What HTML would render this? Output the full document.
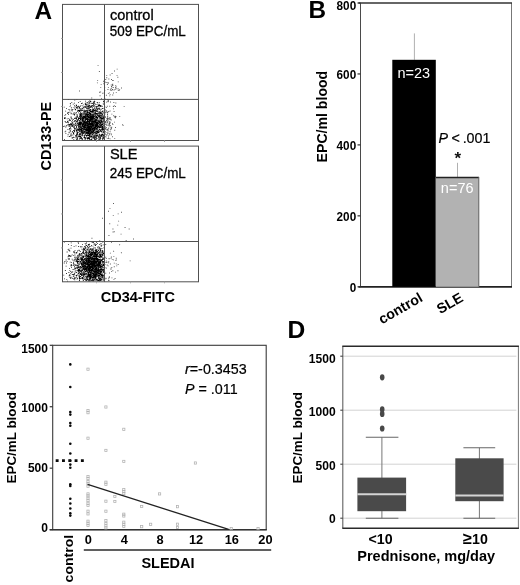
<!DOCTYPE html>
<html lang="en">
<head>
<meta charset="utf-8">
<title>EPC figure</title>
<style>
html,body{margin:0;padding:0;background:#fff;}
body{width:520px;height:585px;overflow:hidden;font-family:"Liberation Sans", sans-serif;}
svg{display:block;font-family:"Liberation Sans", sans-serif;will-change:transform;filter:grayscale(1);}
</style>
</head>
<body>
<svg width="520" height="585" viewBox="0 0 520 585">
<rect x="0" y="0" width="520" height="585" fill="#fff"/>
<g id="panelA">
<text x="34.6" y="18.6" font-size="24.4" font-weight="bold" text-anchor="start" fill="#000" >A</text>
<path d="M100.1 130.5h0.8v0.8h-0.8zM101.9 114.7h0.8v0.8h-0.8zM89.5 112.8h0.8v0.8h-0.8zM95.9 138.4h0.8v0.8h-0.8zM82.0 138.2h0.8v0.8h-0.8zM97.8 121.8h0.8v0.8h-0.8zM72.9 136.7h0.8v0.8h-0.8zM88.7 117.8h0.8v0.8h-0.8zM92.9 127.4h0.8v0.8h-0.8zM102.1 113.9h0.8v0.8h-0.8zM99.0 137.5h0.8v0.8h-0.8zM101.7 121.8h0.8v0.8h-0.8zM83.3 133.1h0.8v0.8h-0.8zM90.5 124.7h0.8v0.8h-0.8zM101.5 121.0h0.8v0.8h-0.8zM70.2 119.9h0.8v0.8h-0.8zM73.9 131.2h0.8v0.8h-0.8zM92.2 117.8h0.8v0.8h-0.8zM89.4 131.3h0.8v0.8h-0.8zM90.2 136.0h0.8v0.8h-0.8zM89.0 133.3h0.8v0.8h-0.8zM102.0 138.6h0.8v0.8h-0.8zM83.9 131.8h0.8v0.8h-0.8zM73.7 113.3h0.8v0.8h-0.8zM73.0 133.5h0.8v0.8h-0.8zM79.2 123.4h0.8v0.8h-0.8zM87.9 123.2h0.8v0.8h-0.8zM84.5 125.7h0.8v0.8h-0.8zM76.2 126.0h0.8v0.8h-0.8zM82.5 120.6h0.8v0.8h-0.8zM78.9 122.1h0.8v0.8h-0.8zM90.4 119.2h0.8v0.8h-0.8zM83.6 120.9h0.8v0.8h-0.8zM87.1 139.4h0.8v0.8h-0.8zM78.7 122.9h0.8v0.8h-0.8zM90.7 102.8h0.8v0.8h-0.8zM78.7 128.0h0.8v0.8h-0.8zM79.4 123.1h0.8v0.8h-0.8zM86.3 113.8h0.8v0.8h-0.8zM80.1 121.3h0.8v0.8h-0.8zM101.7 118.3h0.8v0.8h-0.8zM103.8 107.8h0.8v0.8h-0.8zM88.9 135.5h0.8v0.8h-0.8zM96.1 130.5h0.8v0.8h-0.8zM95.1 126.6h0.8v0.8h-0.8zM100.7 129.7h0.8v0.8h-0.8zM93.3 103.9h0.8v0.8h-0.8zM97.0 135.8h0.8v0.8h-0.8zM87.0 119.1h0.8v0.8h-0.8zM97.6 120.7h0.8v0.8h-0.8zM64.1 125.8h0.8v0.8h-0.8zM92.0 118.7h0.8v0.8h-0.8zM80.3 128.2h0.8v0.8h-0.8zM86.6 128.8h0.8v0.8h-0.8zM83.9 137.2h0.8v0.8h-0.8zM100.1 125.0h0.8v0.8h-0.8zM88.0 124.2h0.8v0.8h-0.8zM83.7 135.0h0.8v0.8h-0.8zM86.4 123.2h0.8v0.8h-0.8zM94.7 128.0h0.8v0.8h-0.8zM103.6 127.5h0.8v0.8h-0.8zM88.9 128.4h0.8v0.8h-0.8zM73.2 133.2h0.8v0.8h-0.8zM92.2 116.9h0.8v0.8h-0.8zM77.7 117.2h0.8v0.8h-0.8zM91.9 125.2h0.8v0.8h-0.8zM86.2 114.3h0.8v0.8h-0.8zM90.6 119.8h0.8v0.8h-0.8zM91.4 120.8h0.8v0.8h-0.8zM95.5 115.7h0.8v0.8h-0.8zM83.8 133.6h0.8v0.8h-0.8zM95.4 120.2h0.8v0.8h-0.8zM96.6 131.8h0.8v0.8h-0.8zM89.8 128.0h0.8v0.8h-0.8zM90.9 126.1h0.8v0.8h-0.8zM91.7 131.3h0.8v0.8h-0.8zM84.7 138.4h0.8v0.8h-0.8zM87.0 134.2h0.8v0.8h-0.8zM92.9 131.3h0.8v0.8h-0.8zM95.8 124.3h0.8v0.8h-0.8zM103.1 125.0h0.8v0.8h-0.8zM84.3 121.6h0.8v0.8h-0.8zM70.1 127.0h0.8v0.8h-0.8zM101.7 134.3h0.8v0.8h-0.8zM80.6 128.0h0.8v0.8h-0.8zM93.8 115.4h0.8v0.8h-0.8zM76.7 122.9h0.8v0.8h-0.8zM97.1 122.6h0.8v0.8h-0.8zM96.0 110.7h0.8v0.8h-0.8zM83.9 116.3h0.8v0.8h-0.8zM87.9 126.1h0.8v0.8h-0.8zM91.7 126.1h0.8v0.8h-0.8zM89.1 116.3h0.8v0.8h-0.8zM91.3 126.9h0.8v0.8h-0.8zM98.7 107.5h0.8v0.8h-0.8zM86.2 116.8h0.8v0.8h-0.8zM89.8 131.3h0.8v0.8h-0.8zM84.7 124.9h0.8v0.8h-0.8zM83.3 126.0h0.8v0.8h-0.8zM86.6 131.7h0.8v0.8h-0.8zM97.7 123.6h0.8v0.8h-0.8zM79.7 125.3h0.8v0.8h-0.8zM92.5 134.1h0.8v0.8h-0.8zM96.1 123.7h0.8v0.8h-0.8zM96.7 128.6h0.8v0.8h-0.8zM91.2 124.0h0.8v0.8h-0.8zM87.5 129.9h0.8v0.8h-0.8zM80.6 117.6h0.8v0.8h-0.8zM89.5 109.7h0.8v0.8h-0.8zM85.8 104.6h0.8v0.8h-0.8zM83.8 128.8h0.8v0.8h-0.8zM94.3 123.0h0.8v0.8h-0.8zM87.6 110.2h0.8v0.8h-0.8zM80.0 112.5h0.8v0.8h-0.8zM91.3 118.7h0.8v0.8h-0.8zM79.7 121.8h0.8v0.8h-0.8zM97.2 108.9h0.8v0.8h-0.8zM94.6 112.5h0.8v0.8h-0.8zM99.5 114.6h0.8v0.8h-0.8zM87.4 117.1h0.8v0.8h-0.8zM93.9 124.5h0.8v0.8h-0.8zM87.0 126.9h0.8v0.8h-0.8zM95.0 113.2h0.8v0.8h-0.8zM81.3 114.0h0.8v0.8h-0.8zM85.4 113.6h0.8v0.8h-0.8zM79.1 123.3h0.8v0.8h-0.8zM87.8 120.6h0.8v0.8h-0.8zM89.0 116.4h0.8v0.8h-0.8zM95.4 126.8h0.8v0.8h-0.8zM88.8 117.2h0.8v0.8h-0.8zM82.4 130.7h0.8v0.8h-0.8zM83.7 108.8h0.8v0.8h-0.8zM80.6 114.5h0.8v0.8h-0.8zM93.7 126.0h0.8v0.8h-0.8zM89.2 139.0h0.8v0.8h-0.8zM85.9 135.0h0.8v0.8h-0.8zM92.5 123.8h0.8v0.8h-0.8zM88.0 137.4h0.8v0.8h-0.8zM85.0 110.3h0.8v0.8h-0.8zM86.9 134.5h0.8v0.8h-0.8zM80.3 125.8h0.8v0.8h-0.8zM102.6 137.0h0.8v0.8h-0.8zM91.0 122.8h0.8v0.8h-0.8zM74.5 127.9h0.8v0.8h-0.8zM98.5 121.5h0.8v0.8h-0.8zM88.8 129.9h0.8v0.8h-0.8zM94.9 121.3h0.8v0.8h-0.8zM85.5 121.0h0.8v0.8h-0.8zM69.0 120.0h0.8v0.8h-0.8zM100.0 136.4h0.8v0.8h-0.8zM72.0 122.4h0.8v0.8h-0.8zM87.7 117.0h0.8v0.8h-0.8zM97.3 117.0h0.8v0.8h-0.8zM90.2 123.6h0.8v0.8h-0.8zM80.3 124.0h0.8v0.8h-0.8zM88.0 128.4h0.8v0.8h-0.8zM85.4 130.3h0.8v0.8h-0.8zM89.8 123.0h0.8v0.8h-0.8zM89.6 105.5h0.8v0.8h-0.8zM103.5 138.2h0.8v0.8h-0.8zM85.3 103.8h0.8v0.8h-0.8zM87.5 132.3h0.8v0.8h-0.8zM82.8 118.8h0.8v0.8h-0.8zM83.4 126.8h0.8v0.8h-0.8zM93.2 124.8h0.8v0.8h-0.8zM93.0 116.9h0.8v0.8h-0.8zM95.3 120.7h0.8v0.8h-0.8zM88.5 134.7h0.8v0.8h-0.8zM92.5 131.9h0.8v0.8h-0.8zM76.9 108.3h0.8v0.8h-0.8zM99.4 119.2h0.8v0.8h-0.8zM89.0 120.6h0.8v0.8h-0.8zM88.5 113.3h0.8v0.8h-0.8zM89.7 110.0h0.8v0.8h-0.8zM88.9 126.4h0.8v0.8h-0.8zM93.4 121.3h0.8v0.8h-0.8zM81.9 125.0h0.8v0.8h-0.8zM85.4 138.2h0.8v0.8h-0.8zM95.9 122.4h0.8v0.8h-0.8zM85.5 116.9h0.8v0.8h-0.8zM81.6 120.2h0.8v0.8h-0.8zM92.0 128.3h0.8v0.8h-0.8zM83.6 123.6h0.8v0.8h-0.8zM93.0 128.2h0.8v0.8h-0.8zM96.0 128.1h0.8v0.8h-0.8zM94.7 127.3h0.8v0.8h-0.8zM88.9 135.7h0.8v0.8h-0.8zM100.1 113.3h0.8v0.8h-0.8zM82.1 128.6h0.8v0.8h-0.8zM81.4 122.1h0.8v0.8h-0.8zM87.9 126.4h0.8v0.8h-0.8zM96.5 131.4h0.8v0.8h-0.8zM78.0 109.9h0.8v0.8h-0.8zM90.9 130.8h0.8v0.8h-0.8zM89.6 133.0h0.8v0.8h-0.8zM69.9 131.3h0.8v0.8h-0.8zM99.4 108.0h0.8v0.8h-0.8zM91.6 123.8h0.8v0.8h-0.8zM85.0 104.2h0.8v0.8h-0.8zM78.5 125.6h0.8v0.8h-0.8zM97.9 123.5h0.8v0.8h-0.8zM103.6 115.7h0.8v0.8h-0.8zM103.3 103.7h0.8v0.8h-0.8zM89.5 128.0h0.8v0.8h-0.8zM95.3 132.9h0.8v0.8h-0.8zM81.2 103.1h0.8v0.8h-0.8zM87.4 110.1h0.8v0.8h-0.8zM90.4 113.2h0.8v0.8h-0.8zM87.2 122.7h0.8v0.8h-0.8zM90.7 116.8h0.8v0.8h-0.8zM100.1 117.0h0.8v0.8h-0.8zM88.0 128.1h0.8v0.8h-0.8zM89.4 136.9h0.8v0.8h-0.8zM88.2 119.2h0.8v0.8h-0.8zM98.8 128.4h0.8v0.8h-0.8zM82.3 118.9h0.8v0.8h-0.8zM91.4 136.1h0.8v0.8h-0.8zM96.6 124.0h0.8v0.8h-0.8zM68.9 129.3h0.8v0.8h-0.8zM78.8 108.1h0.8v0.8h-0.8zM83.4 124.6h0.8v0.8h-0.8zM87.5 115.8h0.8v0.8h-0.8zM99.3 125.0h0.8v0.8h-0.8zM85.5 114.8h0.8v0.8h-0.8zM88.9 137.4h0.8v0.8h-0.8zM94.9 120.4h0.8v0.8h-0.8zM97.0 125.3h0.8v0.8h-0.8zM78.3 130.3h0.8v0.8h-0.8zM94.3 139.4h0.8v0.8h-0.8zM88.8 112.4h0.8v0.8h-0.8zM90.2 130.1h0.8v0.8h-0.8zM90.0 115.7h0.8v0.8h-0.8zM98.9 120.2h0.8v0.8h-0.8zM91.8 129.7h0.8v0.8h-0.8zM78.7 130.4h0.8v0.8h-0.8zM94.0 121.8h0.8v0.8h-0.8zM84.9 127.5h0.8v0.8h-0.8zM94.1 122.7h0.8v0.8h-0.8zM92.3 124.6h0.8v0.8h-0.8zM75.4 136.0h0.8v0.8h-0.8zM99.7 113.3h0.8v0.8h-0.8zM89.5 121.1h0.8v0.8h-0.8zM85.3 115.6h0.8v0.8h-0.8zM84.2 129.5h0.8v0.8h-0.8zM89.8 124.1h0.8v0.8h-0.8zM88.0 132.1h0.8v0.8h-0.8zM93.6 122.2h0.8v0.8h-0.8zM95.1 122.1h0.8v0.8h-0.8zM79.8 137.2h0.8v0.8h-0.8zM93.4 114.5h0.8v0.8h-0.8zM98.6 126.7h0.8v0.8h-0.8zM76.4 138.6h0.8v0.8h-0.8zM92.3 131.9h0.8v0.8h-0.8zM91.2 122.1h0.8v0.8h-0.8zM76.5 132.6h0.8v0.8h-0.8zM89.8 120.8h0.8v0.8h-0.8zM92.4 124.2h0.8v0.8h-0.8zM95.2 120.0h0.8v0.8h-0.8zM89.2 103.4h0.8v0.8h-0.8zM85.9 129.9h0.8v0.8h-0.8zM100.7 120.1h0.8v0.8h-0.8zM88.5 138.4h0.8v0.8h-0.8zM86.8 130.4h0.8v0.8h-0.8zM103.6 123.9h0.8v0.8h-0.8zM99.8 116.8h0.8v0.8h-0.8zM91.2 122.8h0.8v0.8h-0.8zM90.5 134.1h0.8v0.8h-0.8zM89.4 133.5h0.8v0.8h-0.8zM70.2 124.4h0.8v0.8h-0.8zM95.7 139.0h0.8v0.8h-0.8zM88.4 106.1h0.8v0.8h-0.8zM91.1 110.8h0.8v0.8h-0.8zM86.0 130.8h0.8v0.8h-0.8zM80.0 136.0h0.8v0.8h-0.8zM94.4 126.5h0.8v0.8h-0.8zM89.6 116.4h0.8v0.8h-0.8zM91.5 124.5h0.8v0.8h-0.8zM82.4 120.8h0.8v0.8h-0.8zM89.2 127.4h0.8v0.8h-0.8zM97.6 129.8h0.8v0.8h-0.8zM87.2 113.6h0.8v0.8h-0.8zM90.4 133.2h0.8v0.8h-0.8zM80.3 113.8h0.8v0.8h-0.8zM89.3 105.3h0.8v0.8h-0.8zM87.3 119.4h0.8v0.8h-0.8zM93.3 116.9h0.8v0.8h-0.8zM82.1 119.8h0.8v0.8h-0.8zM89.1 117.3h0.8v0.8h-0.8zM89.6 130.6h0.8v0.8h-0.8zM82.9 119.6h0.8v0.8h-0.8zM83.4 123.2h0.8v0.8h-0.8zM93.9 110.7h0.8v0.8h-0.8zM93.4 123.3h0.8v0.8h-0.8zM74.2 126.2h0.8v0.8h-0.8zM99.5 105.9h0.8v0.8h-0.8zM96.3 125.5h0.8v0.8h-0.8zM93.5 127.7h0.8v0.8h-0.8zM100.5 121.4h0.8v0.8h-0.8zM96.8 119.6h0.8v0.8h-0.8zM95.6 115.8h0.8v0.8h-0.8zM93.2 122.0h0.8v0.8h-0.8zM79.9 116.1h0.8v0.8h-0.8zM91.1 132.3h0.8v0.8h-0.8zM93.1 128.4h0.8v0.8h-0.8zM89.1 136.2h0.8v0.8h-0.8zM86.2 118.3h0.8v0.8h-0.8zM97.0 124.1h0.8v0.8h-0.8zM87.2 118.1h0.8v0.8h-0.8zM87.3 129.4h0.8v0.8h-0.8zM92.5 112.1h0.8v0.8h-0.8zM93.1 125.2h0.8v0.8h-0.8zM81.1 130.8h0.8v0.8h-0.8zM87.1 120.3h0.8v0.8h-0.8zM96.2 135.9h0.8v0.8h-0.8zM83.7 127.6h0.8v0.8h-0.8zM85.4 134.7h0.8v0.8h-0.8zM84.1 131.1h0.8v0.8h-0.8zM93.9 137.8h0.8v0.8h-0.8zM89.8 124.5h0.8v0.8h-0.8zM96.7 117.8h0.8v0.8h-0.8zM93.2 114.8h0.8v0.8h-0.8zM96.4 116.5h0.8v0.8h-0.8zM90.3 124.9h0.8v0.8h-0.8zM78.1 119.2h0.8v0.8h-0.8zM92.6 121.3h0.8v0.8h-0.8zM83.7 117.2h0.8v0.8h-0.8zM84.8 123.4h0.8v0.8h-0.8zM87.4 134.7h0.8v0.8h-0.8zM93.1 121.5h0.8v0.8h-0.8zM74.3 124.5h0.8v0.8h-0.8zM94.9 122.2h0.8v0.8h-0.8zM99.0 121.8h0.8v0.8h-0.8zM99.1 116.1h0.8v0.8h-0.8zM91.7 118.5h0.8v0.8h-0.8zM90.8 117.0h0.8v0.8h-0.8zM76.1 133.8h0.8v0.8h-0.8zM92.0 118.2h0.8v0.8h-0.8zM91.2 132.8h0.8v0.8h-0.8zM81.3 122.5h0.8v0.8h-0.8zM94.0 128.4h0.8v0.8h-0.8zM86.7 103.7h0.8v0.8h-0.8zM99.9 126.6h0.8v0.8h-0.8zM89.6 120.9h0.8v0.8h-0.8zM91.7 119.5h0.8v0.8h-0.8zM80.9 116.5h0.8v0.8h-0.8zM84.5 117.7h0.8v0.8h-0.8zM79.8 129.5h0.8v0.8h-0.8zM78.5 129.7h0.8v0.8h-0.8zM81.0 126.8h0.8v0.8h-0.8zM101.0 125.4h0.8v0.8h-0.8zM83.4 124.0h0.8v0.8h-0.8zM90.7 107.2h0.8v0.8h-0.8zM84.4 125.0h0.8v0.8h-0.8zM85.6 124.2h0.8v0.8h-0.8zM95.7 130.7h0.8v0.8h-0.8zM97.1 129.0h0.8v0.8h-0.8zM87.1 123.3h0.8v0.8h-0.8zM87.2 120.6h0.8v0.8h-0.8zM88.0 107.3h0.8v0.8h-0.8zM86.7 123.3h0.8v0.8h-0.8zM81.3 123.3h0.8v0.8h-0.8zM93.8 122.0h0.8v0.8h-0.8zM91.7 117.8h0.8v0.8h-0.8zM99.2 122.2h0.8v0.8h-0.8zM94.1 102.4h0.8v0.8h-0.8zM96.7 127.0h0.8v0.8h-0.8zM89.7 118.0h0.8v0.8h-0.8zM94.9 118.9h0.8v0.8h-0.8zM91.4 118.7h0.8v0.8h-0.8zM70.6 123.2h0.8v0.8h-0.8zM91.2 130.6h0.8v0.8h-0.8zM82.1 123.2h0.8v0.8h-0.8zM94.7 124.9h0.8v0.8h-0.8zM81.9 105.4h0.8v0.8h-0.8zM96.7 137.9h0.8v0.8h-0.8zM97.2 131.2h0.8v0.8h-0.8zM84.3 116.8h0.8v0.8h-0.8zM97.0 114.9h0.8v0.8h-0.8zM74.3 114.1h0.8v0.8h-0.8zM83.7 116.6h0.8v0.8h-0.8zM91.4 116.5h0.8v0.8h-0.8zM100.5 122.8h0.8v0.8h-0.8zM80.4 135.8h0.8v0.8h-0.8zM84.6 125.6h0.8v0.8h-0.8zM89.4 120.5h0.8v0.8h-0.8zM92.2 117.0h0.8v0.8h-0.8zM74.0 102.7h0.8v0.8h-0.8zM78.9 116.4h0.8v0.8h-0.8zM89.3 124.0h0.8v0.8h-0.8zM94.2 124.6h0.8v0.8h-0.8zM82.8 116.8h0.8v0.8h-0.8zM71.7 121.9h0.8v0.8h-0.8zM93.6 128.5h0.8v0.8h-0.8zM88.5 121.9h0.8v0.8h-0.8zM97.4 123.6h0.8v0.8h-0.8zM95.7 129.0h0.8v0.8h-0.8zM91.3 135.8h0.8v0.8h-0.8zM84.7 120.1h0.8v0.8h-0.8zM82.7 116.0h0.8v0.8h-0.8zM89.7 128.8h0.8v0.8h-0.8zM99.4 131.1h0.8v0.8h-0.8zM99.6 111.6h0.8v0.8h-0.8zM84.1 127.8h0.8v0.8h-0.8zM101.6 124.5h0.8v0.8h-0.8zM82.3 120.2h0.8v0.8h-0.8zM84.0 115.4h0.8v0.8h-0.8zM102.1 117.6h0.8v0.8h-0.8zM99.5 126.7h0.8v0.8h-0.8zM84.4 127.4h0.8v0.8h-0.8zM103.1 129.4h0.8v0.8h-0.8zM100.1 124.4h0.8v0.8h-0.8zM93.8 121.6h0.8v0.8h-0.8zM93.1 135.7h0.8v0.8h-0.8zM77.5 122.9h0.8v0.8h-0.8zM91.5 118.1h0.8v0.8h-0.8zM86.9 130.9h0.8v0.8h-0.8zM89.3 122.5h0.8v0.8h-0.8zM97.3 110.6h0.8v0.8h-0.8zM76.0 126.8h0.8v0.8h-0.8zM83.8 125.5h0.8v0.8h-0.8zM94.3 127.7h0.8v0.8h-0.8zM96.9 125.6h0.8v0.8h-0.8zM89.5 109.0h0.8v0.8h-0.8zM97.0 111.3h0.8v0.8h-0.8zM88.4 135.4h0.8v0.8h-0.8zM75.9 130.0h0.8v0.8h-0.8zM83.0 122.4h0.8v0.8h-0.8zM75.8 104.5h0.8v0.8h-0.8zM96.0 124.2h0.8v0.8h-0.8zM90.7 139.0h0.8v0.8h-0.8zM102.6 118.2h0.8v0.8h-0.8zM86.6 129.6h0.8v0.8h-0.8zM99.4 116.2h0.8v0.8h-0.8zM85.1 110.5h0.8v0.8h-0.8zM98.9 122.1h0.8v0.8h-0.8zM96.4 111.2h0.8v0.8h-0.8zM95.1 115.6h0.8v0.8h-0.8zM87.8 111.4h0.8v0.8h-0.8zM87.4 129.6h0.8v0.8h-0.8zM87.1 120.9h0.8v0.8h-0.8zM93.5 120.7h0.8v0.8h-0.8zM93.4 124.3h0.8v0.8h-0.8zM96.5 119.8h0.8v0.8h-0.8zM90.8 125.3h0.8v0.8h-0.8zM102.0 127.2h0.8v0.8h-0.8zM80.8 112.7h0.8v0.8h-0.8zM89.2 120.0h0.8v0.8h-0.8zM82.8 118.7h0.8v0.8h-0.8zM95.9 107.6h0.8v0.8h-0.8zM91.9 121.3h0.8v0.8h-0.8zM102.1 108.1h0.8v0.8h-0.8zM93.3 122.0h0.8v0.8h-0.8zM90.6 127.9h0.8v0.8h-0.8zM79.1 110.4h0.8v0.8h-0.8zM84.8 117.8h0.8v0.8h-0.8zM92.6 126.0h0.8v0.8h-0.8zM89.8 117.1h0.8v0.8h-0.8zM85.8 132.5h0.8v0.8h-0.8zM95.9 124.4h0.8v0.8h-0.8zM86.8 138.1h0.8v0.8h-0.8zM84.5 129.6h0.8v0.8h-0.8zM99.2 121.0h0.8v0.8h-0.8zM96.4 113.0h0.8v0.8h-0.8zM98.0 125.4h0.8v0.8h-0.8zM76.2 129.8h0.8v0.8h-0.8zM82.0 135.5h0.8v0.8h-0.8zM83.8 122.0h0.8v0.8h-0.8zM91.9 120.4h0.8v0.8h-0.8zM91.7 118.3h0.8v0.8h-0.8zM95.1 123.6h0.8v0.8h-0.8zM79.7 124.1h0.8v0.8h-0.8zM91.1 117.8h0.8v0.8h-0.8zM81.7 123.8h0.8v0.8h-0.8zM92.7 117.1h0.8v0.8h-0.8zM95.9 120.8h0.8v0.8h-0.8zM92.4 137.7h0.8v0.8h-0.8zM85.4 123.5h0.8v0.8h-0.8zM87.2 120.6h0.8v0.8h-0.8zM92.6 109.4h0.8v0.8h-0.8zM92.2 110.6h0.8v0.8h-0.8zM84.3 131.0h0.8v0.8h-0.8zM75.6 135.7h0.8v0.8h-0.8zM91.3 130.6h0.8v0.8h-0.8zM97.6 117.1h0.8v0.8h-0.8zM76.8 136.9h0.8v0.8h-0.8zM90.5 133.9h0.8v0.8h-0.8zM75.7 120.4h0.8v0.8h-0.8zM89.7 110.0h0.8v0.8h-0.8zM85.2 130.3h0.8v0.8h-0.8zM98.6 138.5h0.8v0.8h-0.8zM82.2 110.3h0.8v0.8h-0.8zM93.9 132.3h0.8v0.8h-0.8zM91.1 111.3h0.8v0.8h-0.8zM96.1 131.0h0.8v0.8h-0.8zM94.1 118.9h0.8v0.8h-0.8zM92.1 130.9h0.8v0.8h-0.8zM84.8 106.2h0.8v0.8h-0.8zM92.3 128.0h0.8v0.8h-0.8zM89.6 131.9h0.8v0.8h-0.8zM84.6 122.7h0.8v0.8h-0.8zM86.9 128.9h0.8v0.8h-0.8zM102.9 121.1h0.8v0.8h-0.8zM93.3 108.8h0.8v0.8h-0.8zM84.4 126.0h0.8v0.8h-0.8zM86.9 120.1h0.8v0.8h-0.8zM91.8 132.5h0.8v0.8h-0.8zM97.8 125.5h0.8v0.8h-0.8zM92.8 109.5h0.8v0.8h-0.8zM77.6 123.5h0.8v0.8h-0.8zM85.0 124.7h0.8v0.8h-0.8zM82.7 117.7h0.8v0.8h-0.8zM88.5 103.0h0.8v0.8h-0.8zM79.6 128.7h0.8v0.8h-0.8zM89.5 113.7h0.8v0.8h-0.8zM91.3 138.4h0.8v0.8h-0.8zM100.1 112.4h0.8v0.8h-0.8zM84.4 106.0h0.8v0.8h-0.8zM84.3 111.3h0.8v0.8h-0.8zM82.5 125.8h0.8v0.8h-0.8zM86.9 120.4h0.8v0.8h-0.8zM76.7 131.4h0.8v0.8h-0.8zM86.8 110.6h0.8v0.8h-0.8zM89.5 133.4h0.8v0.8h-0.8zM78.3 127.1h0.8v0.8h-0.8zM78.9 131.1h0.8v0.8h-0.8zM94.3 121.0h0.8v0.8h-0.8zM81.3 110.0h0.8v0.8h-0.8zM82.0 130.5h0.8v0.8h-0.8zM91.8 123.1h0.8v0.8h-0.8zM84.7 122.0h0.8v0.8h-0.8zM93.5 101.6h0.8v0.8h-0.8zM85.7 123.0h0.8v0.8h-0.8zM80.1 118.2h0.8v0.8h-0.8zM87.4 112.5h0.8v0.8h-0.8zM79.4 109.9h0.8v0.8h-0.8zM80.9 122.2h0.8v0.8h-0.8zM95.0 121.4h0.8v0.8h-0.8zM86.1 114.9h0.8v0.8h-0.8zM89.8 118.7h0.8v0.8h-0.8zM97.3 122.6h0.8v0.8h-0.8zM95.8 126.1h0.8v0.8h-0.8zM88.4 124.4h0.8v0.8h-0.8zM81.8 128.3h0.8v0.8h-0.8zM87.0 115.2h0.8v0.8h-0.8zM88.9 130.2h0.8v0.8h-0.8zM88.4 101.2h0.8v0.8h-0.8zM83.7 122.4h0.8v0.8h-0.8zM92.2 114.6h0.8v0.8h-0.8zM90.5 128.3h0.8v0.8h-0.8zM92.0 106.6h0.8v0.8h-0.8zM83.2 115.6h0.8v0.8h-0.8zM83.9 120.9h0.8v0.8h-0.8zM97.1 121.5h0.8v0.8h-0.8zM79.5 110.2h0.8v0.8h-0.8zM93.3 113.8h0.8v0.8h-0.8zM86.6 134.9h0.8v0.8h-0.8zM100.7 136.1h0.8v0.8h-0.8zM79.5 138.0h0.8v0.8h-0.8zM88.6 132.6h0.8v0.8h-0.8zM89.3 133.4h0.8v0.8h-0.8zM89.7 124.1h0.8v0.8h-0.8zM88.3 116.0h0.8v0.8h-0.8zM89.7 131.5h0.8v0.8h-0.8zM80.7 124.8h0.8v0.8h-0.8zM81.5 113.0h0.8v0.8h-0.8zM91.3 120.9h0.8v0.8h-0.8zM98.1 105.5h0.8v0.8h-0.8zM90.5 118.4h0.8v0.8h-0.8zM95.3 111.9h0.8v0.8h-0.8zM90.8 123.6h0.8v0.8h-0.8zM101.2 119.4h0.8v0.8h-0.8zM89.5 127.8h0.8v0.8h-0.8zM93.3 128.9h0.8v0.8h-0.8zM90.8 114.9h0.8v0.8h-0.8zM90.8 118.0h0.8v0.8h-0.8zM98.4 115.4h0.8v0.8h-0.8zM91.9 109.8h0.8v0.8h-0.8zM101.1 113.3h0.8v0.8h-0.8zM92.4 118.2h0.8v0.8h-0.8zM85.9 112.7h0.8v0.8h-0.8zM89.0 113.4h0.8v0.8h-0.8zM97.4 115.5h0.8v0.8h-0.8zM88.9 130.3h0.8v0.8h-0.8zM95.8 131.9h0.8v0.8h-0.8zM98.3 127.3h0.8v0.8h-0.8zM95.5 132.1h0.8v0.8h-0.8zM79.0 123.6h0.8v0.8h-0.8zM90.1 122.7h0.8v0.8h-0.8zM94.6 114.6h0.8v0.8h-0.8zM78.0 118.2h0.8v0.8h-0.8zM93.9 115.8h0.8v0.8h-0.8zM70.9 135.2h0.8v0.8h-0.8zM100.1 129.6h0.8v0.8h-0.8zM88.2 121.8h0.8v0.8h-0.8zM79.7 114.4h0.8v0.8h-0.8zM96.3 120.0h0.8v0.8h-0.8zM99.5 122.2h0.8v0.8h-0.8zM71.7 125.4h0.8v0.8h-0.8zM102.6 126.7h0.8v0.8h-0.8zM84.1 117.4h0.8v0.8h-0.8zM94.7 116.6h0.8v0.8h-0.8zM79.4 125.3h0.8v0.8h-0.8zM90.2 117.1h0.8v0.8h-0.8zM81.4 127.4h0.8v0.8h-0.8zM74.7 117.6h0.8v0.8h-0.8zM81.3 129.8h0.8v0.8h-0.8zM88.1 134.6h0.8v0.8h-0.8zM101.6 121.4h0.8v0.8h-0.8zM91.5 115.4h0.8v0.8h-0.8zM86.6 130.7h0.8v0.8h-0.8zM79.3 116.6h0.8v0.8h-0.8zM90.0 120.9h0.8v0.8h-0.8zM86.5 104.2h0.8v0.8h-0.8zM86.9 122.7h0.8v0.8h-0.8zM89.2 124.5h0.8v0.8h-0.8zM80.0 114.8h0.8v0.8h-0.8zM94.0 103.5h0.8v0.8h-0.8zM80.6 115.1h0.8v0.8h-0.8zM80.4 113.1h0.8v0.8h-0.8zM79.1 115.4h0.8v0.8h-0.8zM92.4 137.1h0.8v0.8h-0.8zM75.7 127.7h0.8v0.8h-0.8zM93.8 127.0h0.8v0.8h-0.8zM103.6 127.2h0.8v0.8h-0.8zM100.0 116.4h0.8v0.8h-0.8zM78.9 136.3h0.8v0.8h-0.8zM92.0 111.7h0.8v0.8h-0.8zM89.1 131.5h0.8v0.8h-0.8zM83.0 127.4h0.8v0.8h-0.8zM78.6 129.2h0.8v0.8h-0.8zM92.1 122.2h0.8v0.8h-0.8zM87.3 122.4h0.8v0.8h-0.8zM100.7 135.1h0.8v0.8h-0.8zM72.8 113.9h0.8v0.8h-0.8zM88.2 124.0h0.8v0.8h-0.8zM81.0 131.7h0.8v0.8h-0.8zM86.2 125.8h0.8v0.8h-0.8zM85.9 118.4h0.8v0.8h-0.8zM90.4 124.9h0.8v0.8h-0.8zM102.2 123.9h0.8v0.8h-0.8zM103.9 133.5h0.8v0.8h-0.8zM90.6 124.8h0.8v0.8h-0.8zM88.3 116.6h0.8v0.8h-0.8zM88.9 117.5h0.8v0.8h-0.8zM103.3 128.5h0.8v0.8h-0.8zM85.7 105.5h0.8v0.8h-0.8zM89.1 119.6h0.8v0.8h-0.8zM80.4 112.8h0.8v0.8h-0.8zM70.6 128.8h0.8v0.8h-0.8zM89.2 122.1h0.8v0.8h-0.8zM101.6 124.8h0.8v0.8h-0.8zM90.9 120.0h0.8v0.8h-0.8zM84.4 137.6h0.8v0.8h-0.8zM86.6 123.8h0.8v0.8h-0.8zM82.1 132.6h0.8v0.8h-0.8zM77.8 128.8h0.8v0.8h-0.8zM98.7 136.8h0.8v0.8h-0.8zM81.6 133.7h0.8v0.8h-0.8zM83.5 116.4h0.8v0.8h-0.8zM78.4 134.4h0.8v0.8h-0.8zM103.3 117.9h0.8v0.8h-0.8zM83.1 120.3h0.8v0.8h-0.8zM93.0 116.0h0.8v0.8h-0.8zM71.3 107.5h0.8v0.8h-0.8zM95.1 112.4h0.8v0.8h-0.8zM86.3 132.8h0.8v0.8h-0.8zM95.7 117.6h0.8v0.8h-0.8zM85.0 111.8h0.8v0.8h-0.8zM101.6 113.1h0.8v0.8h-0.8zM89.4 124.0h0.8v0.8h-0.8zM88.8 133.3h0.8v0.8h-0.8zM76.3 114.5h0.8v0.8h-0.8zM91.4 121.7h0.8v0.8h-0.8zM97.2 108.6h0.8v0.8h-0.8zM96.8 114.4h0.8v0.8h-0.8zM94.0 110.1h0.8v0.8h-0.8zM96.1 119.0h0.8v0.8h-0.8zM98.7 129.6h0.8v0.8h-0.8zM91.1 117.5h0.8v0.8h-0.8zM89.5 101.7h0.8v0.8h-0.8zM90.6 136.3h0.8v0.8h-0.8zM85.4 114.0h0.8v0.8h-0.8zM91.2 130.4h0.8v0.8h-0.8zM89.6 106.9h0.8v0.8h-0.8zM86.0 124.5h0.8v0.8h-0.8zM94.5 108.3h0.8v0.8h-0.8zM90.7 135.8h0.8v0.8h-0.8zM103.4 111.7h0.8v0.8h-0.8zM80.0 122.0h0.8v0.8h-0.8zM84.9 120.3h0.8v0.8h-0.8zM91.4 129.0h0.8v0.8h-0.8zM87.1 115.0h0.8v0.8h-0.8zM81.7 119.7h0.8v0.8h-0.8zM84.8 122.9h0.8v0.8h-0.8zM98.8 131.7h0.8v0.8h-0.8zM90.6 118.2h0.8v0.8h-0.8zM83.2 118.5h0.8v0.8h-0.8zM87.8 123.3h0.8v0.8h-0.8zM78.7 124.5h0.8v0.8h-0.8zM71.3 133.7h0.8v0.8h-0.8zM91.2 106.2h0.8v0.8h-0.8zM95.8 121.9h0.8v0.8h-0.8zM95.0 125.0h0.8v0.8h-0.8zM91.0 127.1h0.8v0.8h-0.8zM99.7 127.3h0.8v0.8h-0.8zM95.9 115.9h0.8v0.8h-0.8zM82.6 118.0h0.8v0.8h-0.8zM89.0 135.6h0.8v0.8h-0.8zM76.2 105.3h0.8v0.8h-0.8zM85.4 115.3h0.8v0.8h-0.8zM84.8 125.3h0.8v0.8h-0.8zM95.8 125.2h0.8v0.8h-0.8zM102.7 113.4h0.8v0.8h-0.8zM103.6 128.3h0.8v0.8h-0.8zM86.5 110.4h0.8v0.8h-0.8zM92.3 123.2h0.8v0.8h-0.8zM98.1 135.9h0.8v0.8h-0.8zM101.2 118.2h0.8v0.8h-0.8zM86.1 135.5h0.8v0.8h-0.8zM89.7 119.1h0.8v0.8h-0.8zM86.6 130.0h0.8v0.8h-0.8zM96.3 131.1h0.8v0.8h-0.8zM92.5 129.5h0.8v0.8h-0.8zM97.4 134.6h0.8v0.8h-0.8zM102.8 124.7h0.8v0.8h-0.8zM90.3 125.9h0.8v0.8h-0.8zM94.8 120.6h0.8v0.8h-0.8zM95.3 131.4h0.8v0.8h-0.8zM83.1 116.1h0.8v0.8h-0.8zM81.1 138.3h0.8v0.8h-0.8zM77.8 125.4h0.8v0.8h-0.8zM93.2 128.7h0.8v0.8h-0.8zM102.0 128.7h0.8v0.8h-0.8zM85.1 121.8h0.8v0.8h-0.8zM94.0 118.1h0.8v0.8h-0.8zM85.3 126.4h0.8v0.8h-0.8zM86.9 128.4h0.8v0.8h-0.8zM82.2 124.0h0.8v0.8h-0.8zM92.9 120.9h0.8v0.8h-0.8zM92.3 123.1h0.8v0.8h-0.8zM99.4 114.9h0.8v0.8h-0.8zM91.8 133.9h0.8v0.8h-0.8zM88.0 130.6h0.8v0.8h-0.8zM91.9 132.0h0.8v0.8h-0.8zM95.2 128.0h0.8v0.8h-0.8zM91.8 121.5h0.8v0.8h-0.8zM88.5 115.7h0.8v0.8h-0.8zM91.0 123.3h0.8v0.8h-0.8zM92.2 115.5h0.8v0.8h-0.8zM89.8 123.9h0.8v0.8h-0.8zM94.6 113.5h0.8v0.8h-0.8zM93.0 132.7h0.8v0.8h-0.8zM94.5 120.0h0.8v0.8h-0.8zM85.4 121.3h0.8v0.8h-0.8zM95.6 138.1h0.8v0.8h-0.8zM88.2 117.5h0.8v0.8h-0.8zM92.7 125.4h0.8v0.8h-0.8zM81.9 116.6h0.8v0.8h-0.8zM88.6 129.8h0.8v0.8h-0.8zM79.5 113.9h0.8v0.8h-0.8zM93.7 112.0h0.8v0.8h-0.8zM90.4 126.8h0.8v0.8h-0.8zM88.6 113.9h0.8v0.8h-0.8zM89.0 120.4h0.8v0.8h-0.8zM92.3 115.6h0.8v0.8h-0.8zM98.7 107.8h0.8v0.8h-0.8zM88.0 123.6h0.8v0.8h-0.8zM97.6 117.8h0.8v0.8h-0.8zM94.1 118.2h0.8v0.8h-0.8zM86.1 127.7h0.8v0.8h-0.8zM81.7 132.6h0.8v0.8h-0.8zM99.7 123.8h0.8v0.8h-0.8zM80.0 127.3h0.8v0.8h-0.8zM99.2 133.7h0.8v0.8h-0.8zM96.3 106.3h0.8v0.8h-0.8zM83.8 136.9h0.8v0.8h-0.8zM79.2 134.1h0.8v0.8h-0.8zM79.4 123.9h0.8v0.8h-0.8zM79.3 121.3h0.8v0.8h-0.8zM91.1 127.5h0.8v0.8h-0.8zM93.2 124.3h0.8v0.8h-0.8zM87.8 117.6h0.8v0.8h-0.8zM100.8 124.9h0.8v0.8h-0.8zM80.4 118.2h0.8v0.8h-0.8zM88.4 119.3h0.8v0.8h-0.8zM98.6 112.6h0.8v0.8h-0.8zM93.6 124.8h0.8v0.8h-0.8zM79.6 123.9h0.8v0.8h-0.8zM88.7 128.2h0.8v0.8h-0.8zM85.7 126.4h0.8v0.8h-0.8zM75.5 113.3h0.8v0.8h-0.8zM96.1 133.3h0.8v0.8h-0.8zM89.4 117.9h0.8v0.8h-0.8zM98.6 103.8h0.8v0.8h-0.8zM82.8 129.8h0.8v0.8h-0.8zM95.0 113.8h0.8v0.8h-0.8zM73.6 137.1h0.8v0.8h-0.8zM90.8 115.1h0.8v0.8h-0.8zM90.0 132.0h0.8v0.8h-0.8zM67.7 133.9h0.8v0.8h-0.8zM95.7 103.9h0.8v0.8h-0.8zM96.0 106.8h0.8v0.8h-0.8zM99.1 127.2h0.8v0.8h-0.8zM79.0 129.8h0.8v0.8h-0.8zM82.7 132.2h0.8v0.8h-0.8zM97.6 127.7h0.8v0.8h-0.8zM87.8 123.4h0.8v0.8h-0.8zM92.8 101.7h0.8v0.8h-0.8zM79.3 110.8h0.8v0.8h-0.8zM102.5 110.5h0.8v0.8h-0.8zM101.3 126.4h0.8v0.8h-0.8zM88.2 137.6h0.8v0.8h-0.8zM88.0 135.1h0.8v0.8h-0.8zM99.9 117.5h0.8v0.8h-0.8zM89.5 134.9h0.8v0.8h-0.8zM70.6 132.8h0.8v0.8h-0.8zM87.8 131.3h0.8v0.8h-0.8zM86.9 119.7h0.8v0.8h-0.8zM72.1 110.4h0.8v0.8h-0.8zM82.9 122.9h0.8v0.8h-0.8zM79.4 125.9h0.8v0.8h-0.8zM92.1 127.4h0.8v0.8h-0.8zM94.3 129.3h0.8v0.8h-0.8zM83.7 127.8h0.8v0.8h-0.8zM89.6 127.5h0.8v0.8h-0.8zM74.1 118.3h0.8v0.8h-0.8zM81.1 115.7h0.8v0.8h-0.8zM86.2 118.4h0.8v0.8h-0.8zM87.2 113.4h0.8v0.8h-0.8zM78.5 119.7h0.8v0.8h-0.8zM82.4 125.1h0.8v0.8h-0.8zM89.8 130.1h0.8v0.8h-0.8zM81.3 122.8h0.8v0.8h-0.8zM88.4 122.8h0.8v0.8h-0.8zM79.5 138.4h0.8v0.8h-0.8zM90.3 135.5h0.8v0.8h-0.8zM82.6 123.9h0.8v0.8h-0.8zM96.5 122.9h0.8v0.8h-0.8zM90.2 118.0h0.8v0.8h-0.8zM97.2 127.0h0.8v0.8h-0.8zM76.8 129.2h0.8v0.8h-0.8zM94.1 127.8h0.8v0.8h-0.8zM102.8 119.6h0.8v0.8h-0.8zM93.8 130.5h0.8v0.8h-0.8zM81.9 134.8h0.8v0.8h-0.8zM77.3 111.3h0.8v0.8h-0.8zM93.9 113.3h0.8v0.8h-0.8zM88.5 108.0h0.8v0.8h-0.8zM90.1 112.8h0.8v0.8h-0.8zM92.4 109.1h0.8v0.8h-0.8zM93.3 121.0h0.8v0.8h-0.8zM90.0 122.9h0.8v0.8h-0.8zM90.6 111.1h0.8v0.8h-0.8zM68.0 123.8h0.8v0.8h-0.8zM81.6 119.2h0.8v0.8h-0.8zM93.1 104.8h0.8v0.8h-0.8zM83.1 117.8h0.8v0.8h-0.8zM80.6 126.6h0.8v0.8h-0.8zM88.3 115.8h0.8v0.8h-0.8zM81.2 131.1h0.8v0.8h-0.8zM84.0 129.0h0.8v0.8h-0.8zM93.3 105.7h0.8v0.8h-0.8zM80.4 123.5h0.8v0.8h-0.8zM92.4 130.8h0.8v0.8h-0.8zM96.2 133.2h0.8v0.8h-0.8zM86.4 121.5h0.8v0.8h-0.8zM96.0 119.5h0.8v0.8h-0.8zM98.4 108.6h0.8v0.8h-0.8zM95.0 121.9h0.8v0.8h-0.8zM73.0 132.7h0.8v0.8h-0.8zM92.1 123.7h0.8v0.8h-0.8zM80.5 119.1h0.8v0.8h-0.8zM102.2 115.7h0.8v0.8h-0.8zM79.4 122.3h0.8v0.8h-0.8zM86.2 114.9h0.8v0.8h-0.8zM82.4 133.3h0.8v0.8h-0.8zM84.9 113.2h0.8v0.8h-0.8zM96.1 128.8h0.8v0.8h-0.8zM80.7 130.5h0.8v0.8h-0.8zM74.0 114.8h0.8v0.8h-0.8zM99.0 121.1h0.8v0.8h-0.8zM78.6 128.3h0.8v0.8h-0.8zM97.2 123.3h0.8v0.8h-0.8zM74.3 120.2h0.8v0.8h-0.8zM93.0 130.7h0.8v0.8h-0.8zM103.2 136.3h0.8v0.8h-0.8zM83.8 107.3h0.8v0.8h-0.8zM93.4 130.0h0.8v0.8h-0.8zM79.6 122.7h0.8v0.8h-0.8zM91.5 129.0h0.8v0.8h-0.8zM81.7 114.2h0.8v0.8h-0.8zM87.9 121.4h0.8v0.8h-0.8zM76.9 132.2h0.8v0.8h-0.8zM85.0 137.0h0.8v0.8h-0.8zM96.7 123.7h0.8v0.8h-0.8zM95.6 113.0h0.8v0.8h-0.8zM86.8 118.1h0.8v0.8h-0.8zM78.8 123.7h0.8v0.8h-0.8zM88.3 137.0h0.8v0.8h-0.8zM81.8 119.1h0.8v0.8h-0.8zM93.0 127.3h0.8v0.8h-0.8zM89.7 119.0h0.8v0.8h-0.8zM93.7 126.9h0.8v0.8h-0.8zM74.0 121.0h0.8v0.8h-0.8zM78.0 112.4h0.8v0.8h-0.8zM90.7 124.1h0.8v0.8h-0.8zM90.5 115.3h0.8v0.8h-0.8zM87.8 114.9h0.8v0.8h-0.8zM92.7 130.0h0.8v0.8h-0.8zM84.2 131.9h0.8v0.8h-0.8zM87.4 125.6h0.8v0.8h-0.8zM98.1 115.6h0.8v0.8h-0.8zM98.3 121.0h0.8v0.8h-0.8zM84.9 118.6h0.8v0.8h-0.8zM92.4 116.2h0.8v0.8h-0.8zM72.5 109.2h0.8v0.8h-0.8zM69.0 124.1h0.8v0.8h-0.8zM89.9 132.8h0.8v0.8h-0.8zM88.3 117.0h0.8v0.8h-0.8zM74.7 125.1h0.8v0.8h-0.8zM89.7 129.3h0.8v0.8h-0.8zM86.1 128.2h0.8v0.8h-0.8zM96.4 122.1h0.8v0.8h-0.8zM85.7 121.7h0.8v0.8h-0.8zM81.4 121.5h0.8v0.8h-0.8zM87.0 125.5h0.8v0.8h-0.8zM100.7 135.8h0.8v0.8h-0.8zM85.8 129.2h0.8v0.8h-0.8zM92.0 130.7h0.8v0.8h-0.8zM89.7 126.0h0.8v0.8h-0.8zM85.6 116.1h0.8v0.8h-0.8zM96.8 135.7h0.8v0.8h-0.8zM95.1 127.6h0.8v0.8h-0.8zM91.7 119.3h0.8v0.8h-0.8zM74.5 129.7h0.8v0.8h-0.8zM91.2 118.3h0.8v0.8h-0.8zM81.4 135.5h0.8v0.8h-0.8zM83.5 123.3h0.8v0.8h-0.8zM85.2 125.0h0.8v0.8h-0.8zM87.7 116.5h0.8v0.8h-0.8zM98.5 116.1h0.8v0.8h-0.8zM85.2 128.7h0.8v0.8h-0.8zM85.0 119.4h0.8v0.8h-0.8zM92.5 120.0h0.8v0.8h-0.8zM79.0 122.5h0.8v0.8h-0.8zM80.3 132.6h0.8v0.8h-0.8zM82.9 120.2h0.8v0.8h-0.8zM86.8 126.0h0.8v0.8h-0.8zM84.2 136.0h0.8v0.8h-0.8zM97.9 131.1h0.8v0.8h-0.8zM83.1 132.0h0.8v0.8h-0.8zM88.6 126.8h0.8v0.8h-0.8zM87.2 129.7h0.8v0.8h-0.8zM98.9 134.1h0.8v0.8h-0.8zM87.8 132.9h0.8v0.8h-0.8zM101.7 114.7h0.8v0.8h-0.8zM101.9 110.9h0.8v0.8h-0.8zM94.1 129.1h0.8v0.8h-0.8zM102.0 126.1h0.8v0.8h-0.8zM85.5 116.0h0.8v0.8h-0.8zM79.0 130.7h0.8v0.8h-0.8zM87.5 116.8h0.8v0.8h-0.8zM94.0 116.3h0.8v0.8h-0.8zM85.8 119.2h0.8v0.8h-0.8zM103.4 137.3h0.8v0.8h-0.8zM88.2 108.7h0.8v0.8h-0.8zM91.8 124.2h0.8v0.8h-0.8zM92.4 128.8h0.8v0.8h-0.8zM86.8 132.2h0.8v0.8h-0.8zM96.5 125.5h0.8v0.8h-0.8zM86.1 119.0h0.8v0.8h-0.8zM95.3 113.2h0.8v0.8h-0.8zM88.2 116.5h0.8v0.8h-0.8zM77.8 129.2h0.8v0.8h-0.8zM89.3 123.8h0.8v0.8h-0.8zM96.8 109.5h0.8v0.8h-0.8zM88.9 126.2h0.8v0.8h-0.8zM96.5 113.3h0.8v0.8h-0.8zM95.5 125.6h0.8v0.8h-0.8zM100.9 134.2h0.8v0.8h-0.8zM89.5 119.5h0.8v0.8h-0.8zM86.6 114.7h0.8v0.8h-0.8zM89.3 105.8h0.8v0.8h-0.8zM88.8 127.5h0.8v0.8h-0.8zM97.8 120.2h0.8v0.8h-0.8zM101.2 117.4h0.8v0.8h-0.8zM88.4 105.8h0.8v0.8h-0.8zM83.1 116.1h0.8v0.8h-0.8zM101.8 128.4h0.8v0.8h-0.8zM80.4 128.4h0.8v0.8h-0.8zM93.4 121.4h0.8v0.8h-0.8zM89.7 120.7h0.8v0.8h-0.8zM85.1 107.2h0.8v0.8h-0.8zM88.8 135.3h0.8v0.8h-0.8zM101.2 120.9h0.8v0.8h-0.8zM83.4 121.6h0.8v0.8h-0.8zM96.9 126.7h0.8v0.8h-0.8zM84.7 126.8h0.8v0.8h-0.8zM87.8 128.2h0.8v0.8h-0.8zM86.2 110.0h0.8v0.8h-0.8zM90.0 130.5h0.8v0.8h-0.8zM80.4 122.5h0.8v0.8h-0.8zM96.7 120.1h0.8v0.8h-0.8zM96.3 132.9h0.8v0.8h-0.8zM81.8 138.5h0.8v0.8h-0.8zM75.9 118.8h0.8v0.8h-0.8zM95.6 135.7h0.8v0.8h-0.8zM81.9 117.4h0.8v0.8h-0.8zM91.1 105.9h0.8v0.8h-0.8zM94.7 128.6h0.8v0.8h-0.8zM85.8 128.4h0.8v0.8h-0.8zM95.8 126.3h0.8v0.8h-0.8zM93.8 137.3h0.8v0.8h-0.8zM85.6 125.0h0.8v0.8h-0.8zM85.2 132.9h0.8v0.8h-0.8zM86.2 127.8h0.8v0.8h-0.8zM90.6 124.1h0.8v0.8h-0.8zM103.5 122.7h0.8v0.8h-0.8zM101.0 131.0h0.8v0.8h-0.8zM100.2 122.0h0.8v0.8h-0.8zM97.0 130.4h0.8v0.8h-0.8zM84.5 125.9h0.8v0.8h-0.8zM88.5 123.2h0.8v0.8h-0.8zM100.1 117.0h0.8v0.8h-0.8zM75.8 107.7h0.8v0.8h-0.8zM85.8 117.6h0.8v0.8h-0.8zM89.6 128.6h0.8v0.8h-0.8zM103.8 126.3h0.8v0.8h-0.8zM93.3 116.8h0.8v0.8h-0.8zM94.2 135.8h0.8v0.8h-0.8zM100.4 105.8h0.8v0.8h-0.8zM96.7 137.9h0.8v0.8h-0.8zM96.2 110.0h0.8v0.8h-0.8zM87.0 128.8h0.8v0.8h-0.8zM92.9 116.1h0.8v0.8h-0.8zM82.3 132.2h0.8v0.8h-0.8zM78.7 136.5h0.8v0.8h-0.8zM89.7 126.2h0.8v0.8h-0.8zM78.7 118.1h0.8v0.8h-0.8zM95.1 110.2h0.8v0.8h-0.8zM84.6 123.5h0.8v0.8h-0.8zM86.1 135.3h0.8v0.8h-0.8zM100.7 130.4h0.8v0.8h-0.8zM94.2 132.2h0.8v0.8h-0.8zM93.1 122.7h0.8v0.8h-0.8zM98.3 126.0h0.8v0.8h-0.8zM94.4 137.5h0.8v0.8h-0.8zM91.5 113.9h0.8v0.8h-0.8zM86.9 137.0h0.8v0.8h-0.8zM80.8 122.6h0.8v0.8h-0.8zM84.7 132.1h0.8v0.8h-0.8zM81.6 108.3h0.8v0.8h-0.8zM93.6 120.3h0.8v0.8h-0.8zM86.9 133.3h0.8v0.8h-0.8zM82.3 120.1h0.8v0.8h-0.8zM90.7 127.2h0.8v0.8h-0.8zM85.3 132.8h0.8v0.8h-0.8zM90.6 120.4h0.8v0.8h-0.8zM84.4 112.0h0.8v0.8h-0.8zM86.3 135.2h0.8v0.8h-0.8zM98.7 120.4h0.8v0.8h-0.8zM85.2 117.2h0.8v0.8h-0.8zM94.9 124.6h0.8v0.8h-0.8zM85.5 114.3h0.8v0.8h-0.8zM100.1 130.5h0.8v0.8h-0.8zM81.8 132.4h0.8v0.8h-0.8zM80.6 129.3h0.8v0.8h-0.8zM81.8 119.8h0.8v0.8h-0.8zM93.5 127.4h0.8v0.8h-0.8zM97.7 115.9h0.8v0.8h-0.8zM102.2 135.6h0.8v0.8h-0.8zM89.4 127.7h0.8v0.8h-0.8zM83.2 122.1h0.8v0.8h-0.8zM78.8 124.3h0.8v0.8h-0.8zM91.1 135.6h0.8v0.8h-0.8zM97.1 130.9h0.8v0.8h-0.8zM86.6 121.5h0.8v0.8h-0.8zM86.8 125.5h0.8v0.8h-0.8zM73.9 130.5h0.8v0.8h-0.8zM76.9 118.9h0.8v0.8h-0.8zM89.7 118.9h0.8v0.8h-0.8zM102.9 122.6h0.8v0.8h-0.8zM102.2 134.1h0.8v0.8h-0.8zM85.5 127.1h0.8v0.8h-0.8zM100.0 120.5h0.8v0.8h-0.8zM90.2 118.5h0.8v0.8h-0.8zM90.0 120.3h0.8v0.8h-0.8zM90.2 132.5h0.8v0.8h-0.8zM100.7 124.7h0.8v0.8h-0.8zM91.1 131.2h0.8v0.8h-0.8zM87.2 113.9h0.8v0.8h-0.8zM98.5 115.1h0.8v0.8h-0.8zM97.0 114.8h0.8v0.8h-0.8zM89.3 114.9h0.8v0.8h-0.8zM90.6 109.4h0.8v0.8h-0.8zM91.5 119.2h0.8v0.8h-0.8zM79.9 134.5h0.8v0.8h-0.8zM102.2 118.7h0.8v0.8h-0.8zM100.5 127.0h0.8v0.8h-0.8zM98.1 130.4h0.8v0.8h-0.8zM90.8 119.2h0.8v0.8h-0.8zM100.7 117.1h0.8v0.8h-0.8zM89.3 129.7h0.8v0.8h-0.8zM74.4 129.4h0.8v0.8h-0.8zM85.9 121.2h0.8v0.8h-0.8zM93.5 124.1h0.8v0.8h-0.8zM91.2 117.8h0.8v0.8h-0.8zM82.9 120.9h0.8v0.8h-0.8zM86.3 115.0h0.8v0.8h-0.8zM100.1 138.6h0.8v0.8h-0.8zM77.0 120.1h0.8v0.8h-0.8zM96.8 102.1h0.8v0.8h-0.8zM97.2 124.2h0.8v0.8h-0.8zM95.3 132.5h0.8v0.8h-0.8zM100.0 111.4h0.8v0.8h-0.8zM94.7 124.8h0.8v0.8h-0.8zM94.8 110.6h0.8v0.8h-0.8zM82.0 130.2h0.8v0.8h-0.8zM98.3 138.7h0.8v0.8h-0.8zM76.1 135.4h0.8v0.8h-0.8zM86.9 121.1h0.8v0.8h-0.8zM86.7 129.3h0.8v0.8h-0.8zM98.3 115.8h0.8v0.8h-0.8zM94.4 125.1h0.8v0.8h-0.8zM83.4 131.6h0.8v0.8h-0.8zM82.1 119.2h0.8v0.8h-0.8zM88.9 124.3h0.8v0.8h-0.8zM82.8 119.5h0.8v0.8h-0.8zM98.7 124.8h0.8v0.8h-0.8zM92.1 123.3h0.8v0.8h-0.8zM97.1 134.6h0.8v0.8h-0.8zM88.5 130.9h0.8v0.8h-0.8zM83.0 123.5h0.8v0.8h-0.8zM80.2 118.7h0.8v0.8h-0.8zM76.1 117.5h0.8v0.8h-0.8zM99.6 111.8h0.8v0.8h-0.8zM81.5 113.6h0.8v0.8h-0.8zM85.0 129.3h0.8v0.8h-0.8zM94.3 105.2h0.8v0.8h-0.8zM101.3 118.2h0.8v0.8h-0.8zM84.8 138.5h0.8v0.8h-0.8zM88.8 112.3h0.8v0.8h-0.8zM84.3 116.9h0.8v0.8h-0.8zM81.4 120.5h0.8v0.8h-0.8zM96.6 126.7h0.8v0.8h-0.8zM81.5 124.5h0.8v0.8h-0.8zM89.8 130.4h0.8v0.8h-0.8zM86.9 127.6h0.8v0.8h-0.8zM79.2 127.6h0.8v0.8h-0.8zM87.8 128.9h0.8v0.8h-0.8zM96.0 126.7h0.8v0.8h-0.8zM84.6 137.6h0.8v0.8h-0.8zM70.7 116.5h0.8v0.8h-0.8zM86.5 121.6h0.8v0.8h-0.8zM94.3 134.7h0.8v0.8h-0.8zM97.4 122.8h0.8v0.8h-0.8zM90.9 113.7h0.8v0.8h-0.8zM91.6 120.9h0.8v0.8h-0.8zM71.6 125.5h0.8v0.8h-0.8zM88.5 130.7h0.8v0.8h-0.8zM94.5 124.3h0.8v0.8h-0.8zM88.0 138.1h0.8v0.8h-0.8zM91.2 132.8h0.8v0.8h-0.8zM93.0 135.7h0.8v0.8h-0.8zM97.5 113.3h0.8v0.8h-0.8zM94.0 137.9h0.8v0.8h-0.8zM100.6 120.6h0.8v0.8h-0.8zM102.9 131.7h0.8v0.8h-0.8zM94.9 117.4h0.8v0.8h-0.8zM93.0 128.1h0.8v0.8h-0.8zM72.8 119.1h0.8v0.8h-0.8zM77.4 107.1h0.8v0.8h-0.8zM91.3 131.6h0.8v0.8h-0.8zM89.4 109.9h0.8v0.8h-0.8zM79.0 131.4h0.8v0.8h-0.8zM88.0 126.3h0.8v0.8h-0.8zM87.3 125.0h0.8v0.8h-0.8zM84.2 117.5h0.8v0.8h-0.8zM78.2 123.9h0.8v0.8h-0.8zM89.1 134.0h0.8v0.8h-0.8zM92.3 123.3h0.8v0.8h-0.8zM79.3 113.6h0.8v0.8h-0.8zM87.7 127.2h0.8v0.8h-0.8zM92.1 127.8h0.8v0.8h-0.8zM89.9 119.4h0.8v0.8h-0.8zM92.9 114.4h0.8v0.8h-0.8zM78.6 120.5h0.8v0.8h-0.8zM77.9 118.8h0.8v0.8h-0.8zM83.5 118.5h0.8v0.8h-0.8zM89.1 116.3h0.8v0.8h-0.8zM86.1 108.0h0.8v0.8h-0.8zM90.7 115.5h0.8v0.8h-0.8zM87.7 134.8h0.8v0.8h-0.8zM93.7 121.7h0.8v0.8h-0.8zM99.0 124.1h0.8v0.8h-0.8zM81.4 110.1h0.8v0.8h-0.8zM91.4 139.2h0.8v0.8h-0.8zM91.2 124.7h0.8v0.8h-0.8zM91.5 126.0h0.8v0.8h-0.8zM78.8 123.4h0.8v0.8h-0.8zM86.3 127.5h0.8v0.8h-0.8zM95.6 137.3h0.8v0.8h-0.8zM93.9 120.9h0.8v0.8h-0.8zM103.8 126.5h0.8v0.8h-0.8zM77.6 123.6h0.8v0.8h-0.8zM81.1 137.5h0.8v0.8h-0.8zM82.3 125.6h0.8v0.8h-0.8zM92.8 120.9h0.8v0.8h-0.8zM89.2 120.1h0.8v0.8h-0.8zM84.3 116.0h0.8v0.8h-0.8zM91.4 121.0h0.8v0.8h-0.8zM81.6 119.7h0.8v0.8h-0.8zM90.5 130.6h0.8v0.8h-0.8zM88.8 133.5h0.8v0.8h-0.8zM90.2 129.8h0.8v0.8h-0.8zM90.2 110.0h0.8v0.8h-0.8zM91.8 135.4h0.8v0.8h-0.8zM98.8 139.1h0.8v0.8h-0.8zM94.0 118.1h0.8v0.8h-0.8zM89.7 106.0h0.8v0.8h-0.8zM88.0 131.8h0.8v0.8h-0.8zM71.9 125.3h0.8v0.8h-0.8zM96.2 135.6h0.8v0.8h-0.8zM82.0 117.6h0.8v0.8h-0.8zM74.2 114.2h0.8v0.8h-0.8zM80.2 136.1h0.8v0.8h-0.8zM93.0 119.0h0.8v0.8h-0.8zM93.5 124.2h0.8v0.8h-0.8zM90.6 123.3h0.8v0.8h-0.8zM93.6 120.7h0.8v0.8h-0.8zM89.2 119.3h0.8v0.8h-0.8zM95.7 135.9h0.8v0.8h-0.8zM96.0 128.1h0.8v0.8h-0.8zM101.1 116.2h0.8v0.8h-0.8zM88.6 121.1h0.8v0.8h-0.8zM83.4 123.3h0.8v0.8h-0.8zM85.9 125.4h0.8v0.8h-0.8zM92.6 120.2h0.8v0.8h-0.8zM85.0 123.9h0.8v0.8h-0.8zM84.7 126.1h0.8v0.8h-0.8zM87.6 118.6h0.8v0.8h-0.8zM88.8 112.5h0.8v0.8h-0.8zM95.5 129.2h0.8v0.8h-0.8zM70.7 124.0h0.8v0.8h-0.8zM86.1 128.8h0.8v0.8h-0.8zM88.7 129.3h0.8v0.8h-0.8zM89.2 127.0h0.8v0.8h-0.8zM99.1 126.5h0.8v0.8h-0.8zM80.5 130.0h0.8v0.8h-0.8zM88.7 124.5h0.8v0.8h-0.8zM84.9 110.8h0.8v0.8h-0.8zM79.3 120.3h0.8v0.8h-0.8zM87.8 114.2h0.8v0.8h-0.8zM85.9 132.4h0.8v0.8h-0.8zM97.7 121.9h0.8v0.8h-0.8zM83.0 129.9h0.8v0.8h-0.8zM101.0 123.9h0.8v0.8h-0.8zM95.3 120.3h0.8v0.8h-0.8zM83.2 117.6h0.8v0.8h-0.8zM89.8 129.7h0.8v0.8h-0.8zM101.5 135.6h0.8v0.8h-0.8zM93.4 103.4h0.8v0.8h-0.8zM101.8 127.9h0.8v0.8h-0.8zM84.0 135.6h0.8v0.8h-0.8zM82.5 121.0h0.8v0.8h-0.8zM89.9 123.4h0.8v0.8h-0.8zM89.1 105.1h0.8v0.8h-0.8zM78.3 122.7h0.8v0.8h-0.8zM95.6 123.3h0.8v0.8h-0.8zM80.0 112.2h0.8v0.8h-0.8zM79.9 133.7h0.8v0.8h-0.8zM81.4 130.6h0.8v0.8h-0.8zM79.9 114.3h0.8v0.8h-0.8zM84.3 135.4h0.8v0.8h-0.8zM83.7 121.7h0.8v0.8h-0.8zM84.5 118.7h0.8v0.8h-0.8zM97.5 117.7h0.8v0.8h-0.8zM87.7 112.3h0.8v0.8h-0.8zM83.6 124.5h0.8v0.8h-0.8zM79.4 121.4h0.8v0.8h-0.8zM74.3 120.5h0.8v0.8h-0.8zM89.9 129.3h0.8v0.8h-0.8zM93.6 114.1h0.8v0.8h-0.8zM79.5 109.9h0.8v0.8h-0.8zM102.8 111.8h0.8v0.8h-0.8zM97.4 126.0h0.8v0.8h-0.8zM97.1 108.4h0.8v0.8h-0.8zM93.0 127.3h0.8v0.8h-0.8zM89.5 127.9h0.8v0.8h-0.8zM80.1 136.8h0.8v0.8h-0.8zM80.4 122.1h0.8v0.8h-0.8zM96.7 128.5h0.8v0.8h-0.8zM102.4 123.2h0.8v0.8h-0.8zM80.4 126.9h0.8v0.8h-0.8zM93.7 108.4h0.8v0.8h-0.8zM97.0 135.0h0.8v0.8h-0.8zM82.7 132.0h0.8v0.8h-0.8zM90.1 132.5h0.8v0.8h-0.8zM85.1 131.3h0.8v0.8h-0.8zM95.1 124.2h0.8v0.8h-0.8zM86.9 122.1h0.8v0.8h-0.8zM95.3 137.0h0.8v0.8h-0.8zM88.4 131.7h0.8v0.8h-0.8zM99.5 130.8h0.8v0.8h-0.8zM93.1 118.6h0.8v0.8h-0.8zM76.3 131.2h0.8v0.8h-0.8zM83.5 117.4h0.8v0.8h-0.8zM98.2 126.3h0.8v0.8h-0.8zM80.6 134.5h0.8v0.8h-0.8zM87.1 132.7h0.8v0.8h-0.8zM80.3 109.7h0.8v0.8h-0.8zM84.5 130.9h0.8v0.8h-0.8zM72.7 113.4h0.8v0.8h-0.8zM87.6 114.7h0.8v0.8h-0.8zM85.7 116.3h0.8v0.8h-0.8zM102.2 130.3h0.8v0.8h-0.8zM82.0 131.4h0.8v0.8h-0.8zM71.4 123.9h0.8v0.8h-0.8zM89.6 121.4h0.8v0.8h-0.8zM81.7 117.7h0.8v0.8h-0.8zM73.9 127.7h0.8v0.8h-0.8zM81.3 128.9h0.8v0.8h-0.8zM96.5 117.1h0.8v0.8h-0.8zM79.5 124.1h0.8v0.8h-0.8zM95.2 111.0h0.8v0.8h-0.8zM89.0 114.0h0.8v0.8h-0.8zM101.8 127.1h0.8v0.8h-0.8zM75.9 118.2h0.8v0.8h-0.8zM90.0 118.8h0.8v0.8h-0.8zM90.1 127.2h0.8v0.8h-0.8zM91.1 119.5h0.8v0.8h-0.8zM101.4 131.8h0.8v0.8h-0.8zM86.9 122.3h0.8v0.8h-0.8zM83.9 110.1h0.8v0.8h-0.8zM86.7 123.8h0.8v0.8h-0.8zM86.3 114.4h0.8v0.8h-0.8zM63.8 106.8h0.8v0.8h-0.8zM96.4 106.1h0.8v0.8h-0.8zM94.1 130.2h0.8v0.8h-0.8zM88.6 123.4h0.8v0.8h-0.8zM96.2 123.0h0.8v0.8h-0.8zM88.9 131.6h0.8v0.8h-0.8zM80.1 119.6h0.8v0.8h-0.8zM87.1 125.0h0.8v0.8h-0.8zM94.8 106.0h0.8v0.8h-0.8zM89.2 129.8h0.8v0.8h-0.8zM99.4 127.3h0.8v0.8h-0.8zM82.9 131.0h0.8v0.8h-0.8zM78.4 124.4h0.8v0.8h-0.8zM79.5 136.1h0.8v0.8h-0.8zM86.9 122.4h0.8v0.8h-0.8zM85.4 134.2h0.8v0.8h-0.8zM80.4 130.1h0.8v0.8h-0.8zM86.5 130.2h0.8v0.8h-0.8zM91.5 116.0h0.8v0.8h-0.8zM85.8 107.1h0.8v0.8h-0.8zM81.8 117.8h0.8v0.8h-0.8zM97.9 119.4h0.8v0.8h-0.8zM91.6 121.3h0.8v0.8h-0.8zM78.5 128.9h0.8v0.8h-0.8zM85.1 120.1h0.8v0.8h-0.8zM99.0 117.8h0.8v0.8h-0.8zM92.6 113.0h0.8v0.8h-0.8zM83.7 111.0h0.8v0.8h-0.8zM87.9 129.7h0.8v0.8h-0.8zM92.0 119.0h0.8v0.8h-0.8zM94.5 120.3h0.8v0.8h-0.8zM92.5 126.0h0.8v0.8h-0.8zM93.9 101.0h0.8v0.8h-0.8zM78.9 130.5h0.8v0.8h-0.8zM87.6 118.5h0.8v0.8h-0.8zM101.6 128.6h0.8v0.8h-0.8zM90.7 135.8h0.8v0.8h-0.8zM85.0 134.4h0.8v0.8h-0.8zM98.2 137.2h0.8v0.8h-0.8zM97.8 122.3h0.8v0.8h-0.8zM97.5 125.4h0.8v0.8h-0.8zM85.7 118.3h0.8v0.8h-0.8zM85.9 122.3h0.8v0.8h-0.8zM76.3 126.9h0.8v0.8h-0.8zM78.0 129.5h0.8v0.8h-0.8zM101.4 135.1h0.8v0.8h-0.8zM103.2 138.3h0.8v0.8h-0.8zM87.5 131.9h0.8v0.8h-0.8zM89.5 112.5h0.8v0.8h-0.8zM92.9 121.7h0.8v0.8h-0.8zM72.8 125.3h0.8v0.8h-0.8zM80.9 116.7h0.8v0.8h-0.8zM93.4 126.2h0.8v0.8h-0.8zM92.9 117.9h0.8v0.8h-0.8zM91.4 122.4h0.8v0.8h-0.8zM71.6 109.2h0.8v0.8h-0.8zM88.0 121.0h0.8v0.8h-0.8zM84.9 132.4h0.8v0.8h-0.8zM89.7 139.0h0.8v0.8h-0.8zM95.9 138.4h0.8v0.8h-0.8zM88.5 126.9h0.8v0.8h-0.8zM86.0 122.0h0.8v0.8h-0.8zM75.5 118.2h0.8v0.8h-0.8zM81.8 117.6h0.8v0.8h-0.8zM99.4 125.9h0.8v0.8h-0.8zM99.4 131.3h0.8v0.8h-0.8zM97.0 132.6h0.8v0.8h-0.8zM84.6 130.8h0.8v0.8h-0.8zM86.9 118.7h0.8v0.8h-0.8zM81.6 139.2h0.8v0.8h-0.8zM96.2 115.8h0.8v0.8h-0.8zM91.7 126.9h0.8v0.8h-0.8zM92.5 120.3h0.8v0.8h-0.8zM79.1 123.8h0.8v0.8h-0.8zM96.5 130.6h0.8v0.8h-0.8zM94.8 133.5h0.8v0.8h-0.8zM81.5 123.1h0.8v0.8h-0.8zM92.3 132.5h0.8v0.8h-0.8zM90.8 128.2h0.8v0.8h-0.8zM71.8 123.3h0.8v0.8h-0.8zM92.3 111.7h0.8v0.8h-0.8zM87.2 117.2h0.8v0.8h-0.8zM89.5 118.1h0.8v0.8h-0.8zM87.7 124.7h0.8v0.8h-0.8zM76.2 130.3h0.8v0.8h-0.8zM102.2 129.3h0.8v0.8h-0.8zM89.7 136.7h0.8v0.8h-0.8zM92.2 105.1h0.8v0.8h-0.8zM96.7 125.1h0.8v0.8h-0.8zM92.5 112.8h0.8v0.8h-0.8zM93.2 110.6h0.8v0.8h-0.8zM89.6 121.2h0.8v0.8h-0.8zM100.0 117.8h0.8v0.8h-0.8zM83.5 124.6h0.8v0.8h-0.8zM84.9 116.3h0.8v0.8h-0.8zM84.2 127.0h0.8v0.8h-0.8zM90.8 129.3h0.8v0.8h-0.8zM66.3 122.3h0.8v0.8h-0.8zM93.5 136.6h0.8v0.8h-0.8zM100.4 106.1h0.8v0.8h-0.8zM78.3 105.9h0.8v0.8h-0.8zM103.5 137.5h0.8v0.8h-0.8zM99.1 104.8h0.8v0.8h-0.8zM76.7 115.7h0.8v0.8h-0.8zM98.0 104.8h0.8v0.8h-0.8zM95.3 115.3h0.8v0.8h-0.8zM102.9 118.7h0.8v0.8h-0.8zM93.8 120.2h0.8v0.8h-0.8zM92.8 115.2h0.8v0.8h-0.8zM92.4 133.5h0.8v0.8h-0.8zM89.2 134.8h0.8v0.8h-0.8zM103.9 112.9h0.8v0.8h-0.8zM84.9 111.4h0.8v0.8h-0.8zM92.7 102.9h0.8v0.8h-0.8zM83.6 124.6h0.8v0.8h-0.8zM74.3 104.9h0.8v0.8h-0.8zM79.0 134.5h0.8v0.8h-0.8zM99.4 105.3h0.8v0.8h-0.8zM102.5 122.4h0.8v0.8h-0.8zM94.0 122.5h0.8v0.8h-0.8zM93.0 111.4h0.8v0.8h-0.8zM77.1 114.6h0.8v0.8h-0.8zM83.6 128.6h0.8v0.8h-0.8zM73.4 138.9h0.8v0.8h-0.8zM80.4 115.8h0.8v0.8h-0.8zM96.5 126.6h0.8v0.8h-0.8zM83.9 110.7h0.8v0.8h-0.8zM76.0 105.1h0.8v0.8h-0.8zM101.8 133.5h0.8v0.8h-0.8zM82.2 128.0h0.8v0.8h-0.8zM101.2 112.4h0.8v0.8h-0.8zM97.8 115.2h0.8v0.8h-0.8zM96.0 133.5h0.8v0.8h-0.8zM95.8 122.0h0.8v0.8h-0.8zM100.9 117.9h0.8v0.8h-0.8zM91.5 114.2h0.8v0.8h-0.8zM84.5 126.1h0.8v0.8h-0.8zM64.5 114.9h0.8v0.8h-0.8zM75.9 121.1h0.8v0.8h-0.8zM103.5 129.1h0.8v0.8h-0.8zM76.1 134.4h0.8v0.8h-0.8zM79.8 114.1h0.8v0.8h-0.8zM69.4 119.7h0.8v0.8h-0.8zM100.3 114.9h0.8v0.8h-0.8zM75.3 117.8h0.8v0.8h-0.8zM88.0 119.1h0.8v0.8h-0.8zM84.9 127.3h0.8v0.8h-0.8zM74.0 114.5h0.8v0.8h-0.8zM99.9 125.2h0.8v0.8h-0.8zM87.7 106.2h0.8v0.8h-0.8zM84.0 135.3h0.8v0.8h-0.8zM74.6 106.0h0.8v0.8h-0.8zM82.5 112.4h0.8v0.8h-0.8zM86.7 128.4h0.8v0.8h-0.8zM67.2 112.6h0.8v0.8h-0.8zM91.1 112.2h0.8v0.8h-0.8zM97.6 132.2h0.8v0.8h-0.8zM93.3 117.4h0.8v0.8h-0.8zM87.4 115.3h0.8v0.8h-0.8zM86.4 125.4h0.8v0.8h-0.8zM84.4 132.3h0.8v0.8h-0.8zM91.6 131.2h0.8v0.8h-0.8zM82.5 124.0h0.8v0.8h-0.8zM87.2 133.0h0.8v0.8h-0.8zM87.1 129.4h0.8v0.8h-0.8zM99.5 115.5h0.8v0.8h-0.8zM97.3 108.6h0.8v0.8h-0.8zM89.9 112.6h0.8v0.8h-0.8zM100.1 137.1h0.8v0.8h-0.8zM72.3 124.6h0.8v0.8h-0.8zM78.0 105.9h0.8v0.8h-0.8zM86.1 132.3h0.8v0.8h-0.8zM101.3 115.3h0.8v0.8h-0.8zM83.8 137.1h0.8v0.8h-0.8zM87.1 130.2h0.8v0.8h-0.8zM102.3 127.9h0.8v0.8h-0.8zM88.4 105.4h0.8v0.8h-0.8zM68.6 132.4h0.8v0.8h-0.8zM96.2 128.1h0.8v0.8h-0.8zM67.9 99.3h0.8v0.8h-0.8zM75.2 109.4h0.8v0.8h-0.8zM89.9 111.1h0.8v0.8h-0.8zM70.3 134.4h0.8v0.8h-0.8zM83.3 127.7h0.8v0.8h-0.8zM98.7 112.2h0.8v0.8h-0.8zM69.6 119.8h0.8v0.8h-0.8zM93.5 118.6h0.8v0.8h-0.8zM85.6 125.4h0.8v0.8h-0.8zM75.4 128.7h0.8v0.8h-0.8zM99.1 108.9h0.8v0.8h-0.8zM76.8 116.7h0.8v0.8h-0.8zM79.1 118.1h0.8v0.8h-0.8zM100.4 105.9h0.8v0.8h-0.8zM91.8 116.6h0.8v0.8h-0.8zM78.1 105.8h0.8v0.8h-0.8zM72.8 103.8h0.8v0.8h-0.8zM101.2 134.6h0.8v0.8h-0.8zM83.1 107.5h0.8v0.8h-0.8zM87.3 126.1h0.8v0.8h-0.8zM69.4 109.6h0.8v0.8h-0.8zM86.8 129.5h0.8v0.8h-0.8zM88.9 126.8h0.8v0.8h-0.8zM75.7 135.2h0.8v0.8h-0.8zM87.3 125.8h0.8v0.8h-0.8zM73.0 126.7h0.8v0.8h-0.8zM89.3 119.1h0.8v0.8h-0.8zM90.8 117.3h0.8v0.8h-0.8zM90.8 137.3h0.8v0.8h-0.8zM82.0 130.3h0.8v0.8h-0.8zM80.0 118.8h0.8v0.8h-0.8zM90.3 114.7h0.8v0.8h-0.8zM100.1 105.1h0.8v0.8h-0.8zM85.0 121.4h0.8v0.8h-0.8zM88.5 119.4h0.8v0.8h-0.8zM74.9 121.7h0.8v0.8h-0.8zM77.1 116.3h0.8v0.8h-0.8zM71.4 120.9h0.8v0.8h-0.8zM100.8 127.4h0.8v0.8h-0.8zM97.2 131.0h0.8v0.8h-0.8zM79.9 106.3h0.8v0.8h-0.8zM77.0 124.8h0.8v0.8h-0.8zM92.7 132.4h0.8v0.8h-0.8zM86.3 129.1h0.8v0.8h-0.8zM86.7 108.8h0.8v0.8h-0.8zM80.3 124.7h0.8v0.8h-0.8zM85.6 115.0h0.8v0.8h-0.8zM86.4 136.0h0.8v0.8h-0.8zM87.1 118.1h0.8v0.8h-0.8zM88.6 123.7h0.8v0.8h-0.8zM101.1 108.7h0.8v0.8h-0.8zM81.3 115.7h0.8v0.8h-0.8zM83.4 127.2h0.8v0.8h-0.8zM86.7 125.1h0.8v0.8h-0.8zM93.3 131.2h0.8v0.8h-0.8zM92.8 125.1h0.8v0.8h-0.8zM100.3 137.7h0.8v0.8h-0.8zM90.9 116.8h0.8v0.8h-0.8zM100.5 130.9h0.8v0.8h-0.8zM79.4 121.6h0.8v0.8h-0.8zM88.0 124.3h0.8v0.8h-0.8zM101.3 120.6h0.8v0.8h-0.8zM86.6 111.2h0.8v0.8h-0.8zM97.1 102.5h0.8v0.8h-0.8zM89.3 123.3h0.8v0.8h-0.8zM91.7 136.2h0.8v0.8h-0.8zM86.8 123.0h0.8v0.8h-0.8zM98.6 105.1h0.8v0.8h-0.8zM84.4 122.7h0.8v0.8h-0.8zM99.8 113.3h0.8v0.8h-0.8zM98.0 126.2h0.8v0.8h-0.8zM69.6 105.9h0.8v0.8h-0.8zM70.2 123.5h0.8v0.8h-0.8zM90.6 129.9h0.8v0.8h-0.8zM98.2 116.0h0.8v0.8h-0.8zM101.3 130.9h0.8v0.8h-0.8zM93.9 127.2h0.8v0.8h-0.8zM72.0 125.9h0.8v0.8h-0.8zM75.2 109.0h0.8v0.8h-0.8zM83.7 123.5h0.8v0.8h-0.8zM87.3 118.4h0.8v0.8h-0.8zM75.6 124.0h0.8v0.8h-0.8zM78.8 106.6h0.8v0.8h-0.8zM89.2 137.9h0.8v0.8h-0.8zM83.0 110.4h0.8v0.8h-0.8zM84.3 119.7h0.8v0.8h-0.8zM89.7 132.9h0.8v0.8h-0.8zM93.5 102.1h0.8v0.8h-0.8zM74.3 108.5h0.8v0.8h-0.8zM93.4 123.2h0.8v0.8h-0.8zM96.8 124.5h0.8v0.8h-0.8zM96.0 118.7h0.8v0.8h-0.8zM74.4 99.6h0.8v0.8h-0.8zM69.9 103.1h0.8v0.8h-0.8zM87.4 128.3h0.8v0.8h-0.8zM90.6 115.9h0.8v0.8h-0.8zM82.1 121.6h0.8v0.8h-0.8zM94.0 99.5h0.8v0.8h-0.8zM88.7 121.6h0.8v0.8h-0.8zM97.5 110.7h0.8v0.8h-0.8zM94.4 110.3h0.8v0.8h-0.8zM75.7 111.9h0.8v0.8h-0.8zM89.5 117.8h0.8v0.8h-0.8zM102.8 126.6h0.8v0.8h-0.8zM84.8 132.7h0.8v0.8h-0.8zM99.0 104.4h0.8v0.8h-0.8zM81.8 123.5h0.8v0.8h-0.8zM83.0 115.9h0.8v0.8h-0.8zM82.5 124.3h0.8v0.8h-0.8zM103.5 120.0h0.8v0.8h-0.8zM84.7 125.9h0.8v0.8h-0.8zM85.0 100.7h0.8v0.8h-0.8zM91.3 117.9h0.8v0.8h-0.8zM80.9 128.9h0.8v0.8h-0.8zM88.6 115.8h0.8v0.8h-0.8zM88.2 120.7h0.8v0.8h-0.8zM93.5 124.5h0.8v0.8h-0.8zM82.0 108.1h0.8v0.8h-0.8zM74.3 120.5h0.8v0.8h-0.8zM73.6 130.3h0.8v0.8h-0.8zM71.4 102.3h0.8v0.8h-0.8zM85.6 102.5h0.8v0.8h-0.8zM64.7 131.5h0.8v0.8h-0.8zM69.7 128.2h0.8v0.8h-0.8zM87.8 131.3h0.8v0.8h-0.8zM81.6 129.9h0.8v0.8h-0.8zM99.2 128.7h0.8v0.8h-0.8zM89.8 101.1h0.8v0.8h-0.8zM88.0 133.3h0.8v0.8h-0.8zM97.0 123.0h0.8v0.8h-0.8zM90.8 103.2h0.8v0.8h-0.8zM79.7 114.5h0.8v0.8h-0.8zM96.2 133.5h0.8v0.8h-0.8zM78.9 110.9h0.8v0.8h-0.8zM99.8 117.7h0.8v0.8h-0.8zM95.3 126.1h0.8v0.8h-0.8zM97.7 122.7h0.8v0.8h-0.8zM70.4 128.4h0.8v0.8h-0.8zM80.5 105.0h0.8v0.8h-0.8zM88.2 113.7h0.8v0.8h-0.8zM87.9 124.6h0.8v0.8h-0.8zM84.9 115.0h0.8v0.8h-0.8zM77.6 110.5h0.8v0.8h-0.8zM78.6 109.7h0.8v0.8h-0.8zM84.4 113.2h0.8v0.8h-0.8zM92.3 123.6h0.8v0.8h-0.8zM99.8 123.0h0.8v0.8h-0.8zM91.8 126.2h0.8v0.8h-0.8zM84.2 113.9h0.8v0.8h-0.8zM89.0 115.2h0.8v0.8h-0.8zM96.6 127.5h0.8v0.8h-0.8zM71.9 131.1h0.8v0.8h-0.8zM69.0 128.0h0.8v0.8h-0.8zM89.5 119.6h0.8v0.8h-0.8zM92.3 115.1h0.8v0.8h-0.8zM101.8 106.3h0.8v0.8h-0.8zM83.2 114.2h0.8v0.8h-0.8zM96.1 122.4h0.8v0.8h-0.8zM94.1 118.4h0.8v0.8h-0.8zM79.0 109.7h0.8v0.8h-0.8zM83.8 116.1h0.8v0.8h-0.8zM91.5 125.9h0.8v0.8h-0.8zM100.2 120.8h0.8v0.8h-0.8zM78.6 110.3h0.8v0.8h-0.8zM88.8 126.0h0.8v0.8h-0.8zM99.6 119.6h0.8v0.8h-0.8zM86.8 116.1h0.8v0.8h-0.8zM90.2 113.9h0.8v0.8h-0.8zM77.9 132.0h0.8v0.8h-0.8zM95.2 127.4h0.8v0.8h-0.8zM90.9 113.4h0.8v0.8h-0.8zM72.4 134.7h0.8v0.8h-0.8zM89.3 129.1h0.8v0.8h-0.8zM90.4 132.6h0.8v0.8h-0.8zM76.1 133.8h0.8v0.8h-0.8zM63.2 125.9h0.8v0.8h-0.8zM88.3 124.7h0.8v0.8h-0.8zM82.3 124.1h0.8v0.8h-0.8zM68.9 126.3h0.8v0.8h-0.8zM93.2 125.1h0.8v0.8h-0.8zM80.3 122.9h0.8v0.8h-0.8zM89.6 133.8h0.8v0.8h-0.8zM91.5 124.8h0.8v0.8h-0.8zM79.0 131.5h0.8v0.8h-0.8zM102.7 116.6h0.8v0.8h-0.8zM96.0 125.4h0.8v0.8h-0.8zM87.4 107.9h0.8v0.8h-0.8zM88.5 128.7h0.8v0.8h-0.8zM93.7 116.3h0.8v0.8h-0.8zM96.5 126.3h0.8v0.8h-0.8zM100.3 116.4h0.8v0.8h-0.8zM87.4 117.7h0.8v0.8h-0.8zM77.5 124.8h0.8v0.8h-0.8zM93.1 137.6h0.8v0.8h-0.8zM83.9 126.3h0.8v0.8h-0.8zM102.3 120.7h0.8v0.8h-0.8zM88.8 123.5h0.8v0.8h-0.8zM79.4 111.2h0.8v0.8h-0.8zM101.9 123.9h0.8v0.8h-0.8zM87.1 108.4h0.8v0.8h-0.8zM89.5 134.9h0.8v0.8h-0.8zM73.7 112.2h0.8v0.8h-0.8zM101.8 137.7h0.8v0.8h-0.8zM91.7 129.2h0.8v0.8h-0.8zM66.0 108.3h0.8v0.8h-0.8zM95.6 125.8h0.8v0.8h-0.8zM101.1 124.6h0.8v0.8h-0.8zM93.2 127.5h0.8v0.8h-0.8zM87.9 107.4h0.8v0.8h-0.8zM99.8 117.9h0.8v0.8h-0.8zM87.1 120.4h0.8v0.8h-0.8zM96.6 119.4h0.8v0.8h-0.8zM73.2 123.9h0.8v0.8h-0.8zM101.8 117.9h0.8v0.8h-0.8zM92.2 115.6h0.8v0.8h-0.8zM101.8 122.0h0.8v0.8h-0.8zM82.4 132.1h0.8v0.8h-0.8zM77.7 135.6h0.8v0.8h-0.8zM100.0 123.5h0.8v0.8h-0.8zM72.6 126.0h0.8v0.8h-0.8zM86.4 116.2h0.8v0.8h-0.8zM88.4 127.6h0.8v0.8h-0.8zM94.9 120.5h0.8v0.8h-0.8zM97.9 132.1h0.8v0.8h-0.8zM65.3 110.8h0.8v0.8h-0.8zM96.6 124.8h0.8v0.8h-0.8zM96.2 134.7h0.8v0.8h-0.8zM75.7 125.3h0.8v0.8h-0.8zM102.1 111.5h0.8v0.8h-0.8zM100.0 118.0h0.8v0.8h-0.8zM98.3 123.0h0.8v0.8h-0.8zM97.0 113.7h0.8v0.8h-0.8zM64.1 118.1h0.8v0.8h-0.8zM94.4 107.0h0.8v0.8h-0.8zM81.8 121.6h0.8v0.8h-0.8zM88.7 138.1h0.8v0.8h-0.8zM68.8 111.8h0.8v0.8h-0.8zM96.0 137.3h0.8v0.8h-0.8zM87.7 130.1h0.8v0.8h-0.8zM77.8 132.0h0.8v0.8h-0.8zM85.8 118.1h0.8v0.8h-0.8zM87.0 106.6h0.8v0.8h-0.8zM69.6 124.9h0.8v0.8h-0.8zM88.5 120.5h0.8v0.8h-0.8zM69.4 124.6h0.8v0.8h-0.8zM83.4 106.6h0.8v0.8h-0.8zM90.0 114.2h0.8v0.8h-0.8zM91.4 132.9h0.8v0.8h-0.8zM86.9 111.7h0.8v0.8h-0.8zM76.9 105.9h0.8v0.8h-0.8zM94.2 127.6h0.8v0.8h-0.8zM90.1 130.4h0.8v0.8h-0.8zM94.6 123.3h0.8v0.8h-0.8zM77.1 128.4h0.8v0.8h-0.8zM102.6 128.8h0.8v0.8h-0.8zM103.3 116.9h0.8v0.8h-0.8zM76.0 135.5h0.8v0.8h-0.8zM80.8 124.6h0.8v0.8h-0.8zM85.7 122.2h0.8v0.8h-0.8zM84.7 116.2h0.8v0.8h-0.8zM90.5 101.2h0.8v0.8h-0.8zM76.9 109.8h0.8v0.8h-0.8zM89.1 112.7h0.8v0.8h-0.8zM68.4 109.3h0.8v0.8h-0.8zM99.8 111.6h0.8v0.8h-0.8zM88.7 123.8h0.8v0.8h-0.8zM68.4 118.2h0.8v0.8h-0.8zM87.3 126.2h0.8v0.8h-0.8zM95.7 122.2h0.8v0.8h-0.8zM87.6 121.1h0.8v0.8h-0.8zM89.2 130.6h0.8v0.8h-0.8zM94.7 130.0h0.8v0.8h-0.8zM77.1 120.6h0.8v0.8h-0.8zM75.6 128.2h0.8v0.8h-0.8zM87.8 125.7h0.8v0.8h-0.8zM94.4 125.3h0.8v0.8h-0.8zM102.7 130.4h0.8v0.8h-0.8zM84.8 113.9h0.8v0.8h-0.8zM93.2 104.8h0.8v0.8h-0.8zM80.1 132.7h0.8v0.8h-0.8zM84.2 120.7h0.8v0.8h-0.8zM98.9 135.9h0.8v0.8h-0.8zM73.1 133.5h0.8v0.8h-0.8zM89.8 117.4h0.8v0.8h-0.8zM81.0 118.3h0.8v0.8h-0.8zM82.1 102.8h0.8v0.8h-0.8zM90.3 114.3h0.8v0.8h-0.8zM103.4 131.0h0.8v0.8h-0.8zM81.7 119.6h0.8v0.8h-0.8zM93.8 135.6h0.8v0.8h-0.8zM101.8 131.8h0.8v0.8h-0.8zM88.6 130.5h0.8v0.8h-0.8zM74.3 128.3h0.8v0.8h-0.8zM87.5 119.3h0.8v0.8h-0.8zM86.6 114.3h0.8v0.8h-0.8zM83.5 137.2h0.8v0.8h-0.8zM81.8 107.8h0.8v0.8h-0.8zM94.9 117.7h0.8v0.8h-0.8zM81.1 137.0h0.8v0.8h-0.8zM87.5 128.4h0.8v0.8h-0.8zM97.2 106.5h0.8v0.8h-0.8zM80.0 138.1h0.8v0.8h-0.8zM102.3 126.0h0.8v0.8h-0.8zM98.0 113.5h0.8v0.8h-0.8zM90.0 127.3h0.8v0.8h-0.8zM72.8 121.4h0.8v0.8h-0.8zM75.1 135.3h0.8v0.8h-0.8zM66.8 118.5h0.8v0.8h-0.8zM91.7 124.6h0.8v0.8h-0.8zM77.1 130.2h0.8v0.8h-0.8zM87.7 138.3h0.8v0.8h-0.8zM89.9 131.5h0.8v0.8h-0.8zM68.5 124.5h0.8v0.8h-0.8zM89.5 111.5h0.8v0.8h-0.8zM103.9 115.8h0.8v0.8h-0.8zM98.9 129.4h0.8v0.8h-0.8zM81.4 115.3h0.8v0.8h-0.8zM97.6 130.9h0.8v0.8h-0.8zM80.3 115.7h0.8v0.8h-0.8zM83.1 123.8h0.8v0.8h-0.8zM83.6 125.0h0.8v0.8h-0.8zM91.9 121.2h0.8v0.8h-0.8zM91.9 125.9h0.8v0.8h-0.8zM94.8 124.8h0.8v0.8h-0.8zM64.8 117.9h0.8v0.8h-0.8zM91.8 127.9h0.8v0.8h-0.8zM89.2 110.5h0.8v0.8h-0.8zM84.6 126.8h0.8v0.8h-0.8zM95.2 127.7h0.8v0.8h-0.8zM79.8 116.5h0.8v0.8h-0.8zM68.6 125.8h0.8v0.8h-0.8zM87.3 116.2h0.8v0.8h-0.8zM88.1 130.4h0.8v0.8h-0.8zM102.6 139.4h0.8v0.8h-0.8zM84.7 128.1h0.8v0.8h-0.8zM87.6 111.9h0.8v0.8h-0.8zM93.0 132.6h0.8v0.8h-0.8zM98.8 102.3h0.8v0.8h-0.8zM86.4 121.3h0.8v0.8h-0.8zM89.4 107.0h0.8v0.8h-0.8zM101.4 105.4h0.8v0.8h-0.8zM86.8 132.4h0.8v0.8h-0.8zM79.8 129.3h0.8v0.8h-0.8zM83.6 125.7h0.8v0.8h-0.8zM73.0 130.3h0.8v0.8h-0.8zM103.9 110.0h0.8v0.8h-0.8zM88.7 101.9h0.8v0.8h-0.8zM87.6 138.1h0.8v0.8h-0.8zM70.5 136.3h0.8v0.8h-0.8zM98.4 132.2h0.8v0.8h-0.8zM76.0 139.5h0.8v0.8h-0.8zM102.8 103.5h0.8v0.8h-0.8zM87.3 105.5h0.8v0.8h-0.8zM85.7 119.2h0.8v0.8h-0.8zM98.8 111.9h0.8v0.8h-0.8zM77.1 124.8h0.8v0.8h-0.8zM92.5 103.2h0.8v0.8h-0.8zM93.9 116.4h0.8v0.8h-0.8zM82.9 129.0h0.8v0.8h-0.8zM97.0 127.8h0.8v0.8h-0.8zM92.2 123.8h0.8v0.8h-0.8zM87.5 114.7h0.8v0.8h-0.8zM75.7 124.6h0.8v0.8h-0.8zM70.1 104.8h0.8v0.8h-0.8zM86.9 112.5h0.8v0.8h-0.8zM99.5 111.8h0.8v0.8h-0.8zM101.1 131.0h0.8v0.8h-0.8zM95.2 110.3h0.8v0.8h-0.8zM75.1 123.1h0.8v0.8h-0.8zM101.5 110.9h0.8v0.8h-0.8zM91.1 132.1h0.8v0.8h-0.8zM85.8 116.6h0.8v0.8h-0.8zM90.9 120.5h0.8v0.8h-0.8zM76.8 115.7h0.8v0.8h-0.8zM85.3 110.6h0.8v0.8h-0.8zM100.7 129.3h0.8v0.8h-0.8zM97.4 104.5h0.8v0.8h-0.8zM82.5 128.1h0.8v0.8h-0.8zM87.3 102.2h0.8v0.8h-0.8zM101.3 121.4h0.8v0.8h-0.8zM73.6 133.8h0.8v0.8h-0.8zM95.6 118.8h0.8v0.8h-0.8zM84.4 131.3h0.8v0.8h-0.8zM87.1 115.0h0.8v0.8h-0.8zM73.9 118.2h0.8v0.8h-0.8zM84.6 116.7h0.8v0.8h-0.8zM90.2 115.3h0.8v0.8h-0.8zM101.4 114.6h0.8v0.8h-0.8zM89.5 99.9h0.8v0.8h-0.8zM88.7 124.3h0.8v0.8h-0.8zM102.6 116.2h0.8v0.8h-0.8zM98.9 134.2h0.8v0.8h-0.8zM92.3 111.1h0.8v0.8h-0.8zM80.2 116.9h0.8v0.8h-0.8zM85.9 133.3h0.8v0.8h-0.8zM74.0 121.0h0.8v0.8h-0.8zM89.1 122.6h0.8v0.8h-0.8zM77.3 136.7h0.8v0.8h-0.8zM87.9 113.9h0.8v0.8h-0.8zM87.5 135.3h0.8v0.8h-0.8zM95.7 135.3h0.8v0.8h-0.8zM94.9 117.8h0.8v0.8h-0.8zM70.8 113.0h0.8v0.8h-0.8zM87.9 104.6h0.8v0.8h-0.8zM85.6 113.5h0.8v0.8h-0.8zM103.0 100.7h0.8v0.8h-0.8zM92.1 124.2h0.8v0.8h-0.8zM93.5 106.2h0.8v0.8h-0.8zM96.7 131.5h0.8v0.8h-0.8zM77.0 138.1h0.8v0.8h-0.8zM88.3 129.3h0.8v0.8h-0.8zM94.8 131.6h0.8v0.8h-0.8zM80.2 115.7h0.8v0.8h-0.8zM92.6 128.6h0.8v0.8h-0.8zM95.0 125.7h0.8v0.8h-0.8zM82.0 133.9h0.8v0.8h-0.8zM93.8 133.5h0.8v0.8h-0.8zM79.8 123.3h0.8v0.8h-0.8zM82.1 118.6h0.8v0.8h-0.8zM90.4 125.8h0.8v0.8h-0.8zM80.0 131.2h0.8v0.8h-0.8zM76.6 135.5h0.8v0.8h-0.8zM82.4 126.0h0.8v0.8h-0.8zM98.7 111.2h0.8v0.8h-0.8zM77.2 134.3h0.8v0.8h-0.8zM99.1 116.6h0.8v0.8h-0.8zM78.4 125.8h0.8v0.8h-0.8zM70.6 116.6h0.8v0.8h-0.8zM71.8 138.0h0.8v0.8h-0.8zM92.3 107.8h0.8v0.8h-0.8zM83.0 113.0h0.8v0.8h-0.8zM102.8 117.3h0.8v0.8h-0.8zM81.5 126.0h0.8v0.8h-0.8zM98.9 123.6h0.8v0.8h-0.8zM73.5 123.6h0.8v0.8h-0.8zM79.0 133.0h0.8v0.8h-0.8zM81.9 131.5h0.8v0.8h-0.8zM71.0 109.8h0.8v0.8h-0.8zM87.2 132.6h0.8v0.8h-0.8zM79.0 128.8h0.8v0.8h-0.8zM101.3 114.9h0.8v0.8h-0.8zM86.2 131.8h0.8v0.8h-0.8zM91.2 116.1h0.8v0.8h-0.8zM87.0 119.9h0.8v0.8h-0.8zM89.5 125.6h0.8v0.8h-0.8zM90.4 116.2h0.8v0.8h-0.8zM88.6 125.8h0.8v0.8h-0.8zM95.3 139.1h0.8v0.8h-0.8zM95.8 113.6h0.8v0.8h-0.8zM92.1 122.9h0.8v0.8h-0.8zM89.9 123.6h0.8v0.8h-0.8zM83.4 107.0h0.8v0.8h-0.8zM93.7 126.2h0.8v0.8h-0.8zM95.2 135.7h0.8v0.8h-0.8zM101.2 120.5h0.8v0.8h-0.8zM80.6 127.3h0.8v0.8h-0.8zM91.1 127.7h0.8v0.8h-0.8zM75.9 136.5h0.8v0.8h-0.8zM102.3 126.9h0.8v0.8h-0.8zM86.6 119.4h0.8v0.8h-0.8zM67.5 129.2h0.8v0.8h-0.8zM75.8 116.5h0.8v0.8h-0.8zM100.5 111.9h0.8v0.8h-0.8zM81.5 131.4h0.8v0.8h-0.8zM81.6 119.7h0.8v0.8h-0.8zM93.6 131.6h0.8v0.8h-0.8zM87.6 121.0h0.8v0.8h-0.8zM95.1 103.7h0.8v0.8h-0.8zM86.7 121.9h0.8v0.8h-0.8zM91.8 111.1h0.8v0.8h-0.8zM80.1 109.5h0.8v0.8h-0.8zM86.3 110.8h0.8v0.8h-0.8zM79.8 115.6h0.8v0.8h-0.8zM80.9 128.1h0.8v0.8h-0.8zM79.2 138.8h0.8v0.8h-0.8zM86.7 137.1h0.8v0.8h-0.8zM78.0 122.6h0.8v0.8h-0.8zM92.6 119.9h0.8v0.8h-0.8zM89.1 107.7h0.8v0.8h-0.8zM101.9 114.0h0.8v0.8h-0.8zM87.0 127.3h0.8v0.8h-0.8zM97.3 113.4h0.8v0.8h-0.8zM86.6 113.6h0.8v0.8h-0.8zM85.8 106.2h0.8v0.8h-0.8zM99.9 129.4h0.8v0.8h-0.8zM86.5 114.5h0.8v0.8h-0.8zM82.3 114.7h0.8v0.8h-0.8zM67.5 113.3h0.8v0.8h-0.8zM88.7 109.9h0.8v0.8h-0.8zM96.3 113.6h0.8v0.8h-0.8zM101.5 118.2h0.8v0.8h-0.8zM103.3 134.4h0.8v0.8h-0.8zM99.6 135.1h0.8v0.8h-0.8zM87.6 116.2h0.8v0.8h-0.8zM80.1 113.9h0.8v0.8h-0.8zM101.9 124.6h0.8v0.8h-0.8zM101.6 124.6h0.8v0.8h-0.8zM68.5 125.4h0.8v0.8h-0.8zM86.5 112.0h0.8v0.8h-0.8zM95.3 119.1h0.8v0.8h-0.8zM103.0 137.3h0.8v0.8h-0.8zM93.8 126.8h0.8v0.8h-0.8zM76.7 122.0h0.8v0.8h-0.8zM66.3 125.2h0.8v0.8h-0.8zM90.3 106.6h0.8v0.8h-0.8zM64.0 117.6h0.8v0.8h-0.8zM82.7 123.7h0.8v0.8h-0.8zM87.7 114.0h0.8v0.8h-0.8zM65.4 126.7h0.8v0.8h-0.8zM81.6 109.2h0.8v0.8h-0.8zM81.7 125.7h0.8v0.8h-0.8zM97.2 131.4h0.8v0.8h-0.8zM78.1 122.4h0.8v0.8h-0.8zM77.3 132.3h0.8v0.8h-0.8zM89.2 107.4h0.8v0.8h-0.8zM94.8 121.3h0.8v0.8h-0.8zM76.2 131.2h0.8v0.8h-0.8zM86.8 124.4h0.8v0.8h-0.8zM89.8 127.4h0.8v0.8h-0.8zM84.2 137.1h0.8v0.8h-0.8zM83.3 112.4h0.8v0.8h-0.8zM100.1 109.6h0.8v0.8h-0.8zM77.1 133.5h0.8v0.8h-0.8zM89.6 122.6h0.8v0.8h-0.8zM80.0 119.6h0.8v0.8h-0.8zM81.7 121.7h0.8v0.8h-0.8zM97.6 108.0h0.8v0.8h-0.8zM76.5 99.0h0.8v0.8h-0.8zM92.0 122.0h0.8v0.8h-0.8zM81.8 135.2h0.8v0.8h-0.8zM100.9 122.6h0.8v0.8h-0.8zM101.6 113.6h0.8v0.8h-0.8zM88.9 120.4h0.8v0.8h-0.8zM90.3 128.6h0.8v0.8h-0.8zM90.9 117.6h0.8v0.8h-0.8zM97.0 118.4h0.8v0.8h-0.8zM99.0 113.0h0.8v0.8h-0.8zM72.0 131.6h0.8v0.8h-0.8zM103.9 133.7h0.8v0.8h-0.8zM84.8 128.7h0.8v0.8h-0.8zM70.5 135.3h0.8v0.8h-0.8zM69.4 109.8h0.8v0.8h-0.8zM99.6 138.4h0.8v0.8h-0.8zM71.7 118.4h0.8v0.8h-0.8zM95.9 116.6h0.8v0.8h-0.8zM91.9 127.5h0.8v0.8h-0.8zM98.6 134.9h0.8v0.8h-0.8zM89.0 115.3h0.8v0.8h-0.8zM65.1 121.7h0.8v0.8h-0.8zM70.7 117.4h0.8v0.8h-0.8zM83.3 121.4h0.8v0.8h-0.8zM101.7 126.5h0.8v0.8h-0.8zM86.4 127.3h0.8v0.8h-0.8zM70.3 123.7h0.8v0.8h-0.8zM94.9 110.6h0.8v0.8h-0.8zM78.0 117.4h0.8v0.8h-0.8zM92.0 124.1h0.8v0.8h-0.8zM82.6 126.5h0.8v0.8h-0.8zM76.0 111.9h0.8v0.8h-0.8zM79.1 135.4h0.8v0.8h-0.8zM97.0 118.5h0.8v0.8h-0.8zM93.7 130.5h0.8v0.8h-0.8zM81.4 109.8h0.8v0.8h-0.8zM88.5 125.2h0.8v0.8h-0.8zM98.4 136.0h0.8v0.8h-0.8zM103.8 127.1h0.8v0.8h-0.8zM82.2 126.8h0.8v0.8h-0.8zM84.8 103.0h0.8v0.8h-0.8zM76.3 121.5h0.8v0.8h-0.8zM77.7 110.8h0.8v0.8h-0.8zM82.3 117.5h0.8v0.8h-0.8zM87.1 121.4h0.8v0.8h-0.8zM88.8 133.9h0.8v0.8h-0.8zM88.2 126.9h0.8v0.8h-0.8zM88.8 134.0h0.8v0.8h-0.8zM79.6 110.2h0.8v0.8h-0.8zM89.4 125.8h0.8v0.8h-0.8zM92.4 119.3h0.8v0.8h-0.8zM67.5 121.8h0.8v0.8h-0.8zM94.2 138.8h0.8v0.8h-0.8zM93.1 109.5h0.8v0.8h-0.8zM97.6 132.7h0.8v0.8h-0.8zM103.0 135.1h0.8v0.8h-0.8zM79.2 107.1h0.8v0.8h-0.8zM90.8 121.5h0.8v0.8h-0.8zM79.8 101.0h0.8v0.8h-0.8zM96.7 128.9h0.8v0.8h-0.8zM71.8 137.1h0.8v0.8h-0.8zM69.1 136.1h0.8v0.8h-0.8zM84.7 122.4h0.8v0.8h-0.8zM79.9 116.7h0.8v0.8h-0.8zM103.6 108.3h0.8v0.8h-0.8zM97.7 129.8h0.8v0.8h-0.8zM85.4 121.1h0.8v0.8h-0.8zM100.4 124.9h0.8v0.8h-0.8zM76.3 118.8h0.8v0.8h-0.8zM67.7 120.4h0.8v0.8h-0.8zM77.9 131.9h0.8v0.8h-0.8zM64.7 120.9h0.8v0.8h-0.8zM88.2 131.5h0.8v0.8h-0.8zM67.1 121.7h0.8v0.8h-0.8zM65.4 130.7h0.8v0.8h-0.8zM93.8 135.6h0.8v0.8h-0.8zM78.0 102.0h0.8v0.8h-0.8zM74.0 121.0h0.8v0.8h-0.8zM103.1 115.5h0.8v0.8h-0.8zM76.6 129.0h0.8v0.8h-0.8zM65.5 132.9h0.8v0.8h-0.8zM93.7 109.5h0.8v0.8h-0.8zM84.7 113.8h0.8v0.8h-0.8zM71.6 125.4h0.8v0.8h-0.8zM80.8 132.6h0.8v0.8h-0.8zM86.8 102.5h0.8v0.8h-0.8zM89.1 130.4h0.8v0.8h-0.8zM91.0 104.9h0.8v0.8h-0.8zM75.8 106.8h0.8v0.8h-0.8zM81.6 113.0h0.8v0.8h-0.8zM100.0 126.2h0.8v0.8h-0.8zM87.9 132.8h0.8v0.8h-0.8zM70.7 122.9h0.8v0.8h-0.8zM83.7 135.8h0.8v0.8h-0.8zM97.6 112.5h0.8v0.8h-0.8zM73.8 126.9h0.8v0.8h-0.8zM96.1 120.8h0.8v0.8h-0.8zM93.1 130.2h0.8v0.8h-0.8zM80.3 126.3h0.8v0.8h-0.8zM100.1 114.6h0.8v0.8h-0.8zM68.8 131.7h0.8v0.8h-0.8zM85.9 124.4h0.8v0.8h-0.8zM74.0 129.5h0.8v0.8h-0.8zM101.4 122.8h0.8v0.8h-0.8zM87.0 111.2h0.8v0.8h-0.8zM76.4 106.8h0.8v0.8h-0.8zM87.2 124.3h0.8v0.8h-0.8zM75.9 107.3h0.8v0.8h-0.8zM83.1 129.7h0.8v0.8h-0.8zM68.1 113.9h0.8v0.8h-0.8zM84.1 124.9h0.8v0.8h-0.8zM75.5 137.4h0.8v0.8h-0.8zM70.7 113.4h0.8v0.8h-0.8zM94.0 127.8h0.8v0.8h-0.8zM79.8 133.5h0.8v0.8h-0.8zM86.9 138.0h0.8v0.8h-0.8zM82.8 124.3h0.8v0.8h-0.8zM94.4 101.0h0.8v0.8h-0.8zM100.7 125.9h0.8v0.8h-0.8zM89.1 138.6h0.8v0.8h-0.8zM91.4 99.3h0.8v0.8h-0.8zM70.9 118.4h0.8v0.8h-0.8zM88.3 116.6h0.8v0.8h-0.8zM101.0 129.2h0.8v0.8h-0.8zM86.2 122.8h0.8v0.8h-0.8zM91.8 124.9h0.8v0.8h-0.8zM74.4 131.4h0.8v0.8h-0.8zM72.8 121.5h0.8v0.8h-0.8zM80.3 108.2h0.8v0.8h-0.8zM95.7 121.2h0.8v0.8h-0.8zM67.4 121.1h0.8v0.8h-0.8zM64.0 139.2h0.8v0.8h-0.8zM76.9 130.5h0.8v0.8h-0.8zM70.5 111.8h0.8v0.8h-0.8zM84.6 126.9h0.8v0.8h-0.8zM100.8 118.8h0.8v0.8h-0.8zM103.6 133.6h0.8v0.8h-0.8zM72.0 119.9h0.8v0.8h-0.8zM77.2 132.6h0.8v0.8h-0.8zM100.6 119.0h0.8v0.8h-0.8zM78.2 126.1h0.8v0.8h-0.8zM73.6 106.9h0.8v0.8h-0.8zM70.6 126.1h0.8v0.8h-0.8zM67.6 135.8h0.8v0.8h-0.8zM97.1 123.5h0.8v0.8h-0.8zM67.9 122.3h0.8v0.8h-0.8zM89.2 129.0h0.8v0.8h-0.8zM70.9 107.4h0.8v0.8h-0.8zM84.7 139.2h0.8v0.8h-0.8zM100.5 134.5h0.8v0.8h-0.8zM95.0 134.6h0.8v0.8h-0.8zM78.1 136.0h0.8v0.8h-0.8zM98.2 132.3h0.8v0.8h-0.8zM79.6 117.7h0.8v0.8h-0.8zM77.3 138.9h0.8v0.8h-0.8zM64.8 117.2h0.8v0.8h-0.8zM89.9 106.7h0.8v0.8h-0.8zM89.0 134.8h0.8v0.8h-0.8zM96.0 108.4h0.8v0.8h-0.8zM86.3 110.6h0.8v0.8h-0.8zM96.2 106.3h0.8v0.8h-0.8zM103.3 132.2h0.8v0.8h-0.8zM84.3 112.6h0.8v0.8h-0.8zM91.7 115.8h0.8v0.8h-0.8zM95.1 109.2h0.8v0.8h-0.8zM97.8 106.0h0.8v0.8h-0.8zM84.1 124.3h0.8v0.8h-0.8zM82.9 125.8h0.8v0.8h-0.8zM93.2 130.4h0.8v0.8h-0.8zM95.7 103.9h0.8v0.8h-0.8zM87.0 127.2h0.8v0.8h-0.8zM91.8 116.9h0.8v0.8h-0.8zM80.4 109.3h0.8v0.8h-0.8zM90.0 109.1h0.8v0.8h-0.8zM91.9 114.1h0.8v0.8h-0.8zM80.6 110.7h0.8v0.8h-0.8zM87.8 130.3h0.8v0.8h-0.8zM100.7 118.7h0.8v0.8h-0.8zM67.2 121.1h0.8v0.8h-0.8zM96.7 114.1h0.8v0.8h-0.8zM89.7 132.7h0.8v0.8h-0.8zM83.4 104.5h0.8v0.8h-0.8zM69.8 130.1h0.8v0.8h-0.8zM67.3 124.5h0.8v0.8h-0.8zM88.4 114.2h0.8v0.8h-0.8zM83.4 111.0h0.8v0.8h-0.8zM88.7 117.1h0.8v0.8h-0.8zM82.3 138.8h0.8v0.8h-0.8zM70.5 123.3h0.8v0.8h-0.8zM76.1 118.0h0.8v0.8h-0.8zM85.1 122.3h0.8v0.8h-0.8zM89.7 113.2h0.8v0.8h-0.8zM95.8 108.7h0.8v0.8h-0.8zM68.0 112.0h0.8v0.8h-0.8zM92.8 110.2h0.8v0.8h-0.8zM99.3 129.3h0.8v0.8h-0.8zM76.9 121.6h0.8v0.8h-0.8zM79.1 126.4h0.8v0.8h-0.8zM94.6 136.4h0.8v0.8h-0.8zM92.7 134.7h0.8v0.8h-0.8zM69.3 119.0h0.8v0.8h-0.8zM75.1 120.0h0.8v0.8h-0.8zM88.7 111.9h0.8v0.8h-0.8zM84.3 113.5h0.8v0.8h-0.8zM65.3 114.3h0.8v0.8h-0.8zM73.3 131.9h0.8v0.8h-0.8zM97.5 134.5h0.8v0.8h-0.8zM85.2 116.5h0.8v0.8h-0.8zM103.1 101.4h0.8v0.8h-0.8zM97.5 124.8h0.8v0.8h-0.8zM96.5 126.6h0.8v0.8h-0.8zM101.9 129.2h0.8v0.8h-0.8zM86.0 132.1h0.8v0.8h-0.8zM71.0 124.8h0.8v0.8h-0.8zM92.1 103.3h0.8v0.8h-0.8zM94.6 127.6h0.8v0.8h-0.8zM100.3 122.6h0.8v0.8h-0.8zM97.0 121.8h0.8v0.8h-0.8zM100.5 117.0h0.8v0.8h-0.8zM83.6 126.3h0.8v0.8h-0.8zM94.8 110.1h0.8v0.8h-0.8zM93.1 133.0h0.8v0.8h-0.8zM98.7 114.2h0.8v0.8h-0.8zM75.1 109.0h0.8v0.8h-0.8zM65.7 125.8h0.8v0.8h-0.8zM86.6 137.3h0.8v0.8h-0.8z" fill="#000"/>
<path d="M104.5 123.9h0.9v0.9h-0.9zM104.6 117.2h0.9v0.9h-0.9zM105.8 107.0h0.9v0.9h-0.9zM107.3 133.3h0.9v0.9h-0.9zM104.9 128.4h0.9v0.9h-0.9zM104.5 123.8h0.9v0.9h-0.9zM106.3 118.2h0.9v0.9h-0.9zM109.0 123.2h0.9v0.9h-0.9zM109.6 117.2h0.9v0.9h-0.9zM108.1 99.6h0.9v0.9h-0.9zM107.6 130.6h0.9v0.9h-0.9zM106.9 99.0h0.9v0.9h-0.9zM107.5 117.9h0.9v0.9h-0.9zM106.3 129.4h0.9v0.9h-0.9zM105.4 127.4h0.9v0.9h-0.9zM91.3 97.6h0.9v0.9h-0.9zM104.6 133.6h0.9v0.9h-0.9zM106.8 137.9h0.9v0.9h-0.9zM110.6 132.9h0.9v0.9h-0.9zM106.9 116.8h0.9v0.9h-0.9zM114.9 117.3h0.9v0.9h-0.9zM104.9 115.9h0.9v0.9h-0.9zM105.3 135.9h0.9v0.9h-0.9zM111.3 126.7h0.9v0.9h-0.9zM108.4 117.8h0.9v0.9h-0.9zM105.0 131.3h0.9v0.9h-0.9zM105.1 121.1h0.9v0.9h-0.9zM107.0 122.3h0.9v0.9h-0.9zM104.2 135.4h0.9v0.9h-0.9zM108.2 129.4h0.9v0.9h-0.9zM106.2 110.8h0.9v0.9h-0.9zM105.6 123.8h0.9v0.9h-0.9zM107.6 119.8h0.9v0.9h-0.9zM110.7 119.6h0.9v0.9h-0.9zM104.3 114.1h0.9v0.9h-0.9zM114.7 115.7h0.9v0.9h-0.9zM106.5 124.4h0.9v0.9h-0.9zM108.6 125.3h0.9v0.9h-0.9zM107.2 112.5h0.9v0.9h-0.9zM107.4 100.5h0.9v0.9h-0.9zM106.8 105.8h0.9v0.9h-0.9zM115.0 127.1h0.9v0.9h-0.9zM106.5 119.6h0.9v0.9h-0.9zM105.5 129.2h0.9v0.9h-0.9zM104.9 128.1h0.9v0.9h-0.9zM109.4 123.0h0.9v0.9h-0.9zM109.5 125.6h0.9v0.9h-0.9zM104.8 125.9h0.9v0.9h-0.9zM110.1 121.7h0.9v0.9h-0.9zM105.5 112.0h0.9v0.9h-0.9zM104.6 131.6h0.9v0.9h-0.9zM109.6 118.2h0.9v0.9h-0.9zM110.5 127.3h0.9v0.9h-0.9zM110.2 129.3h0.9v0.9h-0.9zM113.2 115.3h0.9v0.9h-0.9zM107.1 118.0h0.9v0.9h-0.9zM119.3 116.2h0.9v0.9h-0.9zM110.6 127.3h0.9v0.9h-0.9zM107.2 115.4h0.9v0.9h-0.9zM104.6 111.2h0.9v0.9h-0.9zM109.5 131.2h0.9v0.9h-0.9zM105.6 122.3h0.9v0.9h-0.9zM104.3 128.0h0.9v0.9h-0.9zM106.2 110.2h0.9v0.9h-0.9zM106.9 111.7h0.9v0.9h-0.9zM104.5 112.6h0.9v0.9h-0.9zM110.3 119.0h0.9v0.9h-0.9zM108.9 124.1h0.9v0.9h-0.9zM107.4 119.1h0.9v0.9h-0.9zM108.6 122.9h0.9v0.9h-0.9zM108.3 111.1h0.9v0.9h-0.9zM106.5 125.2h0.9v0.9h-0.9zM106.1 120.1h0.9v0.9h-0.9zM108.9 121.3h0.9v0.9h-0.9zM109.3 105.8h0.9v0.9h-0.9zM105.1 109.5h0.9v0.9h-0.9zM106.5 134.6h0.9v0.9h-0.9zM112.0 136.3h0.9v0.9h-0.9zM112.4 124.0h0.9v0.9h-0.9zM105.5 127.1h0.9v0.9h-0.9zM110.0 101.5h0.9v0.9h-0.9zM107.3 115.9h0.9v0.9h-0.9zM105.4 121.2h0.9v0.9h-0.9zM105.1 122.0h0.9v0.9h-0.9zM108.0 100.8h0.9v0.9h-0.9zM114.3 129.8h0.9v0.9h-0.9zM113.8 105.3h0.9v0.9h-0.9zM114.1 116.4h0.9v0.9h-0.9zM79.1 90.5h0.9v0.9h-0.9zM109.5 117.0h0.9v0.9h-0.9zM104.1 127.2h0.9v0.9h-0.9zM106.9 129.7h0.9v0.9h-0.9zM105.9 134.6h0.9v0.9h-0.9zM112.9 106.0h0.9v0.9h-0.9zM110.0 125.2h0.9v0.9h-0.9zM108.0 137.6h0.9v0.9h-0.9zM104.1 115.3h0.9v0.9h-0.9zM109.2 134.3h0.9v0.9h-0.9zM107.5 121.4h0.9v0.9h-0.9zM106.2 110.9h0.9v0.9h-0.9zM107.0 114.1h0.9v0.9h-0.9zM106.5 131.9h0.9v0.9h-0.9zM108.9 133.2h0.9v0.9h-0.9zM107.4 111.7h0.9v0.9h-0.9zM115.5 116.1h0.9v0.9h-0.9zM104.8 117.1h0.9v0.9h-0.9zM106.8 121.2h0.9v0.9h-0.9zM108.3 138.2h0.9v0.9h-0.9zM106.0 127.3h0.9v0.9h-0.9zM107.6 132.5h0.9v0.9h-0.9zM109.6 110.6h0.9v0.9h-0.9zM108.1 135.5h0.9v0.9h-0.9zM113.6 111.0h0.9v0.9h-0.9zM106.1 101.7h0.9v0.9h-0.9zM107.5 101.3h0.9v0.9h-0.9zM109.5 117.5h0.9v0.9h-0.9zM106.1 129.4h0.9v0.9h-0.9zM104.1 115.1h0.9v0.9h-0.9zM105.6 136.7h0.9v0.9h-0.9zM104.3 106.0h0.9v0.9h-0.9zM122.7 124.9h0.9v0.9h-0.9zM107.1 128.9h0.9v0.9h-0.9zM105.2 133.7h0.9v0.9h-0.9zM104.2 117.4h0.9v0.9h-0.9zM107.5 89.1h0.9v0.9h-0.9zM107.6 82.5h0.9v0.9h-0.9zM103.4 83.3h0.9v0.9h-0.9zM115.7 88.4h0.9v0.9h-0.9zM115.2 87.0h0.9v0.9h-0.9zM111.4 86.5h0.9v0.9h-0.9zM99.0 91.8h0.9v0.9h-0.9zM112.0 89.0h0.9v0.9h-0.9zM98.9 71.0h0.9v0.9h-0.9zM103.7 81.3h0.9v0.9h-0.9zM110.8 84.6h0.9v0.9h-0.9zM112.1 79.9h0.9v0.9h-0.9zM110.9 88.2h0.9v0.9h-0.9zM105.0 98.7h0.9v0.9h-0.9zM112.3 94.6h0.9v0.9h-0.9zM105.3 79.1h0.9v0.9h-0.9zM106.9 84.1h0.9v0.9h-0.9zM112.8 87.0h0.9v0.9h-0.9zM106.3 77.3h0.9v0.9h-0.9zM105.9 94.8h0.9v0.9h-0.9zM104.2 87.0h0.9v0.9h-0.9zM111.6 73.1h0.9v0.9h-0.9zM109.3 95.4h0.9v0.9h-0.9zM96.9 82.4h0.9v0.9h-0.9zM108.4 78.5h0.9v0.9h-0.9zM112.0 84.5h0.9v0.9h-0.9zM100.2 91.6h0.9v0.9h-0.9zM113.0 92.6h0.9v0.9h-0.9zM117.6 87.9h0.9v0.9h-0.9zM109.7 74.6h0.9v0.9h-0.9zM112.7 80.1h0.9v0.9h-0.9zM106.3 74.9h0.9v0.9h-0.9zM103.2 80.8h0.9v0.9h-0.9zM116.7 68.7h0.9v0.9h-0.9zM100.3 86.9h0.9v0.9h-0.9zM117.7 89.6h0.9v0.9h-0.9zM97.6 64.9h0.9v0.9h-0.9zM111.1 79.1h0.9v0.9h-0.9zM102.3 92.8h0.9v0.9h-0.9zM115.6 86.3h0.9v0.9h-0.9zM110.5 88.5h0.9v0.9h-0.9zM118.6 90.0h0.9v0.9h-0.9zM112.1 89.4h0.9v0.9h-0.9zM99.6 95.3h0.9v0.9h-0.9zM114.7 89.2h0.9v0.9h-0.9zM97.2 79.9h0.9v0.9h-0.9zM114.1 70.5h0.9v0.9h-0.9zM107.9 93.2h0.9v0.9h-0.9zM101.1 97.9h0.9v0.9h-0.9zM112.3 83.8h0.9v0.9h-0.9zM110.9 90.2h0.9v0.9h-0.9zM109.7 94.2h0.9v0.9h-0.9zM105.0 81.7h0.9v0.9h-0.9zM115.3 85.2h0.9v0.9h-0.9zM103.7 92.6h0.9v0.9h-0.9zM117.8 81.4h0.9v0.9h-0.9zM100.7 83.9h0.9v0.9h-0.9zM108.1 82.6h0.9v0.9h-0.9zM117.4 76.8h0.9v0.9h-0.9zM116.6 74.9h0.9v0.9h-0.9zM104.3 90.1h0.9v0.9h-0.9zM115.8 91.9h0.9v0.9h-0.9zM111.1 86.1h0.9v0.9h-0.9zM109.9 89.6h0.9v0.9h-0.9zM107.9 87.2h0.9v0.9h-0.9zM112.4 85.0h0.9v0.9h-0.9zM113.6 89.5h0.9v0.9h-0.9zM121.1 87.6h0.9v0.9h-0.9zM106.4 82.0h0.9v0.9h-0.9zM108.9 92.4h0.9v0.9h-0.9zM108.3 124.6h0.9v0.9h-0.9zM119.2 89.2h0.9v0.9h-0.9zM112.0 122.9h0.9v0.9h-0.9zM107.8 127.9h0.9v0.9h-0.9zM111.4 113.7h0.9v0.9h-0.9zM122.2 124.3h0.9v0.9h-0.9zM107.2 118.8h0.9v0.9h-0.9zM108.9 119.2h0.9v0.9h-0.9zM115.0 106.0h0.9v0.9h-0.9zM109.7 131.4h0.9v0.9h-0.9zM114.3 137.9h0.9v0.9h-0.9zM108.3 127.5h0.9v0.9h-0.9zM115.5 87.8h0.9v0.9h-0.9zM115.4 102.6h0.9v0.9h-0.9zM113.4 102.1h0.9v0.9h-0.9zM110.9 134.3h0.9v0.9h-0.9zM109.3 122.3h0.9v0.9h-0.9zM114.0 121.7h0.9v0.9h-0.9zM109.6 138.4h0.9v0.9h-0.9zM115.2 116.5h0.9v0.9h-0.9zM123.7 106.2h0.9v0.9h-0.9zM114.6 116.8h0.9v0.9h-0.9zM110.7 128.5h0.9v0.9h-0.9zM111.1 127.7h0.9v0.9h-0.9zM113.1 108.4h0.9v0.9h-0.9z" fill="#000" fill-opacity="0.7"/>
<rect x="62.5" y="4.4" width="136.0" height="136.1" fill="none" stroke="#505050" stroke-width="1" />
<line x1="104.5" y1="4.4" x2="104.5" y2="140.5" stroke="#505050" stroke-width="1" />
<line x1="62.5" y1="99.4" x2="198.5" y2="99.4" stroke="#505050" stroke-width="1" />
<line x1="61.0" y1="38.425" x2="62.5" y2="38.425" stroke="#aaa" stroke-width="1" />
<line x1="96.5" y1="140.5" x2="96.5" y2="142.0" stroke="#aaa" stroke-width="1" />
<line x1="61.0" y1="72.45" x2="62.5" y2="72.45" stroke="#aaa" stroke-width="1" />
<line x1="130.5" y1="140.5" x2="130.5" y2="142.0" stroke="#aaa" stroke-width="1" />
<line x1="61.0" y1="106.475" x2="62.5" y2="106.475" stroke="#aaa" stroke-width="1" />
<line x1="164.5" y1="140.5" x2="164.5" y2="142.0" stroke="#aaa" stroke-width="1" />
<path d="M82.2 254.7h0.8v0.8h-0.8zM94.9 268.1h0.8v0.8h-0.8zM89.9 253.8h0.8v0.8h-0.8zM92.0 258.2h0.8v0.8h-0.8zM88.8 266.1h0.8v0.8h-0.8zM88.0 269.1h0.8v0.8h-0.8zM88.2 261.8h0.8v0.8h-0.8zM91.5 279.9h0.8v0.8h-0.8zM103.2 275.0h0.8v0.8h-0.8zM88.2 266.2h0.8v0.8h-0.8zM98.9 273.7h0.8v0.8h-0.8zM82.5 265.6h0.8v0.8h-0.8zM88.2 273.2h0.8v0.8h-0.8zM97.1 261.1h0.8v0.8h-0.8zM97.8 263.4h0.8v0.8h-0.8zM96.6 253.6h0.8v0.8h-0.8zM85.8 251.7h0.8v0.8h-0.8zM90.5 264.6h0.8v0.8h-0.8zM95.7 261.4h0.8v0.8h-0.8zM92.5 279.5h0.8v0.8h-0.8zM95.5 276.3h0.8v0.8h-0.8zM92.3 261.7h0.8v0.8h-0.8zM91.3 262.1h0.8v0.8h-0.8zM83.6 268.2h0.8v0.8h-0.8zM92.2 263.3h0.8v0.8h-0.8zM87.6 272.5h0.8v0.8h-0.8zM85.8 276.7h0.8v0.8h-0.8zM92.4 251.8h0.8v0.8h-0.8zM86.0 273.3h0.8v0.8h-0.8zM88.8 265.4h0.8v0.8h-0.8zM100.4 265.5h0.8v0.8h-0.8zM95.6 259.8h0.8v0.8h-0.8zM92.5 250.5h0.8v0.8h-0.8zM87.4 267.3h0.8v0.8h-0.8zM85.0 278.9h0.8v0.8h-0.8zM100.0 250.2h0.8v0.8h-0.8zM91.0 260.8h0.8v0.8h-0.8zM97.8 276.5h0.8v0.8h-0.8zM94.4 274.6h0.8v0.8h-0.8zM96.1 269.4h0.8v0.8h-0.8zM92.0 259.2h0.8v0.8h-0.8zM96.4 258.8h0.8v0.8h-0.8zM96.3 259.2h0.8v0.8h-0.8zM92.3 275.8h0.8v0.8h-0.8zM100.0 266.8h0.8v0.8h-0.8zM92.2 267.1h0.8v0.8h-0.8zM97.1 258.7h0.8v0.8h-0.8zM93.0 268.2h0.8v0.8h-0.8zM101.4 275.0h0.8v0.8h-0.8zM86.2 260.3h0.8v0.8h-0.8zM93.1 274.1h0.8v0.8h-0.8zM99.3 264.2h0.8v0.8h-0.8zM93.8 264.4h0.8v0.8h-0.8zM90.1 248.7h0.8v0.8h-0.8zM90.2 254.3h0.8v0.8h-0.8zM94.5 260.8h0.8v0.8h-0.8zM88.0 264.1h0.8v0.8h-0.8zM89.5 269.8h0.8v0.8h-0.8zM90.8 253.6h0.8v0.8h-0.8zM94.7 252.4h0.8v0.8h-0.8zM80.9 253.1h0.8v0.8h-0.8zM96.3 254.3h0.8v0.8h-0.8zM90.9 269.3h0.8v0.8h-0.8zM87.8 279.3h0.8v0.8h-0.8zM101.6 260.1h0.8v0.8h-0.8zM84.9 246.3h0.8v0.8h-0.8zM94.2 255.5h0.8v0.8h-0.8zM82.2 269.9h0.8v0.8h-0.8zM91.7 270.3h0.8v0.8h-0.8zM84.2 253.8h0.8v0.8h-0.8zM95.7 262.8h0.8v0.8h-0.8zM98.1 274.6h0.8v0.8h-0.8zM100.2 265.8h0.8v0.8h-0.8zM95.5 252.7h0.8v0.8h-0.8zM94.2 269.5h0.8v0.8h-0.8zM91.8 266.5h0.8v0.8h-0.8zM86.2 267.2h0.8v0.8h-0.8zM99.5 263.1h0.8v0.8h-0.8zM99.7 252.2h0.8v0.8h-0.8zM88.8 262.3h0.8v0.8h-0.8zM90.4 276.7h0.8v0.8h-0.8zM85.5 274.6h0.8v0.8h-0.8zM87.2 265.7h0.8v0.8h-0.8zM75.6 245.5h0.8v0.8h-0.8zM94.8 274.5h0.8v0.8h-0.8zM95.9 266.3h0.8v0.8h-0.8zM99.5 269.5h0.8v0.8h-0.8zM98.3 253.0h0.8v0.8h-0.8zM92.1 265.2h0.8v0.8h-0.8zM89.2 271.1h0.8v0.8h-0.8zM91.2 263.5h0.8v0.8h-0.8zM86.8 263.5h0.8v0.8h-0.8zM86.3 266.5h0.8v0.8h-0.8zM101.6 275.5h0.8v0.8h-0.8zM95.8 253.4h0.8v0.8h-0.8zM99.7 274.8h0.8v0.8h-0.8zM99.4 247.5h0.8v0.8h-0.8zM93.1 278.9h0.8v0.8h-0.8zM89.0 271.7h0.8v0.8h-0.8zM93.6 252.5h0.8v0.8h-0.8zM88.9 276.7h0.8v0.8h-0.8zM100.7 260.5h0.8v0.8h-0.8zM100.3 259.5h0.8v0.8h-0.8zM94.6 265.9h0.8v0.8h-0.8zM84.9 269.1h0.8v0.8h-0.8zM83.7 267.9h0.8v0.8h-0.8zM82.9 262.8h0.8v0.8h-0.8zM94.0 265.5h0.8v0.8h-0.8zM103.9 272.3h0.8v0.8h-0.8zM102.4 268.7h0.8v0.8h-0.8zM94.5 259.1h0.8v0.8h-0.8zM89.5 270.8h0.8v0.8h-0.8zM90.7 254.5h0.8v0.8h-0.8zM88.4 260.6h0.8v0.8h-0.8zM79.0 253.4h0.8v0.8h-0.8zM96.0 242.3h0.8v0.8h-0.8zM93.1 277.8h0.8v0.8h-0.8zM88.4 271.9h0.8v0.8h-0.8zM94.3 260.3h0.8v0.8h-0.8zM82.4 259.9h0.8v0.8h-0.8zM94.2 265.3h0.8v0.8h-0.8zM92.0 277.3h0.8v0.8h-0.8zM96.6 263.7h0.8v0.8h-0.8zM96.6 257.7h0.8v0.8h-0.8zM78.5 259.3h0.8v0.8h-0.8zM98.4 269.4h0.8v0.8h-0.8zM95.0 270.4h0.8v0.8h-0.8zM89.6 280.4h0.8v0.8h-0.8zM90.1 263.6h0.8v0.8h-0.8zM95.5 254.9h0.8v0.8h-0.8zM100.6 280.2h0.8v0.8h-0.8zM95.0 259.8h0.8v0.8h-0.8zM102.2 275.6h0.8v0.8h-0.8zM94.4 252.3h0.8v0.8h-0.8zM102.5 241.4h0.8v0.8h-0.8zM98.0 262.0h0.8v0.8h-0.8zM88.9 252.4h0.8v0.8h-0.8zM98.0 255.7h0.8v0.8h-0.8zM92.2 273.4h0.8v0.8h-0.8zM89.6 264.6h0.8v0.8h-0.8zM101.8 250.1h0.8v0.8h-0.8zM91.4 261.6h0.8v0.8h-0.8zM95.0 249.6h0.8v0.8h-0.8zM92.0 270.2h0.8v0.8h-0.8zM81.1 269.7h0.8v0.8h-0.8zM94.7 269.9h0.8v0.8h-0.8zM94.4 269.3h0.8v0.8h-0.8zM93.1 261.7h0.8v0.8h-0.8zM91.6 262.4h0.8v0.8h-0.8zM93.2 280.5h0.8v0.8h-0.8zM97.7 258.8h0.8v0.8h-0.8zM91.4 266.8h0.8v0.8h-0.8zM90.4 272.1h0.8v0.8h-0.8zM95.5 250.9h0.8v0.8h-0.8zM94.7 254.2h0.8v0.8h-0.8zM91.9 261.1h0.8v0.8h-0.8zM88.9 271.4h0.8v0.8h-0.8zM94.3 274.5h0.8v0.8h-0.8zM88.1 257.4h0.8v0.8h-0.8zM99.7 262.0h0.8v0.8h-0.8zM81.0 258.0h0.8v0.8h-0.8zM92.8 273.6h0.8v0.8h-0.8zM99.2 273.0h0.8v0.8h-0.8zM93.4 260.3h0.8v0.8h-0.8zM74.6 278.3h0.8v0.8h-0.8zM86.6 267.1h0.8v0.8h-0.8zM100.4 248.5h0.8v0.8h-0.8zM90.6 269.5h0.8v0.8h-0.8zM85.9 253.8h0.8v0.8h-0.8zM101.6 259.3h0.8v0.8h-0.8zM90.2 277.0h0.8v0.8h-0.8zM91.3 276.4h0.8v0.8h-0.8zM78.7 270.3h0.8v0.8h-0.8zM96.5 264.8h0.8v0.8h-0.8zM101.3 259.3h0.8v0.8h-0.8zM97.7 258.7h0.8v0.8h-0.8zM94.5 265.9h0.8v0.8h-0.8zM100.0 251.2h0.8v0.8h-0.8zM84.3 279.1h0.8v0.8h-0.8zM86.3 268.0h0.8v0.8h-0.8zM92.7 261.8h0.8v0.8h-0.8zM97.6 265.0h0.8v0.8h-0.8zM88.2 273.2h0.8v0.8h-0.8zM80.7 256.5h0.8v0.8h-0.8zM101.8 261.3h0.8v0.8h-0.8zM90.9 269.5h0.8v0.8h-0.8zM100.2 271.0h0.8v0.8h-0.8zM86.8 260.7h0.8v0.8h-0.8zM99.8 264.9h0.8v0.8h-0.8zM88.9 274.2h0.8v0.8h-0.8zM86.1 259.4h0.8v0.8h-0.8zM88.5 269.3h0.8v0.8h-0.8zM89.9 276.5h0.8v0.8h-0.8zM75.7 275.0h0.8v0.8h-0.8zM88.9 263.4h0.8v0.8h-0.8zM96.7 267.9h0.8v0.8h-0.8zM86.5 280.1h0.8v0.8h-0.8zM96.7 261.4h0.8v0.8h-0.8zM94.3 255.6h0.8v0.8h-0.8zM85.1 263.2h0.8v0.8h-0.8zM95.4 267.0h0.8v0.8h-0.8zM88.0 253.0h0.8v0.8h-0.8zM95.4 258.5h0.8v0.8h-0.8zM100.6 271.1h0.8v0.8h-0.8zM90.3 260.2h0.8v0.8h-0.8zM100.3 269.1h0.8v0.8h-0.8zM103.5 269.4h0.8v0.8h-0.8zM89.2 260.4h0.8v0.8h-0.8zM88.5 268.4h0.8v0.8h-0.8zM94.6 271.7h0.8v0.8h-0.8zM95.9 256.1h0.8v0.8h-0.8zM91.7 257.2h0.8v0.8h-0.8zM96.1 253.6h0.8v0.8h-0.8zM89.3 257.9h0.8v0.8h-0.8zM89.0 263.6h0.8v0.8h-0.8zM102.7 263.6h0.8v0.8h-0.8zM83.8 263.2h0.8v0.8h-0.8zM97.8 271.2h0.8v0.8h-0.8zM100.1 266.9h0.8v0.8h-0.8zM100.8 253.4h0.8v0.8h-0.8zM91.9 257.9h0.8v0.8h-0.8zM86.4 279.4h0.8v0.8h-0.8zM82.1 258.0h0.8v0.8h-0.8zM99.4 265.1h0.8v0.8h-0.8zM93.9 265.9h0.8v0.8h-0.8zM94.2 264.3h0.8v0.8h-0.8zM86.7 263.3h0.8v0.8h-0.8zM93.7 257.5h0.8v0.8h-0.8zM82.5 260.9h0.8v0.8h-0.8zM91.2 266.2h0.8v0.8h-0.8zM93.6 259.2h0.8v0.8h-0.8zM92.8 266.1h0.8v0.8h-0.8zM92.4 280.5h0.8v0.8h-0.8zM93.8 252.1h0.8v0.8h-0.8zM83.0 271.6h0.8v0.8h-0.8zM90.8 260.2h0.8v0.8h-0.8zM84.3 263.1h0.8v0.8h-0.8zM92.4 259.6h0.8v0.8h-0.8zM90.7 274.3h0.8v0.8h-0.8zM98.0 271.1h0.8v0.8h-0.8zM91.9 253.2h0.8v0.8h-0.8zM98.0 280.1h0.8v0.8h-0.8zM101.2 276.9h0.8v0.8h-0.8zM94.8 269.5h0.8v0.8h-0.8zM92.9 277.8h0.8v0.8h-0.8zM98.0 263.0h0.8v0.8h-0.8zM93.0 250.9h0.8v0.8h-0.8zM88.3 263.2h0.8v0.8h-0.8zM90.2 273.6h0.8v0.8h-0.8zM95.2 275.9h0.8v0.8h-0.8zM94.2 264.7h0.8v0.8h-0.8zM95.9 258.8h0.8v0.8h-0.8zM93.8 270.7h0.8v0.8h-0.8zM90.8 269.7h0.8v0.8h-0.8zM95.1 272.7h0.8v0.8h-0.8zM86.7 261.0h0.8v0.8h-0.8zM90.3 277.3h0.8v0.8h-0.8zM94.6 250.5h0.8v0.8h-0.8zM95.2 253.8h0.8v0.8h-0.8zM87.2 267.3h0.8v0.8h-0.8zM90.7 263.2h0.8v0.8h-0.8zM91.5 259.1h0.8v0.8h-0.8zM80.8 261.9h0.8v0.8h-0.8zM88.4 275.3h0.8v0.8h-0.8zM90.8 260.5h0.8v0.8h-0.8zM88.1 258.6h0.8v0.8h-0.8zM97.2 265.3h0.8v0.8h-0.8zM92.5 263.2h0.8v0.8h-0.8zM92.5 270.8h0.8v0.8h-0.8zM97.8 275.7h0.8v0.8h-0.8zM100.6 273.8h0.8v0.8h-0.8zM95.2 262.1h0.8v0.8h-0.8zM78.0 270.2h0.8v0.8h-0.8zM89.5 274.4h0.8v0.8h-0.8zM98.8 263.6h0.8v0.8h-0.8zM77.9 259.4h0.8v0.8h-0.8zM102.5 278.8h0.8v0.8h-0.8zM94.7 249.9h0.8v0.8h-0.8zM90.6 263.3h0.8v0.8h-0.8zM96.0 264.8h0.8v0.8h-0.8zM95.2 250.6h0.8v0.8h-0.8zM88.9 279.6h0.8v0.8h-0.8zM83.7 274.7h0.8v0.8h-0.8zM95.4 255.5h0.8v0.8h-0.8zM95.1 258.3h0.8v0.8h-0.8zM91.6 265.4h0.8v0.8h-0.8zM90.3 266.3h0.8v0.8h-0.8zM99.3 254.6h0.8v0.8h-0.8zM77.1 278.0h0.8v0.8h-0.8zM90.0 250.8h0.8v0.8h-0.8zM92.1 264.9h0.8v0.8h-0.8zM99.3 261.2h0.8v0.8h-0.8zM83.0 255.9h0.8v0.8h-0.8zM92.7 268.4h0.8v0.8h-0.8zM97.6 262.4h0.8v0.8h-0.8zM96.5 267.4h0.8v0.8h-0.8zM103.8 265.5h0.8v0.8h-0.8zM93.9 271.3h0.8v0.8h-0.8zM100.8 257.3h0.8v0.8h-0.8zM90.0 263.4h0.8v0.8h-0.8zM79.3 278.3h0.8v0.8h-0.8zM99.9 266.2h0.8v0.8h-0.8zM102.8 270.0h0.8v0.8h-0.8zM85.3 266.5h0.8v0.8h-0.8zM97.8 275.3h0.8v0.8h-0.8zM94.1 261.1h0.8v0.8h-0.8zM97.9 258.8h0.8v0.8h-0.8zM92.5 273.2h0.8v0.8h-0.8zM83.8 269.5h0.8v0.8h-0.8zM80.4 257.2h0.8v0.8h-0.8zM85.1 265.2h0.8v0.8h-0.8zM97.6 265.5h0.8v0.8h-0.8zM98.9 266.9h0.8v0.8h-0.8zM91.7 270.7h0.8v0.8h-0.8zM91.5 267.3h0.8v0.8h-0.8zM99.7 260.6h0.8v0.8h-0.8zM100.4 255.5h0.8v0.8h-0.8zM91.6 249.6h0.8v0.8h-0.8zM95.3 278.0h0.8v0.8h-0.8zM83.6 256.4h0.8v0.8h-0.8zM96.0 273.8h0.8v0.8h-0.8zM98.4 250.2h0.8v0.8h-0.8zM96.3 265.3h0.8v0.8h-0.8zM93.8 270.5h0.8v0.8h-0.8zM91.2 250.0h0.8v0.8h-0.8zM86.1 252.3h0.8v0.8h-0.8zM84.6 264.7h0.8v0.8h-0.8zM101.4 259.3h0.8v0.8h-0.8zM88.1 255.1h0.8v0.8h-0.8zM81.9 266.6h0.8v0.8h-0.8zM89.9 263.7h0.8v0.8h-0.8zM86.8 270.6h0.8v0.8h-0.8zM85.3 271.2h0.8v0.8h-0.8zM88.8 273.5h0.8v0.8h-0.8zM87.3 270.2h0.8v0.8h-0.8zM95.8 265.3h0.8v0.8h-0.8zM103.5 267.7h0.8v0.8h-0.8zM87.3 272.5h0.8v0.8h-0.8zM87.7 260.9h0.8v0.8h-0.8zM93.1 267.7h0.8v0.8h-0.8zM104.0 249.5h0.8v0.8h-0.8zM91.3 276.7h0.8v0.8h-0.8zM92.0 269.0h0.8v0.8h-0.8zM102.8 254.4h0.8v0.8h-0.8zM93.3 273.5h0.8v0.8h-0.8zM89.2 249.4h0.8v0.8h-0.8zM86.6 267.8h0.8v0.8h-0.8zM101.5 251.4h0.8v0.8h-0.8zM99.7 274.7h0.8v0.8h-0.8zM103.4 264.6h0.8v0.8h-0.8zM89.4 267.4h0.8v0.8h-0.8zM102.9 271.9h0.8v0.8h-0.8zM103.9 273.4h0.8v0.8h-0.8zM89.2 256.4h0.8v0.8h-0.8zM100.1 273.7h0.8v0.8h-0.8zM88.6 269.5h0.8v0.8h-0.8zM102.6 259.1h0.8v0.8h-0.8zM96.4 270.9h0.8v0.8h-0.8zM88.3 276.7h0.8v0.8h-0.8zM89.8 275.4h0.8v0.8h-0.8zM94.6 260.3h0.8v0.8h-0.8zM91.9 257.4h0.8v0.8h-0.8zM90.5 263.1h0.8v0.8h-0.8zM85.2 273.3h0.8v0.8h-0.8zM89.1 259.2h0.8v0.8h-0.8zM96.3 267.1h0.8v0.8h-0.8zM89.2 263.8h0.8v0.8h-0.8zM89.8 278.8h0.8v0.8h-0.8zM99.4 259.1h0.8v0.8h-0.8zM92.7 279.0h0.8v0.8h-0.8zM95.9 272.3h0.8v0.8h-0.8zM79.6 274.1h0.8v0.8h-0.8zM95.2 271.5h0.8v0.8h-0.8zM96.1 271.0h0.8v0.8h-0.8zM89.7 274.5h0.8v0.8h-0.8zM93.4 256.1h0.8v0.8h-0.8zM86.4 267.5h0.8v0.8h-0.8zM95.2 245.1h0.8v0.8h-0.8zM79.7 276.0h0.8v0.8h-0.8zM83.1 263.6h0.8v0.8h-0.8zM89.1 271.3h0.8v0.8h-0.8zM86.5 277.7h0.8v0.8h-0.8zM85.2 268.9h0.8v0.8h-0.8zM94.1 271.9h0.8v0.8h-0.8zM87.9 278.7h0.8v0.8h-0.8zM92.6 265.8h0.8v0.8h-0.8zM91.3 255.9h0.8v0.8h-0.8zM97.6 269.2h0.8v0.8h-0.8zM87.4 263.3h0.8v0.8h-0.8zM93.0 274.1h0.8v0.8h-0.8zM91.9 274.9h0.8v0.8h-0.8zM95.9 249.3h0.8v0.8h-0.8zM88.6 246.7h0.8v0.8h-0.8zM91.2 262.0h0.8v0.8h-0.8zM96.8 267.6h0.8v0.8h-0.8zM92.6 278.0h0.8v0.8h-0.8zM96.8 254.3h0.8v0.8h-0.8zM88.6 269.1h0.8v0.8h-0.8zM104.0 264.1h0.8v0.8h-0.8zM91.9 268.5h0.8v0.8h-0.8zM98.0 265.1h0.8v0.8h-0.8zM94.9 262.0h0.8v0.8h-0.8zM89.5 258.5h0.8v0.8h-0.8zM97.2 260.7h0.8v0.8h-0.8zM96.5 269.9h0.8v0.8h-0.8zM90.8 258.7h0.8v0.8h-0.8zM92.6 270.1h0.8v0.8h-0.8zM95.0 265.7h0.8v0.8h-0.8zM88.3 260.1h0.8v0.8h-0.8zM95.7 275.7h0.8v0.8h-0.8zM97.5 262.9h0.8v0.8h-0.8zM97.8 277.9h0.8v0.8h-0.8zM88.6 256.2h0.8v0.8h-0.8zM96.1 269.9h0.8v0.8h-0.8zM93.4 277.8h0.8v0.8h-0.8zM84.7 267.8h0.8v0.8h-0.8zM91.0 245.5h0.8v0.8h-0.8zM91.1 266.6h0.8v0.8h-0.8zM93.6 264.3h0.8v0.8h-0.8zM91.5 271.0h0.8v0.8h-0.8zM83.8 255.8h0.8v0.8h-0.8zM96.8 271.9h0.8v0.8h-0.8zM99.0 253.9h0.8v0.8h-0.8zM100.8 275.4h0.8v0.8h-0.8zM94.8 256.3h0.8v0.8h-0.8zM98.4 277.9h0.8v0.8h-0.8zM91.5 270.8h0.8v0.8h-0.8zM96.4 274.6h0.8v0.8h-0.8zM97.5 272.9h0.8v0.8h-0.8zM85.1 262.1h0.8v0.8h-0.8zM83.3 276.0h0.8v0.8h-0.8zM98.0 270.6h0.8v0.8h-0.8zM93.8 253.9h0.8v0.8h-0.8zM95.0 253.6h0.8v0.8h-0.8zM96.7 271.1h0.8v0.8h-0.8zM86.1 272.7h0.8v0.8h-0.8zM101.3 275.1h0.8v0.8h-0.8zM96.3 249.2h0.8v0.8h-0.8zM97.2 260.2h0.8v0.8h-0.8zM99.8 279.1h0.8v0.8h-0.8zM90.8 257.1h0.8v0.8h-0.8zM90.9 270.7h0.8v0.8h-0.8zM96.6 256.5h0.8v0.8h-0.8zM95.3 257.7h0.8v0.8h-0.8zM89.6 276.6h0.8v0.8h-0.8zM92.6 245.7h0.8v0.8h-0.8zM86.9 278.0h0.8v0.8h-0.8zM82.2 277.1h0.8v0.8h-0.8zM93.5 253.5h0.8v0.8h-0.8zM89.6 272.0h0.8v0.8h-0.8zM101.9 254.4h0.8v0.8h-0.8zM92.1 269.9h0.8v0.8h-0.8zM85.2 261.9h0.8v0.8h-0.8zM85.9 272.7h0.8v0.8h-0.8zM99.3 277.2h0.8v0.8h-0.8zM85.4 252.3h0.8v0.8h-0.8zM87.6 244.8h0.8v0.8h-0.8zM93.9 266.5h0.8v0.8h-0.8zM97.7 275.9h0.8v0.8h-0.8zM93.5 260.3h0.8v0.8h-0.8zM79.0 262.4h0.8v0.8h-0.8zM92.9 256.1h0.8v0.8h-0.8zM87.7 267.0h0.8v0.8h-0.8zM81.2 267.5h0.8v0.8h-0.8zM90.1 256.2h0.8v0.8h-0.8zM82.0 259.2h0.8v0.8h-0.8zM76.5 261.5h0.8v0.8h-0.8zM80.2 267.3h0.8v0.8h-0.8zM96.6 273.2h0.8v0.8h-0.8zM90.2 248.2h0.8v0.8h-0.8zM91.8 263.6h0.8v0.8h-0.8zM94.9 268.7h0.8v0.8h-0.8zM87.7 262.3h0.8v0.8h-0.8zM92.5 276.7h0.8v0.8h-0.8zM86.3 262.2h0.8v0.8h-0.8zM89.8 278.4h0.8v0.8h-0.8zM103.2 261.7h0.8v0.8h-0.8zM94.2 262.6h0.8v0.8h-0.8zM97.3 272.3h0.8v0.8h-0.8zM97.9 273.3h0.8v0.8h-0.8zM93.8 272.8h0.8v0.8h-0.8zM98.2 267.1h0.8v0.8h-0.8zM100.6 270.2h0.8v0.8h-0.8zM89.9 279.9h0.8v0.8h-0.8zM84.7 261.1h0.8v0.8h-0.8zM89.1 251.6h0.8v0.8h-0.8zM85.8 268.0h0.8v0.8h-0.8zM92.6 268.7h0.8v0.8h-0.8zM84.1 268.9h0.8v0.8h-0.8zM102.4 252.8h0.8v0.8h-0.8zM96.1 255.6h0.8v0.8h-0.8zM95.4 273.0h0.8v0.8h-0.8zM99.2 266.4h0.8v0.8h-0.8zM87.8 276.7h0.8v0.8h-0.8zM102.7 278.2h0.8v0.8h-0.8zM90.3 273.3h0.8v0.8h-0.8zM82.6 256.2h0.8v0.8h-0.8zM100.6 270.7h0.8v0.8h-0.8zM98.1 271.8h0.8v0.8h-0.8zM101.2 265.9h0.8v0.8h-0.8zM97.9 264.0h0.8v0.8h-0.8zM87.2 262.6h0.8v0.8h-0.8zM79.4 255.3h0.8v0.8h-0.8zM93.5 264.3h0.8v0.8h-0.8zM79.3 277.8h0.8v0.8h-0.8zM92.8 275.4h0.8v0.8h-0.8zM88.8 262.5h0.8v0.8h-0.8zM90.5 252.2h0.8v0.8h-0.8zM91.0 257.4h0.8v0.8h-0.8zM94.6 269.1h0.8v0.8h-0.8zM97.8 241.1h0.8v0.8h-0.8zM100.3 260.6h0.8v0.8h-0.8zM91.8 277.7h0.8v0.8h-0.8zM103.6 264.1h0.8v0.8h-0.8zM86.9 249.5h0.8v0.8h-0.8zM85.9 272.8h0.8v0.8h-0.8zM95.6 260.7h0.8v0.8h-0.8zM93.9 264.3h0.8v0.8h-0.8zM84.6 263.0h0.8v0.8h-0.8zM89.1 268.3h0.8v0.8h-0.8zM85.5 272.9h0.8v0.8h-0.8zM92.5 266.3h0.8v0.8h-0.8zM101.7 274.5h0.8v0.8h-0.8zM96.4 271.5h0.8v0.8h-0.8zM97.6 247.8h0.8v0.8h-0.8zM96.0 261.9h0.8v0.8h-0.8zM92.2 267.4h0.8v0.8h-0.8zM88.6 269.0h0.8v0.8h-0.8zM77.2 251.5h0.8v0.8h-0.8zM93.7 269.7h0.8v0.8h-0.8zM91.9 261.6h0.8v0.8h-0.8zM94.2 276.4h0.8v0.8h-0.8zM98.8 265.2h0.8v0.8h-0.8zM90.0 276.2h0.8v0.8h-0.8zM96.5 274.5h0.8v0.8h-0.8zM91.2 257.7h0.8v0.8h-0.8zM94.2 260.0h0.8v0.8h-0.8zM100.4 274.2h0.8v0.8h-0.8zM78.9 272.4h0.8v0.8h-0.8zM101.6 276.0h0.8v0.8h-0.8zM89.9 257.7h0.8v0.8h-0.8zM99.3 275.7h0.8v0.8h-0.8zM93.4 254.9h0.8v0.8h-0.8zM83.1 268.6h0.8v0.8h-0.8zM87.6 259.5h0.8v0.8h-0.8zM95.9 276.1h0.8v0.8h-0.8zM79.6 259.6h0.8v0.8h-0.8zM101.4 265.6h0.8v0.8h-0.8zM90.8 272.1h0.8v0.8h-0.8zM85.6 254.3h0.8v0.8h-0.8zM99.6 266.0h0.8v0.8h-0.8zM99.6 262.1h0.8v0.8h-0.8zM85.4 249.9h0.8v0.8h-0.8zM94.8 274.6h0.8v0.8h-0.8zM95.4 265.6h0.8v0.8h-0.8zM90.4 276.5h0.8v0.8h-0.8zM92.7 252.2h0.8v0.8h-0.8zM101.9 259.8h0.8v0.8h-0.8zM95.5 266.0h0.8v0.8h-0.8zM99.8 268.4h0.8v0.8h-0.8zM100.9 268.0h0.8v0.8h-0.8zM90.0 261.1h0.8v0.8h-0.8zM97.2 258.0h0.8v0.8h-0.8zM99.0 263.7h0.8v0.8h-0.8zM87.0 257.6h0.8v0.8h-0.8zM98.0 266.2h0.8v0.8h-0.8zM91.2 266.0h0.8v0.8h-0.8zM90.3 278.8h0.8v0.8h-0.8zM94.1 261.6h0.8v0.8h-0.8zM94.2 256.4h0.8v0.8h-0.8zM86.2 264.5h0.8v0.8h-0.8zM74.3 277.3h0.8v0.8h-0.8zM91.9 260.8h0.8v0.8h-0.8zM89.1 259.8h0.8v0.8h-0.8zM91.7 265.6h0.8v0.8h-0.8zM89.7 273.7h0.8v0.8h-0.8zM93.2 265.2h0.8v0.8h-0.8zM90.2 268.4h0.8v0.8h-0.8zM91.2 248.4h0.8v0.8h-0.8zM95.9 249.2h0.8v0.8h-0.8zM93.8 267.1h0.8v0.8h-0.8zM103.6 276.4h0.8v0.8h-0.8zM96.8 255.6h0.8v0.8h-0.8zM97.3 272.0h0.8v0.8h-0.8zM94.6 248.5h0.8v0.8h-0.8zM76.0 251.9h0.8v0.8h-0.8zM95.3 243.8h0.8v0.8h-0.8zM95.7 265.1h0.8v0.8h-0.8zM93.0 259.0h0.8v0.8h-0.8zM90.3 274.0h0.8v0.8h-0.8zM95.3 265.8h0.8v0.8h-0.8zM89.8 268.0h0.8v0.8h-0.8zM100.7 265.8h0.8v0.8h-0.8zM90.6 254.7h0.8v0.8h-0.8zM93.6 257.2h0.8v0.8h-0.8zM83.7 274.4h0.8v0.8h-0.8zM89.0 246.4h0.8v0.8h-0.8zM92.3 253.3h0.8v0.8h-0.8zM85.8 272.9h0.8v0.8h-0.8zM95.6 268.1h0.8v0.8h-0.8zM91.7 270.7h0.8v0.8h-0.8zM103.0 270.7h0.8v0.8h-0.8zM91.9 252.5h0.8v0.8h-0.8zM97.2 253.9h0.8v0.8h-0.8zM94.2 278.5h0.8v0.8h-0.8zM88.9 270.8h0.8v0.8h-0.8zM82.7 249.2h0.8v0.8h-0.8zM95.4 272.8h0.8v0.8h-0.8zM90.7 265.8h0.8v0.8h-0.8zM90.3 277.6h0.8v0.8h-0.8zM78.6 268.5h0.8v0.8h-0.8zM84.7 259.5h0.8v0.8h-0.8zM83.0 257.2h0.8v0.8h-0.8zM92.8 266.3h0.8v0.8h-0.8zM96.6 270.5h0.8v0.8h-0.8zM91.1 261.6h0.8v0.8h-0.8zM100.6 267.4h0.8v0.8h-0.8zM98.1 266.3h0.8v0.8h-0.8zM89.7 270.5h0.8v0.8h-0.8zM98.1 266.1h0.8v0.8h-0.8zM93.2 274.7h0.8v0.8h-0.8zM87.6 270.7h0.8v0.8h-0.8zM92.4 267.7h0.8v0.8h-0.8zM98.6 252.3h0.8v0.8h-0.8zM92.5 266.0h0.8v0.8h-0.8zM88.7 267.8h0.8v0.8h-0.8zM98.9 247.3h0.8v0.8h-0.8zM98.6 274.0h0.8v0.8h-0.8zM89.9 264.2h0.8v0.8h-0.8zM89.1 278.3h0.8v0.8h-0.8zM88.7 253.8h0.8v0.8h-0.8zM88.3 259.5h0.8v0.8h-0.8zM94.1 266.7h0.8v0.8h-0.8zM99.9 249.3h0.8v0.8h-0.8zM95.2 263.8h0.8v0.8h-0.8zM93.5 260.0h0.8v0.8h-0.8zM90.5 271.4h0.8v0.8h-0.8zM100.8 252.0h0.8v0.8h-0.8zM96.2 257.7h0.8v0.8h-0.8zM97.7 263.0h0.8v0.8h-0.8zM84.2 259.4h0.8v0.8h-0.8zM93.7 275.6h0.8v0.8h-0.8zM102.5 276.3h0.8v0.8h-0.8zM94.4 270.9h0.8v0.8h-0.8zM91.4 279.8h0.8v0.8h-0.8zM87.8 256.9h0.8v0.8h-0.8zM99.7 253.0h0.8v0.8h-0.8zM95.0 277.7h0.8v0.8h-0.8zM95.4 272.4h0.8v0.8h-0.8zM94.6 269.1h0.8v0.8h-0.8zM91.4 262.5h0.8v0.8h-0.8zM94.7 278.9h0.8v0.8h-0.8zM91.5 265.6h0.8v0.8h-0.8zM100.1 273.0h0.8v0.8h-0.8zM90.8 263.6h0.8v0.8h-0.8zM93.7 258.8h0.8v0.8h-0.8zM86.1 259.6h0.8v0.8h-0.8zM87.5 272.3h0.8v0.8h-0.8zM80.8 261.3h0.8v0.8h-0.8zM91.1 252.3h0.8v0.8h-0.8zM94.8 278.4h0.8v0.8h-0.8zM88.6 268.6h0.8v0.8h-0.8zM93.9 259.2h0.8v0.8h-0.8zM91.1 255.0h0.8v0.8h-0.8zM83.7 272.8h0.8v0.8h-0.8zM94.6 258.7h0.8v0.8h-0.8zM89.2 256.0h0.8v0.8h-0.8zM99.7 262.1h0.8v0.8h-0.8zM92.1 267.8h0.8v0.8h-0.8zM85.0 268.3h0.8v0.8h-0.8zM91.9 270.3h0.8v0.8h-0.8zM90.5 266.4h0.8v0.8h-0.8zM96.4 275.4h0.8v0.8h-0.8zM88.5 275.4h0.8v0.8h-0.8zM86.6 264.2h0.8v0.8h-0.8zM93.9 267.4h0.8v0.8h-0.8zM76.7 256.5h0.8v0.8h-0.8zM91.8 274.9h0.8v0.8h-0.8zM88.4 280.6h0.8v0.8h-0.8zM81.2 266.7h0.8v0.8h-0.8zM96.5 266.2h0.8v0.8h-0.8zM94.7 275.0h0.8v0.8h-0.8zM87.7 271.7h0.8v0.8h-0.8zM99.9 263.7h0.8v0.8h-0.8zM77.9 254.5h0.8v0.8h-0.8zM87.4 255.8h0.8v0.8h-0.8zM95.8 258.2h0.8v0.8h-0.8zM90.9 264.2h0.8v0.8h-0.8zM92.8 256.5h0.8v0.8h-0.8zM89.6 259.7h0.8v0.8h-0.8zM98.5 261.4h0.8v0.8h-0.8zM93.9 273.7h0.8v0.8h-0.8zM74.5 268.3h0.8v0.8h-0.8zM96.4 270.5h0.8v0.8h-0.8zM93.7 262.3h0.8v0.8h-0.8zM83.1 274.8h0.8v0.8h-0.8zM90.3 249.1h0.8v0.8h-0.8zM103.3 279.8h0.8v0.8h-0.8zM85.5 280.1h0.8v0.8h-0.8zM79.3 269.7h0.8v0.8h-0.8zM88.0 267.0h0.8v0.8h-0.8zM97.5 275.3h0.8v0.8h-0.8zM96.8 267.8h0.8v0.8h-0.8zM99.1 256.9h0.8v0.8h-0.8zM95.5 261.8h0.8v0.8h-0.8zM85.6 267.4h0.8v0.8h-0.8zM97.0 270.8h0.8v0.8h-0.8zM102.3 258.6h0.8v0.8h-0.8zM84.0 265.2h0.8v0.8h-0.8zM103.5 247.4h0.8v0.8h-0.8zM91.2 264.2h0.8v0.8h-0.8zM95.7 261.8h0.8v0.8h-0.8zM93.2 271.3h0.8v0.8h-0.8zM84.3 265.0h0.8v0.8h-0.8zM85.8 268.7h0.8v0.8h-0.8zM99.6 278.1h0.8v0.8h-0.8zM87.5 264.0h0.8v0.8h-0.8zM100.8 245.9h0.8v0.8h-0.8zM87.5 272.9h0.8v0.8h-0.8zM96.0 263.0h0.8v0.8h-0.8zM75.7 265.0h0.8v0.8h-0.8zM98.5 259.1h0.8v0.8h-0.8zM98.8 272.6h0.8v0.8h-0.8zM81.5 264.1h0.8v0.8h-0.8zM95.1 273.3h0.8v0.8h-0.8zM94.0 265.9h0.8v0.8h-0.8zM90.7 263.2h0.8v0.8h-0.8zM93.0 255.7h0.8v0.8h-0.8zM97.2 262.9h0.8v0.8h-0.8zM96.4 261.1h0.8v0.8h-0.8zM95.7 267.2h0.8v0.8h-0.8zM98.8 270.5h0.8v0.8h-0.8zM99.1 264.4h0.8v0.8h-0.8zM92.6 263.5h0.8v0.8h-0.8zM84.8 264.8h0.8v0.8h-0.8zM100.1 273.5h0.8v0.8h-0.8zM87.5 268.9h0.8v0.8h-0.8zM97.9 252.9h0.8v0.8h-0.8zM95.3 269.2h0.8v0.8h-0.8zM97.9 268.5h0.8v0.8h-0.8zM81.7 246.5h0.8v0.8h-0.8zM95.9 250.0h0.8v0.8h-0.8zM71.5 271.5h0.8v0.8h-0.8zM90.3 263.1h0.8v0.8h-0.8zM93.7 271.0h0.8v0.8h-0.8zM85.9 257.2h0.8v0.8h-0.8zM93.6 264.9h0.8v0.8h-0.8zM102.0 277.2h0.8v0.8h-0.8zM99.8 258.4h0.8v0.8h-0.8zM92.4 265.3h0.8v0.8h-0.8zM85.9 257.6h0.8v0.8h-0.8zM94.0 254.3h0.8v0.8h-0.8zM96.5 270.6h0.8v0.8h-0.8zM91.5 262.7h0.8v0.8h-0.8zM96.9 270.6h0.8v0.8h-0.8zM95.4 254.2h0.8v0.8h-0.8zM88.7 262.5h0.8v0.8h-0.8zM81.1 258.3h0.8v0.8h-0.8zM88.2 273.7h0.8v0.8h-0.8zM75.8 252.5h0.8v0.8h-0.8zM90.3 261.3h0.8v0.8h-0.8zM87.9 261.7h0.8v0.8h-0.8zM82.7 268.6h0.8v0.8h-0.8zM100.8 267.5h0.8v0.8h-0.8zM89.5 278.2h0.8v0.8h-0.8zM96.2 256.1h0.8v0.8h-0.8zM89.3 260.1h0.8v0.8h-0.8zM92.7 277.7h0.8v0.8h-0.8zM88.4 264.6h0.8v0.8h-0.8zM93.7 254.5h0.8v0.8h-0.8zM89.9 271.9h0.8v0.8h-0.8zM100.4 247.9h0.8v0.8h-0.8zM97.6 263.2h0.8v0.8h-0.8zM101.4 272.0h0.8v0.8h-0.8zM89.3 275.0h0.8v0.8h-0.8zM91.4 260.7h0.8v0.8h-0.8zM85.3 278.9h0.8v0.8h-0.8zM89.3 254.2h0.8v0.8h-0.8zM96.7 270.1h0.8v0.8h-0.8zM92.9 268.5h0.8v0.8h-0.8zM87.5 256.2h0.8v0.8h-0.8zM100.5 260.3h0.8v0.8h-0.8zM99.5 260.6h0.8v0.8h-0.8zM87.7 265.1h0.8v0.8h-0.8zM77.9 271.1h0.8v0.8h-0.8zM92.6 266.0h0.8v0.8h-0.8zM90.3 271.2h0.8v0.8h-0.8zM87.4 257.8h0.8v0.8h-0.8zM78.1 269.4h0.8v0.8h-0.8zM93.2 261.8h0.8v0.8h-0.8zM103.1 268.9h0.8v0.8h-0.8zM85.1 257.9h0.8v0.8h-0.8zM91.2 266.0h0.8v0.8h-0.8zM81.0 271.6h0.8v0.8h-0.8zM91.4 264.2h0.8v0.8h-0.8zM89.2 264.4h0.8v0.8h-0.8zM89.0 244.5h0.8v0.8h-0.8zM99.3 255.4h0.8v0.8h-0.8zM94.0 262.1h0.8v0.8h-0.8zM81.3 270.1h0.8v0.8h-0.8zM91.0 270.6h0.8v0.8h-0.8zM99.8 254.6h0.8v0.8h-0.8zM95.4 266.2h0.8v0.8h-0.8zM77.7 257.4h0.8v0.8h-0.8zM83.0 252.5h0.8v0.8h-0.8zM99.8 273.9h0.8v0.8h-0.8zM95.5 274.0h0.8v0.8h-0.8zM97.4 274.8h0.8v0.8h-0.8zM102.2 270.1h0.8v0.8h-0.8zM84.3 249.1h0.8v0.8h-0.8zM93.3 262.1h0.8v0.8h-0.8zM98.6 257.0h0.8v0.8h-0.8zM100.1 261.5h0.8v0.8h-0.8zM102.0 273.5h0.8v0.8h-0.8zM79.2 260.8h0.8v0.8h-0.8zM87.1 266.4h0.8v0.8h-0.8zM87.6 252.9h0.8v0.8h-0.8zM87.9 268.0h0.8v0.8h-0.8zM83.8 273.4h0.8v0.8h-0.8zM93.5 271.7h0.8v0.8h-0.8zM83.4 267.4h0.8v0.8h-0.8zM97.8 269.2h0.8v0.8h-0.8zM98.1 264.6h0.8v0.8h-0.8zM93.8 257.7h0.8v0.8h-0.8zM99.5 271.8h0.8v0.8h-0.8zM100.8 253.6h0.8v0.8h-0.8zM102.8 270.5h0.8v0.8h-0.8zM87.5 258.3h0.8v0.8h-0.8zM88.9 255.8h0.8v0.8h-0.8zM97.2 279.8h0.8v0.8h-0.8zM96.9 272.1h0.8v0.8h-0.8zM98.1 255.8h0.8v0.8h-0.8zM82.6 264.9h0.8v0.8h-0.8zM86.5 266.5h0.8v0.8h-0.8zM91.7 265.3h0.8v0.8h-0.8zM91.9 268.2h0.8v0.8h-0.8zM87.8 255.1h0.8v0.8h-0.8zM92.7 258.3h0.8v0.8h-0.8zM97.2 255.4h0.8v0.8h-0.8zM93.6 247.3h0.8v0.8h-0.8zM92.8 276.1h0.8v0.8h-0.8zM91.3 269.0h0.8v0.8h-0.8zM100.1 255.5h0.8v0.8h-0.8zM84.7 266.8h0.8v0.8h-0.8zM94.8 263.4h0.8v0.8h-0.8zM86.7 277.6h0.8v0.8h-0.8zM85.4 263.5h0.8v0.8h-0.8zM92.7 273.0h0.8v0.8h-0.8zM90.1 258.2h0.8v0.8h-0.8zM91.7 277.6h0.8v0.8h-0.8zM97.9 271.6h0.8v0.8h-0.8zM100.0 271.2h0.8v0.8h-0.8zM103.8 261.6h0.8v0.8h-0.8zM89.5 271.9h0.8v0.8h-0.8zM95.0 264.7h0.8v0.8h-0.8zM100.3 250.0h0.8v0.8h-0.8zM87.7 272.6h0.8v0.8h-0.8zM86.7 258.4h0.8v0.8h-0.8zM102.5 250.6h0.8v0.8h-0.8zM92.6 267.1h0.8v0.8h-0.8zM94.7 252.1h0.8v0.8h-0.8zM91.5 262.8h0.8v0.8h-0.8zM75.5 270.5h0.8v0.8h-0.8zM96.2 279.1h0.8v0.8h-0.8zM100.8 270.7h0.8v0.8h-0.8zM92.7 260.3h0.8v0.8h-0.8zM97.0 243.0h0.8v0.8h-0.8zM91.3 253.9h0.8v0.8h-0.8zM98.4 250.1h0.8v0.8h-0.8zM86.2 255.4h0.8v0.8h-0.8zM95.6 274.0h0.8v0.8h-0.8zM94.1 258.0h0.8v0.8h-0.8zM95.3 265.9h0.8v0.8h-0.8zM98.4 269.3h0.8v0.8h-0.8zM83.1 278.4h0.8v0.8h-0.8zM83.9 263.2h0.8v0.8h-0.8zM86.2 270.0h0.8v0.8h-0.8zM98.1 263.9h0.8v0.8h-0.8zM85.6 264.2h0.8v0.8h-0.8zM95.3 270.3h0.8v0.8h-0.8zM81.2 265.3h0.8v0.8h-0.8zM90.9 267.4h0.8v0.8h-0.8zM96.3 263.9h0.8v0.8h-0.8zM94.5 264.0h0.8v0.8h-0.8zM90.8 261.6h0.8v0.8h-0.8zM92.6 276.2h0.8v0.8h-0.8zM93.2 255.5h0.8v0.8h-0.8zM87.2 270.9h0.8v0.8h-0.8zM87.7 265.0h0.8v0.8h-0.8zM97.1 264.1h0.8v0.8h-0.8zM98.6 275.1h0.8v0.8h-0.8zM86.7 278.6h0.8v0.8h-0.8zM102.6 269.6h0.8v0.8h-0.8zM90.8 275.9h0.8v0.8h-0.8zM89.6 277.0h0.8v0.8h-0.8zM91.1 280.3h0.8v0.8h-0.8zM84.2 274.1h0.8v0.8h-0.8zM91.1 276.5h0.8v0.8h-0.8zM83.2 260.5h0.8v0.8h-0.8zM89.0 257.5h0.8v0.8h-0.8zM95.8 268.5h0.8v0.8h-0.8zM95.5 271.0h0.8v0.8h-0.8zM96.9 279.2h0.8v0.8h-0.8zM93.5 273.3h0.8v0.8h-0.8zM94.5 271.0h0.8v0.8h-0.8zM89.4 254.3h0.8v0.8h-0.8zM89.9 256.7h0.8v0.8h-0.8zM85.5 257.0h0.8v0.8h-0.8zM90.3 267.6h0.8v0.8h-0.8zM86.4 276.0h0.8v0.8h-0.8zM102.7 274.9h0.8v0.8h-0.8zM97.2 258.9h0.8v0.8h-0.8zM87.5 274.5h0.8v0.8h-0.8zM92.9 272.7h0.8v0.8h-0.8zM100.0 276.8h0.8v0.8h-0.8zM76.5 264.6h0.8v0.8h-0.8zM93.8 264.1h0.8v0.8h-0.8zM99.4 256.3h0.8v0.8h-0.8zM87.8 258.8h0.8v0.8h-0.8zM89.7 268.5h0.8v0.8h-0.8zM87.9 263.7h0.8v0.8h-0.8zM102.6 279.7h0.8v0.8h-0.8zM81.0 256.9h0.8v0.8h-0.8zM90.6 278.4h0.8v0.8h-0.8zM95.4 279.7h0.8v0.8h-0.8zM87.5 263.1h0.8v0.8h-0.8zM99.7 271.5h0.8v0.8h-0.8zM80.9 263.4h0.8v0.8h-0.8zM94.2 272.0h0.8v0.8h-0.8zM94.0 279.8h0.8v0.8h-0.8zM95.7 266.8h0.8v0.8h-0.8zM91.0 254.9h0.8v0.8h-0.8zM98.7 273.2h0.8v0.8h-0.8zM99.1 262.4h0.8v0.8h-0.8zM86.5 262.4h0.8v0.8h-0.8zM91.0 265.9h0.8v0.8h-0.8zM99.4 257.3h0.8v0.8h-0.8zM89.9 272.6h0.8v0.8h-0.8zM96.5 258.0h0.8v0.8h-0.8zM86.3 258.5h0.8v0.8h-0.8zM93.5 268.4h0.8v0.8h-0.8zM92.6 260.2h0.8v0.8h-0.8zM91.9 265.3h0.8v0.8h-0.8zM96.9 266.8h0.8v0.8h-0.8zM87.8 254.9h0.8v0.8h-0.8zM102.7 265.2h0.8v0.8h-0.8zM91.9 265.8h0.8v0.8h-0.8zM100.4 263.0h0.8v0.8h-0.8zM94.2 263.8h0.8v0.8h-0.8zM96.8 256.4h0.8v0.8h-0.8zM94.4 275.8h0.8v0.8h-0.8zM100.8 271.9h0.8v0.8h-0.8zM97.7 279.3h0.8v0.8h-0.8zM85.3 255.6h0.8v0.8h-0.8zM98.3 263.5h0.8v0.8h-0.8zM90.3 257.0h0.8v0.8h-0.8zM102.7 254.7h0.8v0.8h-0.8zM93.8 252.8h0.8v0.8h-0.8zM97.3 252.7h0.8v0.8h-0.8zM99.4 251.1h0.8v0.8h-0.8zM86.6 268.8h0.8v0.8h-0.8zM95.7 252.3h0.8v0.8h-0.8zM80.0 261.1h0.8v0.8h-0.8zM94.1 266.3h0.8v0.8h-0.8zM90.1 267.0h0.8v0.8h-0.8zM94.6 262.5h0.8v0.8h-0.8zM96.5 261.3h0.8v0.8h-0.8zM100.4 278.2h0.8v0.8h-0.8zM90.0 257.0h0.8v0.8h-0.8zM86.1 258.9h0.8v0.8h-0.8zM100.4 262.3h0.8v0.8h-0.8zM85.9 263.3h0.8v0.8h-0.8zM84.4 273.9h0.8v0.8h-0.8zM100.7 275.7h0.8v0.8h-0.8zM103.1 258.8h0.8v0.8h-0.8zM87.1 263.6h0.8v0.8h-0.8zM95.4 268.5h0.8v0.8h-0.8zM79.8 261.1h0.8v0.8h-0.8zM95.8 261.4h0.8v0.8h-0.8zM92.9 248.2h0.8v0.8h-0.8zM80.1 268.4h0.8v0.8h-0.8zM95.3 274.2h0.8v0.8h-0.8zM82.4 264.6h0.8v0.8h-0.8zM87.7 268.6h0.8v0.8h-0.8zM97.4 258.7h0.8v0.8h-0.8zM88.9 269.4h0.8v0.8h-0.8zM82.7 267.6h0.8v0.8h-0.8zM86.7 277.0h0.8v0.8h-0.8zM92.0 266.1h0.8v0.8h-0.8zM98.3 264.1h0.8v0.8h-0.8zM77.0 259.0h0.8v0.8h-0.8zM93.6 269.4h0.8v0.8h-0.8zM94.1 271.4h0.8v0.8h-0.8zM97.7 256.5h0.8v0.8h-0.8zM98.1 268.0h0.8v0.8h-0.8zM88.9 265.6h0.8v0.8h-0.8zM88.5 268.4h0.8v0.8h-0.8zM90.4 263.2h0.8v0.8h-0.8zM83.5 264.2h0.8v0.8h-0.8zM100.1 272.5h0.8v0.8h-0.8zM82.2 251.7h0.8v0.8h-0.8zM89.7 262.1h0.8v0.8h-0.8zM97.1 280.0h0.8v0.8h-0.8zM93.9 262.7h0.8v0.8h-0.8zM88.3 270.0h0.8v0.8h-0.8zM79.9 270.0h0.8v0.8h-0.8zM82.9 260.1h0.8v0.8h-0.8zM93.5 258.1h0.8v0.8h-0.8zM88.3 259.6h0.8v0.8h-0.8zM85.0 267.9h0.8v0.8h-0.8zM91.0 260.8h0.8v0.8h-0.8zM95.1 261.1h0.8v0.8h-0.8zM99.3 265.1h0.8v0.8h-0.8zM94.7 265.2h0.8v0.8h-0.8zM97.2 264.2h0.8v0.8h-0.8zM103.9 269.6h0.8v0.8h-0.8zM98.8 279.9h0.8v0.8h-0.8zM96.4 266.2h0.8v0.8h-0.8zM91.3 269.2h0.8v0.8h-0.8zM87.0 267.6h0.8v0.8h-0.8zM92.4 254.6h0.8v0.8h-0.8zM89.0 265.0h0.8v0.8h-0.8zM91.0 272.2h0.8v0.8h-0.8zM96.0 278.8h0.8v0.8h-0.8zM81.9 257.8h0.8v0.8h-0.8zM103.9 275.9h0.8v0.8h-0.8zM83.7 265.3h0.8v0.8h-0.8zM84.2 274.7h0.8v0.8h-0.8zM89.9 263.3h0.8v0.8h-0.8zM102.3 267.4h0.8v0.8h-0.8zM83.0 261.6h0.8v0.8h-0.8zM89.4 275.8h0.8v0.8h-0.8zM82.1 268.4h0.8v0.8h-0.8zM100.1 271.2h0.8v0.8h-0.8zM92.5 279.1h0.8v0.8h-0.8zM92.7 272.6h0.8v0.8h-0.8zM92.5 258.3h0.8v0.8h-0.8zM92.2 265.6h0.8v0.8h-0.8zM101.5 260.3h0.8v0.8h-0.8zM99.1 273.7h0.8v0.8h-0.8zM83.2 266.4h0.8v0.8h-0.8zM91.2 263.3h0.8v0.8h-0.8zM98.7 247.5h0.8v0.8h-0.8zM89.5 280.6h0.8v0.8h-0.8zM101.7 250.4h0.8v0.8h-0.8zM96.2 251.9h0.8v0.8h-0.8zM79.1 270.5h0.8v0.8h-0.8zM83.4 258.9h0.8v0.8h-0.8zM89.8 257.3h0.8v0.8h-0.8zM85.1 266.1h0.8v0.8h-0.8zM94.1 273.4h0.8v0.8h-0.8zM100.1 250.3h0.8v0.8h-0.8zM89.7 251.8h0.8v0.8h-0.8zM84.4 265.2h0.8v0.8h-0.8zM92.6 265.0h0.8v0.8h-0.8zM76.6 275.0h0.8v0.8h-0.8zM95.0 276.6h0.8v0.8h-0.8zM97.5 269.5h0.8v0.8h-0.8zM93.8 263.7h0.8v0.8h-0.8zM96.6 249.3h0.8v0.8h-0.8zM96.4 260.4h0.8v0.8h-0.8zM98.8 262.1h0.8v0.8h-0.8zM77.6 273.4h0.8v0.8h-0.8zM83.4 261.9h0.8v0.8h-0.8zM93.5 266.6h0.8v0.8h-0.8zM92.7 270.6h0.8v0.8h-0.8zM95.2 259.4h0.8v0.8h-0.8zM102.6 262.1h0.8v0.8h-0.8zM96.7 280.4h0.8v0.8h-0.8zM89.7 276.9h0.8v0.8h-0.8zM84.2 258.7h0.8v0.8h-0.8zM91.2 270.3h0.8v0.8h-0.8zM88.1 280.3h0.8v0.8h-0.8zM89.7 264.0h0.8v0.8h-0.8zM93.4 277.1h0.8v0.8h-0.8zM95.0 266.3h0.8v0.8h-0.8zM89.6 267.6h0.8v0.8h-0.8zM95.7 262.7h0.8v0.8h-0.8zM92.9 248.6h0.8v0.8h-0.8zM89.7 277.2h0.8v0.8h-0.8zM102.1 265.3h0.8v0.8h-0.8zM90.5 275.5h0.8v0.8h-0.8zM89.2 279.0h0.8v0.8h-0.8zM100.5 255.9h0.8v0.8h-0.8zM91.7 254.5h0.8v0.8h-0.8zM94.8 262.2h0.8v0.8h-0.8zM83.5 256.1h0.8v0.8h-0.8zM94.6 251.6h0.8v0.8h-0.8zM100.0 270.3h0.8v0.8h-0.8zM91.9 279.3h0.8v0.8h-0.8zM87.2 272.5h0.8v0.8h-0.8zM84.5 262.9h0.8v0.8h-0.8zM97.1 260.9h0.8v0.8h-0.8zM92.3 272.2h0.8v0.8h-0.8zM102.8 278.4h0.8v0.8h-0.8zM96.0 263.5h0.8v0.8h-0.8zM92.2 269.4h0.8v0.8h-0.8zM93.0 277.6h0.8v0.8h-0.8zM98.0 266.7h0.8v0.8h-0.8zM83.2 268.5h0.8v0.8h-0.8zM94.9 270.1h0.8v0.8h-0.8zM91.6 269.7h0.8v0.8h-0.8zM95.2 269.2h0.8v0.8h-0.8zM97.2 246.8h0.8v0.8h-0.8zM89.8 259.3h0.8v0.8h-0.8zM94.2 262.3h0.8v0.8h-0.8zM102.5 257.7h0.8v0.8h-0.8zM95.8 267.3h0.8v0.8h-0.8zM90.8 261.6h0.8v0.8h-0.8zM88.0 253.3h0.8v0.8h-0.8zM93.9 277.1h0.8v0.8h-0.8zM86.1 255.0h0.8v0.8h-0.8zM91.3 263.6h0.8v0.8h-0.8zM101.7 254.8h0.8v0.8h-0.8zM84.2 264.8h0.8v0.8h-0.8zM81.9 266.8h0.8v0.8h-0.8zM87.8 264.4h0.8v0.8h-0.8zM88.4 265.3h0.8v0.8h-0.8zM101.0 266.4h0.8v0.8h-0.8zM100.2 254.6h0.8v0.8h-0.8zM95.0 277.3h0.8v0.8h-0.8zM85.5 259.5h0.8v0.8h-0.8zM85.4 268.9h0.8v0.8h-0.8zM87.8 247.3h0.8v0.8h-0.8zM81.5 264.3h0.8v0.8h-0.8zM91.6 261.5h0.8v0.8h-0.8zM92.7 274.5h0.8v0.8h-0.8zM88.3 275.0h0.8v0.8h-0.8zM92.4 256.6h0.8v0.8h-0.8zM88.4 244.8h0.8v0.8h-0.8zM98.0 277.6h0.8v0.8h-0.8zM99.2 263.6h0.8v0.8h-0.8zM101.5 253.7h0.8v0.8h-0.8zM91.4 271.0h0.8v0.8h-0.8zM95.4 256.5h0.8v0.8h-0.8zM88.7 274.8h0.8v0.8h-0.8zM91.1 245.4h0.8v0.8h-0.8zM102.7 257.6h0.8v0.8h-0.8zM95.8 274.4h0.8v0.8h-0.8zM97.4 266.3h0.8v0.8h-0.8zM90.8 271.2h0.8v0.8h-0.8zM89.5 266.8h0.8v0.8h-0.8zM89.1 257.7h0.8v0.8h-0.8zM92.3 267.9h0.8v0.8h-0.8zM98.8 252.1h0.8v0.8h-0.8zM97.0 260.3h0.8v0.8h-0.8zM88.2 255.9h0.8v0.8h-0.8zM98.1 268.5h0.8v0.8h-0.8zM76.6 278.7h0.8v0.8h-0.8zM98.4 276.4h0.8v0.8h-0.8zM97.2 250.9h0.8v0.8h-0.8zM95.1 272.6h0.8v0.8h-0.8zM101.1 269.0h0.8v0.8h-0.8zM96.7 269.1h0.8v0.8h-0.8zM94.3 258.2h0.8v0.8h-0.8zM96.8 264.9h0.8v0.8h-0.8zM97.1 273.4h0.8v0.8h-0.8zM94.0 261.8h0.8v0.8h-0.8zM95.0 254.1h0.8v0.8h-0.8zM94.8 257.5h0.8v0.8h-0.8zM95.9 267.2h0.8v0.8h-0.8zM91.7 254.5h0.8v0.8h-0.8zM93.4 259.5h0.8v0.8h-0.8zM92.2 272.6h0.8v0.8h-0.8zM99.1 253.7h0.8v0.8h-0.8zM99.0 279.0h0.8v0.8h-0.8zM100.2 268.6h0.8v0.8h-0.8zM91.0 251.4h0.8v0.8h-0.8zM93.6 268.7h0.8v0.8h-0.8zM86.5 254.4h0.8v0.8h-0.8zM87.9 275.1h0.8v0.8h-0.8zM84.2 247.8h0.8v0.8h-0.8zM88.3 256.5h0.8v0.8h-0.8zM93.9 254.7h0.8v0.8h-0.8zM101.1 268.5h0.8v0.8h-0.8zM87.9 270.6h0.8v0.8h-0.8zM89.3 270.3h0.8v0.8h-0.8zM98.5 258.9h0.8v0.8h-0.8zM94.9 261.8h0.8v0.8h-0.8zM82.2 264.4h0.8v0.8h-0.8zM94.3 256.5h0.8v0.8h-0.8zM85.6 257.0h0.8v0.8h-0.8zM91.2 270.0h0.8v0.8h-0.8zM86.9 261.7h0.8v0.8h-0.8zM100.5 256.8h0.8v0.8h-0.8zM93.3 253.3h0.8v0.8h-0.8zM93.1 260.7h0.8v0.8h-0.8zM101.7 265.7h0.8v0.8h-0.8zM89.5 262.3h0.8v0.8h-0.8zM101.7 274.3h0.8v0.8h-0.8zM91.5 251.6h0.8v0.8h-0.8zM92.8 277.3h0.8v0.8h-0.8zM94.1 252.1h0.8v0.8h-0.8zM95.4 263.7h0.8v0.8h-0.8zM93.2 264.4h0.8v0.8h-0.8zM87.2 257.4h0.8v0.8h-0.8zM99.1 270.6h0.8v0.8h-0.8zM86.5 248.9h0.8v0.8h-0.8zM100.0 271.5h0.8v0.8h-0.8zM93.9 261.3h0.8v0.8h-0.8zM93.9 271.3h0.8v0.8h-0.8zM94.3 276.0h0.8v0.8h-0.8zM88.9 243.8h0.8v0.8h-0.8zM77.8 257.3h0.8v0.8h-0.8zM84.3 272.4h0.8v0.8h-0.8zM99.9 266.0h0.8v0.8h-0.8zM96.5 266.7h0.8v0.8h-0.8zM94.2 261.5h0.8v0.8h-0.8zM90.5 277.4h0.8v0.8h-0.8zM91.4 265.6h0.8v0.8h-0.8zM100.6 275.4h0.8v0.8h-0.8zM90.6 268.4h0.8v0.8h-0.8zM86.7 267.3h0.8v0.8h-0.8zM95.1 266.0h0.8v0.8h-0.8zM94.1 269.5h0.8v0.8h-0.8zM77.1 258.1h0.8v0.8h-0.8zM93.6 261.3h0.8v0.8h-0.8zM87.0 263.7h0.8v0.8h-0.8zM103.2 263.8h0.8v0.8h-0.8zM89.0 261.4h0.8v0.8h-0.8zM85.6 270.6h0.8v0.8h-0.8zM86.8 274.7h0.8v0.8h-0.8zM98.8 271.5h0.8v0.8h-0.8zM99.6 265.2h0.8v0.8h-0.8zM82.0 265.4h0.8v0.8h-0.8zM97.1 251.2h0.8v0.8h-0.8zM85.4 276.5h0.8v0.8h-0.8zM94.3 279.3h0.8v0.8h-0.8zM96.5 266.2h0.8v0.8h-0.8zM94.2 274.2h0.8v0.8h-0.8zM89.8 263.4h0.8v0.8h-0.8zM93.1 262.3h0.8v0.8h-0.8zM102.8 244.5h0.8v0.8h-0.8zM71.4 272.1h0.8v0.8h-0.8zM90.9 259.6h0.8v0.8h-0.8zM100.5 271.9h0.8v0.8h-0.8zM78.0 255.6h0.8v0.8h-0.8zM95.6 277.8h0.8v0.8h-0.8zM97.5 263.9h0.8v0.8h-0.8zM100.8 241.3h0.8v0.8h-0.8zM85.0 255.5h0.8v0.8h-0.8zM80.2 271.3h0.8v0.8h-0.8zM92.8 268.4h0.8v0.8h-0.8zM88.9 271.9h0.8v0.8h-0.8zM97.7 259.6h0.8v0.8h-0.8zM99.1 256.0h0.8v0.8h-0.8zM82.9 268.0h0.8v0.8h-0.8zM82.1 261.9h0.8v0.8h-0.8zM91.4 262.8h0.8v0.8h-0.8zM84.1 258.3h0.8v0.8h-0.8zM79.0 271.8h0.8v0.8h-0.8zM83.9 262.8h0.8v0.8h-0.8zM92.8 253.8h0.8v0.8h-0.8zM91.7 241.9h0.8v0.8h-0.8zM79.0 254.2h0.8v0.8h-0.8zM84.9 263.8h0.8v0.8h-0.8zM86.5 266.5h0.8v0.8h-0.8zM86.1 269.4h0.8v0.8h-0.8zM86.8 267.0h0.8v0.8h-0.8zM84.4 260.8h0.8v0.8h-0.8zM92.9 280.1h0.8v0.8h-0.8zM91.5 264.7h0.8v0.8h-0.8zM87.1 252.0h0.8v0.8h-0.8zM79.6 266.4h0.8v0.8h-0.8zM99.3 266.2h0.8v0.8h-0.8zM81.1 264.1h0.8v0.8h-0.8zM99.1 265.1h0.8v0.8h-0.8zM100.3 249.7h0.8v0.8h-0.8zM93.2 253.8h0.8v0.8h-0.8zM70.7 265.6h0.8v0.8h-0.8zM95.3 270.5h0.8v0.8h-0.8zM101.6 266.5h0.8v0.8h-0.8zM66.1 273.1h0.8v0.8h-0.8zM99.3 261.0h0.8v0.8h-0.8zM85.3 265.6h0.8v0.8h-0.8zM90.2 252.8h0.8v0.8h-0.8zM96.3 267.3h0.8v0.8h-0.8zM95.1 271.8h0.8v0.8h-0.8zM92.3 256.3h0.8v0.8h-0.8zM91.8 264.6h0.8v0.8h-0.8zM90.7 274.5h0.8v0.8h-0.8zM92.7 261.5h0.8v0.8h-0.8zM80.4 246.0h0.8v0.8h-0.8zM83.0 266.3h0.8v0.8h-0.8zM95.4 270.9h0.8v0.8h-0.8zM88.8 251.8h0.8v0.8h-0.8zM95.6 271.8h0.8v0.8h-0.8zM64.9 270.1h0.8v0.8h-0.8zM96.7 264.5h0.8v0.8h-0.8zM89.8 272.3h0.8v0.8h-0.8zM80.7 255.3h0.8v0.8h-0.8zM72.9 263.4h0.8v0.8h-0.8zM81.5 263.8h0.8v0.8h-0.8zM78.1 243.2h0.8v0.8h-0.8zM101.0 269.2h0.8v0.8h-0.8zM100.6 278.9h0.8v0.8h-0.8zM72.6 273.9h0.8v0.8h-0.8zM77.8 242.3h0.8v0.8h-0.8zM78.2 258.7h0.8v0.8h-0.8zM103.0 261.0h0.8v0.8h-0.8zM89.6 251.4h0.8v0.8h-0.8zM90.7 269.7h0.8v0.8h-0.8zM89.5 254.0h0.8v0.8h-0.8zM99.1 275.0h0.8v0.8h-0.8zM89.3 273.7h0.8v0.8h-0.8zM99.9 255.3h0.8v0.8h-0.8zM89.8 246.2h0.8v0.8h-0.8zM79.9 270.0h0.8v0.8h-0.8zM81.4 269.6h0.8v0.8h-0.8zM93.7 244.0h0.8v0.8h-0.8zM90.3 266.8h0.8v0.8h-0.8zM83.1 248.8h0.8v0.8h-0.8zM88.3 256.4h0.8v0.8h-0.8zM91.2 245.3h0.8v0.8h-0.8zM82.7 268.9h0.8v0.8h-0.8zM81.2 274.4h0.8v0.8h-0.8zM81.8 264.0h0.8v0.8h-0.8zM103.1 271.0h0.8v0.8h-0.8zM86.9 249.6h0.8v0.8h-0.8zM74.3 278.1h0.8v0.8h-0.8zM95.2 266.1h0.8v0.8h-0.8zM102.6 267.0h0.8v0.8h-0.8zM82.9 264.4h0.8v0.8h-0.8zM89.2 265.4h0.8v0.8h-0.8zM103.2 272.0h0.8v0.8h-0.8zM77.6 264.8h0.8v0.8h-0.8zM97.7 252.8h0.8v0.8h-0.8zM103.8 278.5h0.8v0.8h-0.8zM80.6 273.6h0.8v0.8h-0.8zM90.7 261.9h0.8v0.8h-0.8zM77.4 262.2h0.8v0.8h-0.8zM88.2 256.1h0.8v0.8h-0.8zM77.2 254.9h0.8v0.8h-0.8zM78.9 276.3h0.8v0.8h-0.8zM97.9 259.8h0.8v0.8h-0.8zM78.7 263.5h0.8v0.8h-0.8zM94.2 258.4h0.8v0.8h-0.8zM87.8 275.7h0.8v0.8h-0.8zM86.7 260.5h0.8v0.8h-0.8zM101.7 263.8h0.8v0.8h-0.8zM88.7 254.8h0.8v0.8h-0.8zM99.7 267.3h0.8v0.8h-0.8zM86.1 263.5h0.8v0.8h-0.8zM103.2 263.8h0.8v0.8h-0.8zM87.7 266.1h0.8v0.8h-0.8zM90.2 275.0h0.8v0.8h-0.8zM86.4 260.3h0.8v0.8h-0.8zM82.1 266.3h0.8v0.8h-0.8zM76.0 259.2h0.8v0.8h-0.8zM73.4 263.5h0.8v0.8h-0.8zM87.0 262.4h0.8v0.8h-0.8zM83.6 255.4h0.8v0.8h-0.8zM94.3 259.4h0.8v0.8h-0.8zM89.4 264.6h0.8v0.8h-0.8zM94.9 255.3h0.8v0.8h-0.8zM78.7 269.0h0.8v0.8h-0.8zM85.0 271.0h0.8v0.8h-0.8zM85.0 251.7h0.8v0.8h-0.8zM97.5 268.3h0.8v0.8h-0.8zM97.4 261.9h0.8v0.8h-0.8zM86.5 278.8h0.8v0.8h-0.8zM95.2 264.9h0.8v0.8h-0.8zM91.0 271.9h0.8v0.8h-0.8zM82.3 268.4h0.8v0.8h-0.8zM80.5 246.1h0.8v0.8h-0.8zM92.1 266.5h0.8v0.8h-0.8zM96.6 271.4h0.8v0.8h-0.8zM97.1 273.8h0.8v0.8h-0.8zM79.5 278.3h0.8v0.8h-0.8zM86.7 261.1h0.8v0.8h-0.8zM74.1 251.6h0.8v0.8h-0.8zM94.1 261.7h0.8v0.8h-0.8zM84.5 248.7h0.8v0.8h-0.8zM102.7 271.5h0.8v0.8h-0.8zM89.7 266.2h0.8v0.8h-0.8zM84.0 272.5h0.8v0.8h-0.8zM80.3 270.5h0.8v0.8h-0.8zM101.2 264.2h0.8v0.8h-0.8zM96.2 257.1h0.8v0.8h-0.8zM74.1 274.4h0.8v0.8h-0.8zM100.5 244.7h0.8v0.8h-0.8zM101.8 261.8h0.8v0.8h-0.8zM89.1 266.3h0.8v0.8h-0.8zM80.8 263.8h0.8v0.8h-0.8zM91.6 264.7h0.8v0.8h-0.8zM78.9 279.7h0.8v0.8h-0.8zM83.1 251.6h0.8v0.8h-0.8zM85.6 265.8h0.8v0.8h-0.8zM98.3 250.0h0.8v0.8h-0.8zM77.3 267.4h0.8v0.8h-0.8zM93.9 253.9h0.8v0.8h-0.8zM78.6 267.3h0.8v0.8h-0.8zM88.6 248.4h0.8v0.8h-0.8zM79.4 276.6h0.8v0.8h-0.8zM83.7 274.5h0.8v0.8h-0.8zM87.9 263.8h0.8v0.8h-0.8zM68.0 258.7h0.8v0.8h-0.8zM90.2 254.5h0.8v0.8h-0.8zM88.7 258.3h0.8v0.8h-0.8zM78.0 265.5h0.8v0.8h-0.8zM82.4 274.7h0.8v0.8h-0.8zM70.9 244.9h0.8v0.8h-0.8zM95.2 261.9h0.8v0.8h-0.8zM91.3 255.3h0.8v0.8h-0.8zM79.5 257.7h0.8v0.8h-0.8zM89.5 256.6h0.8v0.8h-0.8zM85.8 256.4h0.8v0.8h-0.8zM92.4 253.5h0.8v0.8h-0.8zM78.6 249.8h0.8v0.8h-0.8zM97.6 258.9h0.8v0.8h-0.8zM99.9 264.7h0.8v0.8h-0.8zM87.2 245.9h0.8v0.8h-0.8zM83.2 273.8h0.8v0.8h-0.8zM83.9 272.6h0.8v0.8h-0.8zM73.5 276.2h0.8v0.8h-0.8zM76.7 260.0h0.8v0.8h-0.8zM96.9 258.2h0.8v0.8h-0.8zM83.0 265.5h0.8v0.8h-0.8zM83.2 256.6h0.8v0.8h-0.8zM85.9 260.3h0.8v0.8h-0.8zM99.4 265.7h0.8v0.8h-0.8zM84.3 262.4h0.8v0.8h-0.8zM81.4 263.1h0.8v0.8h-0.8zM79.4 278.8h0.8v0.8h-0.8zM90.0 255.3h0.8v0.8h-0.8zM76.7 257.8h0.8v0.8h-0.8zM69.2 258.6h0.8v0.8h-0.8zM71.8 278.1h0.8v0.8h-0.8zM100.7 256.9h0.8v0.8h-0.8zM104.0 266.4h0.8v0.8h-0.8zM78.9 272.7h0.8v0.8h-0.8zM92.6 260.6h0.8v0.8h-0.8zM94.8 258.0h0.8v0.8h-0.8zM90.0 268.4h0.8v0.8h-0.8zM96.2 270.6h0.8v0.8h-0.8zM66.7 261.0h0.8v0.8h-0.8zM93.9 273.2h0.8v0.8h-0.8zM80.0 276.2h0.8v0.8h-0.8zM81.0 277.9h0.8v0.8h-0.8zM91.8 268.0h0.8v0.8h-0.8zM75.9 257.4h0.8v0.8h-0.8zM92.1 268.0h0.8v0.8h-0.8zM88.2 262.1h0.8v0.8h-0.8zM103.7 258.3h0.8v0.8h-0.8zM95.5 274.6h0.8v0.8h-0.8zM94.0 267.0h0.8v0.8h-0.8zM79.7 259.2h0.8v0.8h-0.8zM83.5 255.3h0.8v0.8h-0.8zM74.8 277.5h0.8v0.8h-0.8zM86.8 275.7h0.8v0.8h-0.8zM78.9 241.1h0.8v0.8h-0.8zM84.0 274.8h0.8v0.8h-0.8zM84.4 269.7h0.8v0.8h-0.8zM79.2 280.2h0.8v0.8h-0.8zM94.3 276.6h0.8v0.8h-0.8zM87.2 279.0h0.8v0.8h-0.8zM90.7 260.4h0.8v0.8h-0.8zM83.6 266.1h0.8v0.8h-0.8zM80.9 252.9h0.8v0.8h-0.8zM91.3 273.0h0.8v0.8h-0.8zM87.1 274.4h0.8v0.8h-0.8zM81.3 272.7h0.8v0.8h-0.8zM93.4 276.6h0.8v0.8h-0.8zM94.2 264.1h0.8v0.8h-0.8zM84.8 269.8h0.8v0.8h-0.8zM94.8 258.1h0.8v0.8h-0.8zM86.7 265.8h0.8v0.8h-0.8zM85.6 253.8h0.8v0.8h-0.8zM95.0 249.6h0.8v0.8h-0.8zM89.7 257.3h0.8v0.8h-0.8zM89.9 279.7h0.8v0.8h-0.8zM80.5 265.9h0.8v0.8h-0.8zM101.2 271.7h0.8v0.8h-0.8zM90.7 260.3h0.8v0.8h-0.8zM102.4 274.8h0.8v0.8h-0.8zM72.6 269.0h0.8v0.8h-0.8zM96.1 258.9h0.8v0.8h-0.8zM77.1 262.3h0.8v0.8h-0.8zM72.4 271.4h0.8v0.8h-0.8zM84.9 246.9h0.8v0.8h-0.8zM89.8 277.9h0.8v0.8h-0.8zM77.3 261.7h0.8v0.8h-0.8zM74.6 259.5h0.8v0.8h-0.8zM89.1 250.9h0.8v0.8h-0.8zM92.9 263.7h0.8v0.8h-0.8zM87.0 270.9h0.8v0.8h-0.8zM85.4 259.9h0.8v0.8h-0.8zM95.3 266.5h0.8v0.8h-0.8zM95.7 277.1h0.8v0.8h-0.8zM79.3 268.7h0.8v0.8h-0.8zM102.2 266.5h0.8v0.8h-0.8zM89.9 270.1h0.8v0.8h-0.8zM95.4 267.6h0.8v0.8h-0.8zM85.1 269.2h0.8v0.8h-0.8zM84.2 266.9h0.8v0.8h-0.8zM88.1 244.1h0.8v0.8h-0.8zM88.3 269.1h0.8v0.8h-0.8zM94.1 264.5h0.8v0.8h-0.8zM80.1 251.2h0.8v0.8h-0.8zM69.1 267.9h0.8v0.8h-0.8zM99.6 278.9h0.8v0.8h-0.8zM79.0 270.4h0.8v0.8h-0.8zM95.7 257.1h0.8v0.8h-0.8zM89.9 268.1h0.8v0.8h-0.8zM91.6 271.0h0.8v0.8h-0.8zM97.8 261.6h0.8v0.8h-0.8zM86.1 255.1h0.8v0.8h-0.8zM97.5 271.7h0.8v0.8h-0.8zM66.4 279.0h0.8v0.8h-0.8zM89.6 268.7h0.8v0.8h-0.8zM93.2 263.0h0.8v0.8h-0.8zM93.2 251.8h0.8v0.8h-0.8zM64.1 278.5h0.8v0.8h-0.8zM67.6 256.5h0.8v0.8h-0.8zM98.8 261.2h0.8v0.8h-0.8zM84.2 249.7h0.8v0.8h-0.8zM88.8 263.6h0.8v0.8h-0.8zM83.6 249.0h0.8v0.8h-0.8zM91.6 269.9h0.8v0.8h-0.8zM101.4 270.9h0.8v0.8h-0.8zM94.3 275.6h0.8v0.8h-0.8zM74.5 252.5h0.8v0.8h-0.8zM96.9 259.7h0.8v0.8h-0.8zM79.2 250.4h0.8v0.8h-0.8zM95.3 251.9h0.8v0.8h-0.8zM92.2 260.6h0.8v0.8h-0.8zM104.0 260.3h0.8v0.8h-0.8zM95.0 269.1h0.8v0.8h-0.8zM84.6 258.5h0.8v0.8h-0.8zM97.5 262.2h0.8v0.8h-0.8zM78.2 266.6h0.8v0.8h-0.8zM97.9 262.2h0.8v0.8h-0.8zM102.5 254.9h0.8v0.8h-0.8zM68.1 254.8h0.8v0.8h-0.8zM102.4 253.8h0.8v0.8h-0.8zM87.1 264.6h0.8v0.8h-0.8zM92.7 280.5h0.8v0.8h-0.8zM100.7 275.6h0.8v0.8h-0.8zM84.3 274.0h0.8v0.8h-0.8zM98.5 247.4h0.8v0.8h-0.8zM89.8 254.1h0.8v0.8h-0.8zM102.2 259.1h0.8v0.8h-0.8zM100.9 275.8h0.8v0.8h-0.8zM87.7 259.7h0.8v0.8h-0.8zM100.6 243.4h0.8v0.8h-0.8zM88.6 261.4h0.8v0.8h-0.8zM79.1 277.3h0.8v0.8h-0.8zM86.0 270.2h0.8v0.8h-0.8zM84.7 267.1h0.8v0.8h-0.8zM85.5 266.3h0.8v0.8h-0.8zM89.0 258.3h0.8v0.8h-0.8zM94.4 263.5h0.8v0.8h-0.8zM80.3 254.4h0.8v0.8h-0.8zM94.4 279.5h0.8v0.8h-0.8zM76.8 261.1h0.8v0.8h-0.8zM94.5 276.5h0.8v0.8h-0.8zM97.1 253.0h0.8v0.8h-0.8zM90.4 275.0h0.8v0.8h-0.8zM92.4 263.1h0.8v0.8h-0.8zM78.1 267.2h0.8v0.8h-0.8zM89.3 265.8h0.8v0.8h-0.8zM87.2 276.6h0.8v0.8h-0.8zM93.9 266.9h0.8v0.8h-0.8zM98.0 249.9h0.8v0.8h-0.8zM92.9 274.2h0.8v0.8h-0.8zM97.8 269.8h0.8v0.8h-0.8zM73.4 263.2h0.8v0.8h-0.8zM70.6 264.7h0.8v0.8h-0.8zM102.9 265.4h0.8v0.8h-0.8zM95.2 267.0h0.8v0.8h-0.8zM87.5 260.6h0.8v0.8h-0.8zM92.7 263.4h0.8v0.8h-0.8zM77.3 260.7h0.8v0.8h-0.8zM96.7 271.9h0.8v0.8h-0.8zM78.9 278.1h0.8v0.8h-0.8zM93.1 249.7h0.8v0.8h-0.8zM94.7 276.1h0.8v0.8h-0.8zM95.3 262.2h0.8v0.8h-0.8zM81.9 277.3h0.8v0.8h-0.8zM92.3 265.4h0.8v0.8h-0.8zM86.0 254.6h0.8v0.8h-0.8zM71.2 261.9h0.8v0.8h-0.8zM101.1 273.5h0.8v0.8h-0.8zM87.7 254.9h0.8v0.8h-0.8zM99.8 280.1h0.8v0.8h-0.8zM86.1 252.6h0.8v0.8h-0.8zM83.3 247.8h0.8v0.8h-0.8zM66.7 251.6h0.8v0.8h-0.8zM103.0 253.3h0.8v0.8h-0.8zM82.4 273.9h0.8v0.8h-0.8zM74.6 255.6h0.8v0.8h-0.8zM71.5 276.8h0.8v0.8h-0.8zM92.5 278.0h0.8v0.8h-0.8zM93.7 270.6h0.8v0.8h-0.8zM89.2 268.7h0.8v0.8h-0.8zM77.4 259.3h0.8v0.8h-0.8zM75.8 276.9h0.8v0.8h-0.8zM75.5 261.0h0.8v0.8h-0.8zM97.7 270.3h0.8v0.8h-0.8zM95.9 266.3h0.8v0.8h-0.8zM93.2 260.9h0.8v0.8h-0.8zM82.0 259.7h0.8v0.8h-0.8zM80.5 246.7h0.8v0.8h-0.8zM102.4 241.7h0.8v0.8h-0.8zM99.9 263.2h0.8v0.8h-0.8zM84.2 276.8h0.8v0.8h-0.8zM92.6 261.5h0.8v0.8h-0.8zM101.5 255.6h0.8v0.8h-0.8zM81.5 259.6h0.8v0.8h-0.8zM82.5 272.8h0.8v0.8h-0.8zM87.7 254.4h0.8v0.8h-0.8zM85.4 244.6h0.8v0.8h-0.8zM91.7 266.6h0.8v0.8h-0.8zM96.1 263.0h0.8v0.8h-0.8zM94.0 255.7h0.8v0.8h-0.8zM90.2 267.1h0.8v0.8h-0.8zM77.8 271.7h0.8v0.8h-0.8zM91.4 266.0h0.8v0.8h-0.8zM90.0 257.4h0.8v0.8h-0.8zM81.5 271.7h0.8v0.8h-0.8zM87.9 257.2h0.8v0.8h-0.8zM82.7 275.3h0.8v0.8h-0.8zM90.9 276.6h0.8v0.8h-0.8zM89.8 253.1h0.8v0.8h-0.8zM98.7 268.8h0.8v0.8h-0.8zM83.4 262.2h0.8v0.8h-0.8zM80.3 274.2h0.8v0.8h-0.8zM85.8 270.5h0.8v0.8h-0.8zM92.6 262.8h0.8v0.8h-0.8zM93.7 262.9h0.8v0.8h-0.8zM78.2 261.1h0.8v0.8h-0.8zM78.2 273.4h0.8v0.8h-0.8zM96.5 259.3h0.8v0.8h-0.8zM96.2 268.1h0.8v0.8h-0.8zM99.8 255.7h0.8v0.8h-0.8zM90.3 255.1h0.8v0.8h-0.8zM83.2 279.9h0.8v0.8h-0.8zM69.9 255.9h0.8v0.8h-0.8zM94.9 273.7h0.8v0.8h-0.8zM82.1 244.2h0.8v0.8h-0.8zM72.8 269.3h0.8v0.8h-0.8zM101.0 275.0h0.8v0.8h-0.8zM82.7 279.7h0.8v0.8h-0.8zM88.1 272.0h0.8v0.8h-0.8zM84.8 243.0h0.8v0.8h-0.8zM86.8 267.5h0.8v0.8h-0.8zM92.8 258.0h0.8v0.8h-0.8zM87.7 253.6h0.8v0.8h-0.8zM87.7 266.4h0.8v0.8h-0.8zM70.0 270.9h0.8v0.8h-0.8zM94.3 253.3h0.8v0.8h-0.8zM90.7 265.4h0.8v0.8h-0.8zM80.0 273.1h0.8v0.8h-0.8zM83.0 261.5h0.8v0.8h-0.8zM81.8 273.4h0.8v0.8h-0.8zM88.5 271.7h0.8v0.8h-0.8zM83.0 252.7h0.8v0.8h-0.8zM91.4 273.9h0.8v0.8h-0.8zM82.4 274.7h0.8v0.8h-0.8zM93.8 262.7h0.8v0.8h-0.8zM77.5 258.9h0.8v0.8h-0.8zM89.6 275.3h0.8v0.8h-0.8zM70.4 272.9h0.8v0.8h-0.8zM91.9 253.7h0.8v0.8h-0.8zM98.5 269.6h0.8v0.8h-0.8zM94.3 255.3h0.8v0.8h-0.8zM79.0 275.0h0.8v0.8h-0.8zM104.0 269.3h0.8v0.8h-0.8zM88.1 260.8h0.8v0.8h-0.8zM72.9 275.8h0.8v0.8h-0.8zM89.0 278.4h0.8v0.8h-0.8zM82.8 276.5h0.8v0.8h-0.8zM82.9 271.6h0.8v0.8h-0.8zM103.7 258.1h0.8v0.8h-0.8zM99.0 265.4h0.8v0.8h-0.8zM80.7 267.6h0.8v0.8h-0.8zM96.4 258.0h0.8v0.8h-0.8zM87.3 259.6h0.8v0.8h-0.8zM82.4 263.3h0.8v0.8h-0.8zM98.2 260.3h0.8v0.8h-0.8zM102.4 261.5h0.8v0.8h-0.8zM83.1 276.7h0.8v0.8h-0.8zM104.0 258.7h0.8v0.8h-0.8zM95.8 253.4h0.8v0.8h-0.8zM86.0 261.6h0.8v0.8h-0.8zM97.0 252.4h0.8v0.8h-0.8zM84.9 258.3h0.8v0.8h-0.8zM91.0 252.7h0.8v0.8h-0.8zM92.1 249.8h0.8v0.8h-0.8zM98.3 251.8h0.8v0.8h-0.8zM102.4 256.8h0.8v0.8h-0.8zM79.2 270.4h0.8v0.8h-0.8zM80.7 258.9h0.8v0.8h-0.8zM90.7 263.4h0.8v0.8h-0.8zM83.8 270.2h0.8v0.8h-0.8zM82.7 259.3h0.8v0.8h-0.8zM73.3 251.5h0.8v0.8h-0.8zM85.8 268.3h0.8v0.8h-0.8zM87.7 266.4h0.8v0.8h-0.8zM90.3 265.7h0.8v0.8h-0.8zM92.5 263.5h0.8v0.8h-0.8zM85.1 276.2h0.8v0.8h-0.8zM83.6 262.2h0.8v0.8h-0.8zM81.3 253.6h0.8v0.8h-0.8zM94.4 265.1h0.8v0.8h-0.8zM88.7 270.2h0.8v0.8h-0.8zM88.3 272.5h0.8v0.8h-0.8zM89.4 246.3h0.8v0.8h-0.8zM90.6 263.2h0.8v0.8h-0.8zM73.3 254.9h0.8v0.8h-0.8zM80.8 254.9h0.8v0.8h-0.8zM73.4 274.3h0.8v0.8h-0.8zM80.9 263.4h0.8v0.8h-0.8zM78.7 265.8h0.8v0.8h-0.8zM95.7 280.0h0.8v0.8h-0.8zM97.4 252.3h0.8v0.8h-0.8zM100.2 266.2h0.8v0.8h-0.8zM90.5 260.0h0.8v0.8h-0.8zM74.8 265.0h0.8v0.8h-0.8zM81.2 263.5h0.8v0.8h-0.8zM80.2 257.9h0.8v0.8h-0.8zM89.2 260.5h0.8v0.8h-0.8zM78.8 276.8h0.8v0.8h-0.8zM86.7 255.3h0.8v0.8h-0.8zM100.2 261.8h0.8v0.8h-0.8zM74.5 268.9h0.8v0.8h-0.8zM93.2 269.8h0.8v0.8h-0.8zM83.7 261.3h0.8v0.8h-0.8zM83.8 268.1h0.8v0.8h-0.8zM87.4 248.6h0.8v0.8h-0.8zM87.9 260.3h0.8v0.8h-0.8zM102.6 269.6h0.8v0.8h-0.8zM103.8 273.7h0.8v0.8h-0.8zM67.8 258.4h0.8v0.8h-0.8zM96.1 251.6h0.8v0.8h-0.8zM95.6 254.5h0.8v0.8h-0.8zM89.1 269.1h0.8v0.8h-0.8zM85.7 250.6h0.8v0.8h-0.8zM81.9 256.2h0.8v0.8h-0.8zM68.5 272.1h0.8v0.8h-0.8zM86.1 269.5h0.8v0.8h-0.8zM100.7 264.5h0.8v0.8h-0.8zM96.5 275.6h0.8v0.8h-0.8zM80.1 266.1h0.8v0.8h-0.8zM91.7 257.7h0.8v0.8h-0.8zM96.8 264.2h0.8v0.8h-0.8zM88.5 276.2h0.8v0.8h-0.8zM82.6 267.0h0.8v0.8h-0.8zM100.6 243.1h0.8v0.8h-0.8zM95.2 262.7h0.8v0.8h-0.8zM100.6 267.3h0.8v0.8h-0.8zM89.2 252.3h0.8v0.8h-0.8zM89.3 276.1h0.8v0.8h-0.8zM99.2 269.7h0.8v0.8h-0.8zM90.1 256.3h0.8v0.8h-0.8zM94.9 277.5h0.8v0.8h-0.8zM101.4 256.3h0.8v0.8h-0.8zM98.2 272.6h0.8v0.8h-0.8zM80.6 271.1h0.8v0.8h-0.8zM96.0 259.4h0.8v0.8h-0.8zM63.4 274.8h0.8v0.8h-0.8zM85.7 277.8h0.8v0.8h-0.8zM84.6 257.9h0.8v0.8h-0.8zM82.8 257.5h0.8v0.8h-0.8zM96.2 253.8h0.8v0.8h-0.8zM88.1 251.9h0.8v0.8h-0.8zM86.8 255.6h0.8v0.8h-0.8zM95.7 273.5h0.8v0.8h-0.8zM89.2 267.1h0.8v0.8h-0.8zM91.5 252.8h0.8v0.8h-0.8zM74.5 267.5h0.8v0.8h-0.8zM94.7 267.7h0.8v0.8h-0.8zM89.4 262.5h0.8v0.8h-0.8zM98.1 256.3h0.8v0.8h-0.8zM84.1 274.8h0.8v0.8h-0.8zM91.4 253.9h0.8v0.8h-0.8zM73.6 264.0h0.8v0.8h-0.8zM76.8 266.0h0.8v0.8h-0.8zM69.5 277.3h0.8v0.8h-0.8zM102.9 264.4h0.8v0.8h-0.8zM85.6 263.7h0.8v0.8h-0.8zM68.9 255.8h0.8v0.8h-0.8zM87.3 279.3h0.8v0.8h-0.8zM90.4 262.8h0.8v0.8h-0.8zM96.5 254.7h0.8v0.8h-0.8zM90.3 274.5h0.8v0.8h-0.8zM74.5 259.7h0.8v0.8h-0.8zM91.7 269.1h0.8v0.8h-0.8zM91.7 280.3h0.8v0.8h-0.8zM76.1 275.7h0.8v0.8h-0.8zM88.6 255.5h0.8v0.8h-0.8zM85.3 262.4h0.8v0.8h-0.8zM78.8 255.9h0.8v0.8h-0.8zM68.4 258.5h0.8v0.8h-0.8zM86.6 259.1h0.8v0.8h-0.8zM88.5 251.1h0.8v0.8h-0.8zM78.9 276.7h0.8v0.8h-0.8zM91.0 249.7h0.8v0.8h-0.8zM99.0 259.5h0.8v0.8h-0.8zM92.7 272.8h0.8v0.8h-0.8zM84.4 265.9h0.8v0.8h-0.8zM103.7 267.2h0.8v0.8h-0.8zM76.8 274.5h0.8v0.8h-0.8zM89.4 277.5h0.8v0.8h-0.8zM90.4 267.3h0.8v0.8h-0.8zM96.3 257.9h0.8v0.8h-0.8zM81.5 275.0h0.8v0.8h-0.8zM96.5 273.9h0.8v0.8h-0.8zM103.2 251.7h0.8v0.8h-0.8zM99.2 244.3h0.8v0.8h-0.8zM90.4 268.9h0.8v0.8h-0.8zM99.9 276.6h0.8v0.8h-0.8zM80.8 262.6h0.8v0.8h-0.8zM88.3 258.3h0.8v0.8h-0.8zM81.9 258.7h0.8v0.8h-0.8zM101.1 279.4h0.8v0.8h-0.8zM90.8 254.3h0.8v0.8h-0.8zM83.5 267.6h0.8v0.8h-0.8zM99.9 278.0h0.8v0.8h-0.8zM81.1 275.3h0.8v0.8h-0.8zM84.7 271.6h0.8v0.8h-0.8zM98.8 280.7h0.8v0.8h-0.8zM84.7 268.0h0.8v0.8h-0.8zM94.0 261.2h0.8v0.8h-0.8zM90.8 271.6h0.8v0.8h-0.8zM73.9 258.8h0.8v0.8h-0.8zM95.1 255.9h0.8v0.8h-0.8zM85.9 267.3h0.8v0.8h-0.8zM101.3 245.0h0.8v0.8h-0.8zM96.7 274.0h0.8v0.8h-0.8zM94.3 257.7h0.8v0.8h-0.8zM90.1 267.6h0.8v0.8h-0.8zM77.6 262.7h0.8v0.8h-0.8zM91.8 273.4h0.8v0.8h-0.8zM85.9 260.7h0.8v0.8h-0.8zM94.6 244.7h0.8v0.8h-0.8zM85.4 268.2h0.8v0.8h-0.8zM82.4 261.7h0.8v0.8h-0.8zM102.4 275.6h0.8v0.8h-0.8zM82.6 262.5h0.8v0.8h-0.8zM98.1 260.6h0.8v0.8h-0.8zM83.9 261.7h0.8v0.8h-0.8zM77.1 268.5h0.8v0.8h-0.8zM85.4 279.0h0.8v0.8h-0.8zM87.1 264.7h0.8v0.8h-0.8zM97.6 272.9h0.8v0.8h-0.8zM97.5 276.1h0.8v0.8h-0.8zM78.3 257.4h0.8v0.8h-0.8zM100.3 256.0h0.8v0.8h-0.8zM90.7 260.3h0.8v0.8h-0.8zM95.9 253.8h0.8v0.8h-0.8zM84.6 268.0h0.8v0.8h-0.8zM74.3 267.5h0.8v0.8h-0.8zM95.8 244.1h0.8v0.8h-0.8zM66.1 262.6h0.8v0.8h-0.8zM88.7 267.0h0.8v0.8h-0.8zM78.8 271.4h0.8v0.8h-0.8zM91.0 257.9h0.8v0.8h-0.8zM97.7 254.6h0.8v0.8h-0.8zM98.0 275.1h0.8v0.8h-0.8zM91.0 258.1h0.8v0.8h-0.8zM93.3 264.5h0.8v0.8h-0.8zM98.0 276.8h0.8v0.8h-0.8zM84.0 252.7h0.8v0.8h-0.8zM95.9 262.2h0.8v0.8h-0.8zM101.9 269.2h0.8v0.8h-0.8zM84.0 274.0h0.8v0.8h-0.8zM73.6 278.7h0.8v0.8h-0.8zM82.5 262.0h0.8v0.8h-0.8zM96.5 261.3h0.8v0.8h-0.8zM88.0 272.0h0.8v0.8h-0.8zM85.3 250.1h0.8v0.8h-0.8zM86.7 269.4h0.8v0.8h-0.8zM82.5 260.1h0.8v0.8h-0.8zM76.1 260.7h0.8v0.8h-0.8zM93.1 265.5h0.8v0.8h-0.8zM98.4 246.3h0.8v0.8h-0.8zM96.1 269.4h0.8v0.8h-0.8zM73.1 274.4h0.8v0.8h-0.8zM68.6 248.8h0.8v0.8h-0.8zM86.1 242.6h0.8v0.8h-0.8zM96.6 260.7h0.8v0.8h-0.8zM93.0 242.3h0.8v0.8h-0.8zM92.3 275.7h0.8v0.8h-0.8zM91.7 251.9h0.8v0.8h-0.8zM99.3 260.0h0.8v0.8h-0.8zM84.3 267.5h0.8v0.8h-0.8zM94.2 252.6h0.8v0.8h-0.8zM89.8 266.0h0.8v0.8h-0.8zM103.8 278.8h0.8v0.8h-0.8zM99.9 261.1h0.8v0.8h-0.8zM96.4 251.2h0.8v0.8h-0.8zM88.9 270.4h0.8v0.8h-0.8zM93.2 273.0h0.8v0.8h-0.8zM94.6 278.3h0.8v0.8h-0.8zM87.2 272.2h0.8v0.8h-0.8zM96.9 258.5h0.8v0.8h-0.8zM91.4 265.5h0.8v0.8h-0.8zM87.7 264.7h0.8v0.8h-0.8zM87.9 264.7h0.8v0.8h-0.8zM76.4 268.3h0.8v0.8h-0.8zM83.2 263.7h0.8v0.8h-0.8zM80.0 262.6h0.8v0.8h-0.8zM91.4 259.3h0.8v0.8h-0.8zM91.6 276.9h0.8v0.8h-0.8zM89.5 266.3h0.8v0.8h-0.8zM74.4 279.4h0.8v0.8h-0.8zM100.0 272.7h0.8v0.8h-0.8zM74.5 253.7h0.8v0.8h-0.8zM83.6 278.2h0.8v0.8h-0.8zM82.4 278.4h0.8v0.8h-0.8zM88.1 249.8h0.8v0.8h-0.8zM85.5 256.3h0.8v0.8h-0.8zM88.0 255.9h0.8v0.8h-0.8zM90.5 270.3h0.8v0.8h-0.8zM84.2 263.4h0.8v0.8h-0.8zM88.3 274.1h0.8v0.8h-0.8zM82.8 273.4h0.8v0.8h-0.8zM102.1 263.5h0.8v0.8h-0.8zM80.4 262.3h0.8v0.8h-0.8zM72.5 259.8h0.8v0.8h-0.8zM78.1 263.7h0.8v0.8h-0.8zM86.2 270.9h0.8v0.8h-0.8zM91.0 269.9h0.8v0.8h-0.8zM89.4 268.5h0.8v0.8h-0.8zM78.7 272.4h0.8v0.8h-0.8zM102.6 277.1h0.8v0.8h-0.8zM76.7 269.9h0.8v0.8h-0.8zM73.9 273.4h0.8v0.8h-0.8zM87.8 260.7h0.8v0.8h-0.8zM82.5 263.0h0.8v0.8h-0.8zM89.8 255.4h0.8v0.8h-0.8zM90.4 268.2h0.8v0.8h-0.8zM95.0 265.0h0.8v0.8h-0.8zM99.8 268.9h0.8v0.8h-0.8zM76.2 272.0h0.8v0.8h-0.8zM96.0 269.2h0.8v0.8h-0.8zM97.9 265.8h0.8v0.8h-0.8zM74.6 250.2h0.8v0.8h-0.8zM96.4 270.3h0.8v0.8h-0.8zM100.2 256.6h0.8v0.8h-0.8zM86.9 267.9h0.8v0.8h-0.8zM96.6 268.0h0.8v0.8h-0.8zM87.4 263.1h0.8v0.8h-0.8zM71.5 265.2h0.8v0.8h-0.8zM98.2 265.6h0.8v0.8h-0.8zM78.3 273.0h0.8v0.8h-0.8zM88.7 249.7h0.8v0.8h-0.8zM81.7 269.3h0.8v0.8h-0.8zM82.2 257.2h0.8v0.8h-0.8zM101.1 260.0h0.8v0.8h-0.8zM77.3 257.5h0.8v0.8h-0.8zM78.4 266.8h0.8v0.8h-0.8zM83.0 253.3h0.8v0.8h-0.8zM98.5 265.4h0.8v0.8h-0.8zM95.0 253.2h0.8v0.8h-0.8zM87.9 271.7h0.8v0.8h-0.8zM80.9 271.1h0.8v0.8h-0.8zM83.0 268.8h0.8v0.8h-0.8zM77.0 267.2h0.8v0.8h-0.8zM101.8 274.7h0.8v0.8h-0.8zM88.4 258.8h0.8v0.8h-0.8zM90.0 268.4h0.8v0.8h-0.8zM75.2 268.3h0.8v0.8h-0.8zM78.7 272.9h0.8v0.8h-0.8zM87.6 263.6h0.8v0.8h-0.8zM101.2 269.6h0.8v0.8h-0.8zM103.9 258.0h0.8v0.8h-0.8zM82.7 268.2h0.8v0.8h-0.8zM99.7 276.7h0.8v0.8h-0.8zM90.9 255.1h0.8v0.8h-0.8zM96.9 269.8h0.8v0.8h-0.8zM85.4 248.1h0.8v0.8h-0.8zM73.1 278.4h0.8v0.8h-0.8zM88.3 267.0h0.8v0.8h-0.8zM88.8 261.2h0.8v0.8h-0.8zM87.7 275.7h0.8v0.8h-0.8zM87.8 265.8h0.8v0.8h-0.8zM100.9 259.4h0.8v0.8h-0.8zM89.8 268.1h0.8v0.8h-0.8zM69.0 254.9h0.8v0.8h-0.8zM86.1 245.1h0.8v0.8h-0.8zM100.4 254.4h0.8v0.8h-0.8zM98.1 268.7h0.8v0.8h-0.8zM81.0 260.1h0.8v0.8h-0.8zM90.8 269.3h0.8v0.8h-0.8zM99.8 253.9h0.8v0.8h-0.8zM86.6 276.8h0.8v0.8h-0.8zM93.9 261.3h0.8v0.8h-0.8zM85.0 260.0h0.8v0.8h-0.8zM81.2 273.9h0.8v0.8h-0.8zM86.0 274.3h0.8v0.8h-0.8zM99.7 258.9h0.8v0.8h-0.8zM78.3 246.1h0.8v0.8h-0.8zM69.7 275.4h0.8v0.8h-0.8zM92.4 257.3h0.8v0.8h-0.8zM80.3 277.9h0.8v0.8h-0.8zM94.0 272.4h0.8v0.8h-0.8zM91.6 270.2h0.8v0.8h-0.8zM73.4 265.1h0.8v0.8h-0.8zM85.8 255.0h0.8v0.8h-0.8zM84.8 264.8h0.8v0.8h-0.8zM90.5 275.1h0.8v0.8h-0.8zM80.9 277.6h0.8v0.8h-0.8zM90.4 273.2h0.8v0.8h-0.8zM102.3 252.5h0.8v0.8h-0.8zM71.1 267.0h0.8v0.8h-0.8zM92.5 258.4h0.8v0.8h-0.8zM76.7 267.0h0.8v0.8h-0.8zM97.5 266.0h0.8v0.8h-0.8zM89.2 250.0h0.8v0.8h-0.8zM77.7 270.0h0.8v0.8h-0.8zM80.9 263.8h0.8v0.8h-0.8zM74.3 272.7h0.8v0.8h-0.8zM97.2 251.3h0.8v0.8h-0.8zM100.3 261.4h0.8v0.8h-0.8zM92.8 248.6h0.8v0.8h-0.8zM100.8 273.6h0.8v0.8h-0.8zM103.7 274.6h0.8v0.8h-0.8zM84.9 274.2h0.8v0.8h-0.8zM84.7 258.7h0.8v0.8h-0.8zM89.6 258.8h0.8v0.8h-0.8zM92.1 248.5h0.8v0.8h-0.8zM87.9 247.5h0.8v0.8h-0.8zM70.7 255.6h0.8v0.8h-0.8zM83.4 274.0h0.8v0.8h-0.8zM93.8 242.9h0.8v0.8h-0.8zM68.7 275.5h0.8v0.8h-0.8zM77.6 270.5h0.8v0.8h-0.8zM82.4 266.4h0.8v0.8h-0.8zM87.2 246.4h0.8v0.8h-0.8zM77.3 258.8h0.8v0.8h-0.8zM77.5 249.9h0.8v0.8h-0.8zM102.5 261.0h0.8v0.8h-0.8zM76.9 256.3h0.8v0.8h-0.8zM81.3 258.4h0.8v0.8h-0.8zM89.5 277.2h0.8v0.8h-0.8zM74.5 257.1h0.8v0.8h-0.8zM78.8 269.5h0.8v0.8h-0.8zM83.5 269.2h0.8v0.8h-0.8zM74.4 272.7h0.8v0.8h-0.8zM99.8 263.1h0.8v0.8h-0.8zM83.2 250.9h0.8v0.8h-0.8zM78.0 269.1h0.8v0.8h-0.8zM95.1 275.1h0.8v0.8h-0.8zM81.8 259.6h0.8v0.8h-0.8zM77.5 265.1h0.8v0.8h-0.8zM75.7 257.4h0.8v0.8h-0.8zM73.7 245.9h0.8v0.8h-0.8zM74.7 270.7h0.8v0.8h-0.8zM94.5 267.9h0.8v0.8h-0.8zM67.7 248.9h0.8v0.8h-0.8zM97.5 258.1h0.8v0.8h-0.8zM65.7 259.6h0.8v0.8h-0.8zM79.6 274.1h0.8v0.8h-0.8zM83.2 250.4h0.8v0.8h-0.8zM69.4 270.0h0.8v0.8h-0.8zM97.8 273.0h0.8v0.8h-0.8zM83.7 271.0h0.8v0.8h-0.8zM64.5 261.1h0.8v0.8h-0.8zM69.8 261.7h0.8v0.8h-0.8zM78.9 253.0h0.8v0.8h-0.8zM95.7 263.0h0.8v0.8h-0.8zM75.6 272.2h0.8v0.8h-0.8zM80.2 271.5h0.8v0.8h-0.8zM71.7 258.7h0.8v0.8h-0.8zM101.4 278.4h0.8v0.8h-0.8zM82.7 257.1h0.8v0.8h-0.8zM84.7 260.2h0.8v0.8h-0.8zM88.1 255.6h0.8v0.8h-0.8zM82.2 252.6h0.8v0.8h-0.8zM74.2 266.3h0.8v0.8h-0.8zM87.7 274.1h0.8v0.8h-0.8zM84.7 271.7h0.8v0.8h-0.8zM95.6 255.7h0.8v0.8h-0.8zM82.4 257.7h0.8v0.8h-0.8zM83.8 261.6h0.8v0.8h-0.8zM70.4 276.9h0.8v0.8h-0.8zM92.7 241.9h0.8v0.8h-0.8zM98.7 262.6h0.8v0.8h-0.8zM86.8 263.5h0.8v0.8h-0.8zM87.8 259.1h0.8v0.8h-0.8zM70.9 264.0h0.8v0.8h-0.8zM103.9 271.4h0.8v0.8h-0.8zM88.3 255.7h0.8v0.8h-0.8zM83.3 263.6h0.8v0.8h-0.8zM84.1 273.8h0.8v0.8h-0.8zM91.0 253.0h0.8v0.8h-0.8zM84.3 261.5h0.8v0.8h-0.8zM98.4 268.6h0.8v0.8h-0.8zM80.9 259.1h0.8v0.8h-0.8zM91.6 265.7h0.8v0.8h-0.8zM96.1 268.7h0.8v0.8h-0.8zM68.0 255.7h0.8v0.8h-0.8zM82.2 278.1h0.8v0.8h-0.8zM76.9 277.7h0.8v0.8h-0.8zM101.2 274.6h0.8v0.8h-0.8zM77.5 261.4h0.8v0.8h-0.8zM75.7 267.2h0.8v0.8h-0.8zM70.6 247.8h0.8v0.8h-0.8zM73.6 260.6h0.8v0.8h-0.8zM82.0 277.9h0.8v0.8h-0.8zM90.7 263.3h0.8v0.8h-0.8zM85.8 253.4h0.8v0.8h-0.8zM77.0 258.6h0.8v0.8h-0.8zM82.8 250.2h0.8v0.8h-0.8zM80.4 276.2h0.8v0.8h-0.8zM92.4 264.2h0.8v0.8h-0.8zM90.9 261.3h0.8v0.8h-0.8zM69.3 274.7h0.8v0.8h-0.8zM100.5 261.0h0.8v0.8h-0.8zM69.7 255.6h0.8v0.8h-0.8zM100.1 271.6h0.8v0.8h-0.8zM85.9 242.8h0.8v0.8h-0.8zM84.0 246.0h0.8v0.8h-0.8zM96.0 272.9h0.8v0.8h-0.8zM82.0 263.8h0.8v0.8h-0.8zM86.6 258.5h0.8v0.8h-0.8zM75.9 260.3h0.8v0.8h-0.8zM69.4 250.6h0.8v0.8h-0.8zM71.8 254.4h0.8v0.8h-0.8zM89.5 260.9h0.8v0.8h-0.8zM78.9 269.8h0.8v0.8h-0.8zM74.5 257.2h0.8v0.8h-0.8zM95.0 259.8h0.8v0.8h-0.8zM83.3 251.5h0.8v0.8h-0.8zM70.1 277.9h0.8v0.8h-0.8zM99.3 279.4h0.8v0.8h-0.8zM94.2 265.1h0.8v0.8h-0.8zM91.8 249.0h0.8v0.8h-0.8zM79.3 267.4h0.8v0.8h-0.8zM99.2 248.6h0.8v0.8h-0.8zM86.6 276.7h0.8v0.8h-0.8zM80.5 253.5h0.8v0.8h-0.8zM85.2 278.7h0.8v0.8h-0.8zM92.0 262.4h0.8v0.8h-0.8zM85.8 277.8h0.8v0.8h-0.8zM81.2 258.9h0.8v0.8h-0.8zM88.0 270.2h0.8v0.8h-0.8zM99.1 261.5h0.8v0.8h-0.8zM103.2 253.1h0.8v0.8h-0.8zM93.4 263.1h0.8v0.8h-0.8zM99.6 255.5h0.8v0.8h-0.8zM77.1 263.3h0.8v0.8h-0.8zM101.3 278.6h0.8v0.8h-0.8zM78.0 275.5h0.8v0.8h-0.8zM90.1 255.5h0.8v0.8h-0.8zM67.2 280.8h0.8v0.8h-0.8zM76.3 252.8h0.8v0.8h-0.8zM87.1 275.8h0.8v0.8h-0.8zM93.8 274.7h0.8v0.8h-0.8zM86.6 264.0h0.8v0.8h-0.8zM81.6 269.7h0.8v0.8h-0.8zM91.4 272.5h0.8v0.8h-0.8zM82.2 261.0h0.8v0.8h-0.8zM96.0 254.6h0.8v0.8h-0.8zM89.0 268.9h0.8v0.8h-0.8zM73.2 262.3h0.8v0.8h-0.8zM79.3 264.0h0.8v0.8h-0.8zM75.8 275.2h0.8v0.8h-0.8zM100.3 271.1h0.8v0.8h-0.8zM96.1 250.5h0.8v0.8h-0.8zM99.6 276.3h0.8v0.8h-0.8zM92.7 267.3h0.8v0.8h-0.8zM103.2 264.9h0.8v0.8h-0.8zM91.0 272.7h0.8v0.8h-0.8zM98.8 278.2h0.8v0.8h-0.8zM91.3 251.7h0.8v0.8h-0.8zM75.1 258.6h0.8v0.8h-0.8zM94.9 247.4h0.8v0.8h-0.8zM77.2 264.9h0.8v0.8h-0.8zM65.7 265.7h0.8v0.8h-0.8zM84.7 253.4h0.8v0.8h-0.8zM100.4 268.4h0.8v0.8h-0.8zM101.2 256.2h0.8v0.8h-0.8zM68.6 250.1h0.8v0.8h-0.8zM63.9 241.7h0.8v0.8h-0.8zM92.9 271.3h0.8v0.8h-0.8zM81.5 248.7h0.8v0.8h-0.8zM101.6 248.2h0.8v0.8h-0.8zM81.8 270.4h0.8v0.8h-0.8zM82.3 259.1h0.8v0.8h-0.8zM74.8 264.3h0.8v0.8h-0.8zM69.4 274.2h0.8v0.8h-0.8zM73.0 251.6h0.8v0.8h-0.8zM102.1 254.9h0.8v0.8h-0.8zM68.2 244.0h0.8v0.8h-0.8zM85.5 247.0h0.8v0.8h-0.8zM89.0 264.7h0.8v0.8h-0.8zM80.4 241.3h0.8v0.8h-0.8zM78.7 269.4h0.8v0.8h-0.8zM86.3 257.7h0.8v0.8h-0.8zM88.9 271.8h0.8v0.8h-0.8zM85.7 254.9h0.8v0.8h-0.8zM97.0 256.0h0.8v0.8h-0.8zM91.1 275.6h0.8v0.8h-0.8zM100.4 265.8h0.8v0.8h-0.8zM83.2 266.3h0.8v0.8h-0.8zM95.3 254.3h0.8v0.8h-0.8zM83.3 248.6h0.8v0.8h-0.8zM63.8 262.6h0.8v0.8h-0.8zM86.5 251.0h0.8v0.8h-0.8zM92.6 256.0h0.8v0.8h-0.8zM71.8 273.9h0.8v0.8h-0.8zM96.2 262.3h0.8v0.8h-0.8zM97.8 249.6h0.8v0.8h-0.8zM96.4 259.1h0.8v0.8h-0.8zM70.8 242.5h0.8v0.8h-0.8zM102.2 251.6h0.8v0.8h-0.8zM96.6 249.6h0.8v0.8h-0.8zM77.3 261.5h0.8v0.8h-0.8zM89.9 262.8h0.8v0.8h-0.8zM82.6 272.4h0.8v0.8h-0.8zM90.9 257.6h0.8v0.8h-0.8zM86.9 256.1h0.8v0.8h-0.8zM99.0 275.2h0.8v0.8h-0.8zM98.1 261.2h0.8v0.8h-0.8zM84.4 261.5h0.8v0.8h-0.8zM85.8 259.8h0.8v0.8h-0.8zM85.5 252.3h0.8v0.8h-0.8zM79.3 254.5h0.8v0.8h-0.8z" fill="#000"/>
<path d="M106.7 264.6h0.9v0.9h-0.9zM108.7 258.4h0.9v0.9h-0.9zM105.3 256.8h0.9v0.9h-0.9zM106.6 261.7h0.9v0.9h-0.9zM108.6 257.9h0.9v0.9h-0.9zM114.6 278.0h0.9v0.9h-0.9zM105.5 277.8h0.9v0.9h-0.9zM91.5 237.8h0.9v0.9h-0.9zM105.3 278.4h0.9v0.9h-0.9zM104.6 263.9h0.9v0.9h-0.9zM109.9 252.7h0.9v0.9h-0.9zM105.9 262.2h0.9v0.9h-0.9zM105.4 261.9h0.9v0.9h-0.9zM107.9 262.4h0.9v0.9h-0.9zM108.0 279.8h0.9v0.9h-0.9zM108.9 276.3h0.9v0.9h-0.9zM109.1 272.6h0.9v0.9h-0.9zM113.5 279.2h0.9v0.9h-0.9zM105.5 267.2h0.9v0.9h-0.9zM105.8 268.2h0.9v0.9h-0.9zM108.3 277.8h0.9v0.9h-0.9zM105.8 258.0h0.9v0.9h-0.9zM99.3 239.9h0.9v0.9h-0.9zM105.7 277.9h0.9v0.9h-0.9zM112.4 270.3h0.9v0.9h-0.9zM117.7 264.0h0.9v0.9h-0.9zM117.5 270.3h0.9v0.9h-0.9zM129.7 260.4h0.9v0.9h-0.9zM105.3 272.8h0.9v0.9h-0.9zM104.2 271.6h0.9v0.9h-0.9zM118.2 220.7h0.9v0.9h-0.9zM117.3 224.7h0.9v0.9h-0.9zM108.1 210.8h0.9v0.9h-0.9zM121.0 211.8h0.9v0.9h-0.9zM120.6 233.7h0.9v0.9h-0.9zM113.0 203.0h0.9v0.9h-0.9zM119.2 244.3h0.9v0.9h-0.9zM109.5 207.9h0.9v0.9h-0.9zM124.6 227.1h0.9v0.9h-0.9zM111.1 241.8h0.9v0.9h-0.9zM113.8 231.3h0.9v0.9h-0.9zM112.8 214.9h0.9v0.9h-0.9zM117.7 213.4h0.9v0.9h-0.9zM102.1 217.8h0.9v0.9h-0.9zM125.7 240.1h0.9v0.9h-0.9zM133.1 238.6h0.9v0.9h-0.9zM128.7 228.5h0.9v0.9h-0.9zM112.6 231.5h0.9v0.9h-0.9zM108.5 235.1h0.9v0.9h-0.9zM112.5 228.6h0.9v0.9h-0.9zM109.3 223.3h0.9v0.9h-0.9zM115.8 259.6h0.9v0.9h-0.9zM107.7 265.4h0.9v0.9h-0.9zM115.3 259.9h0.9v0.9h-0.9zM105.3 244.0h0.9v0.9h-0.9zM110.6 267.7h0.9v0.9h-0.9zM116.3 265.4h0.9v0.9h-0.9zM113.4 256.2h0.9v0.9h-0.9zM110.5 268.8h0.9v0.9h-0.9zM105.8 260.5h0.9v0.9h-0.9zM120.9 252.3h0.9v0.9h-0.9zM111.5 277.4h0.9v0.9h-0.9zM109.9 263.6h0.9v0.9h-0.9zM108.8 277.1h0.9v0.9h-0.9zM110.6 257.8h0.9v0.9h-0.9zM113.1 259.4h0.9v0.9h-0.9zM108.5 280.0h0.9v0.9h-0.9zM115.8 263.4h0.9v0.9h-0.9zM115.0 271.7h0.9v0.9h-0.9zM113.8 262.7h0.9v0.9h-0.9zM111.4 266.9h0.9v0.9h-0.9zM113.8 266.3h0.9v0.9h-0.9zM108.3 261.3h0.9v0.9h-0.9zM113.2 250.8h0.9v0.9h-0.9zM111.0 270.9h0.9v0.9h-0.9zM111.8 258.9h0.9v0.9h-0.9zM110.9 256.6h0.9v0.9h-0.9zM115.8 257.8h0.9v0.9h-0.9z" fill="#000" fill-opacity="0.7"/>
<rect x="62.5" y="146.1" width="136.0" height="135.70000000000002" fill="none" stroke="#505050" stroke-width="1" />
<line x1="104.5" y1="146.1" x2="104.5" y2="281.8" stroke="#505050" stroke-width="1" />
<line x1="62.5" y1="241.5" x2="198.5" y2="241.5" stroke="#505050" stroke-width="1" />
<line x1="61.0" y1="180.025" x2="62.5" y2="180.025" stroke="#aaa" stroke-width="1" />
<line x1="96.5" y1="281.8" x2="96.5" y2="283.3" stroke="#aaa" stroke-width="1" />
<line x1="61.0" y1="213.95" x2="62.5" y2="213.95" stroke="#aaa" stroke-width="1" />
<line x1="130.5" y1="281.8" x2="130.5" y2="283.3" stroke="#aaa" stroke-width="1" />
<line x1="61.0" y1="247.875" x2="62.5" y2="247.875" stroke="#aaa" stroke-width="1" />
<line x1="164.5" y1="281.8" x2="164.5" y2="283.3" stroke="#aaa" stroke-width="1" />
<text x="109.9" y="20.1" font-size="14.6" font-weight="normal" text-anchor="start" fill="#000" stroke="#000" stroke-width="0.3">control</text>
<text x="109.8" y="36.4" font-size="14.2" font-weight="normal" text-anchor="start" fill="#000" textLength="76" lengthAdjust="spacingAndGlyphs" stroke="#000" stroke-width="0.3">509 EPC/mL</text>
<text x="109.9" y="159.3" font-size="14.6" font-weight="normal" text-anchor="start" fill="#000" stroke="#000" stroke-width="0.3">SLE</text>
<text x="109.8" y="177.5" font-size="14.2" font-weight="normal" text-anchor="start" fill="#000" textLength="76" lengthAdjust="spacingAndGlyphs" stroke="#000" stroke-width="0.3">245 EPC/mL</text>
<text transform="translate(51.4 136.1) rotate(-90)" font-size="14.8" font-weight="bold" text-anchor="middle" fill="#000" textLength="68.6" lengthAdjust="spacingAndGlyphs">CD133-PE</text>
<text x="137.8" y="301.5" font-size="14.5" font-weight="bold" text-anchor="middle" fill="#000" >CD34-FITC</text>
</g>
<g id="panelB">
<text x="308.4" y="18.2" font-size="24.3" font-weight="bold" text-anchor="start" fill="#000" >B</text>
<line x1="511.5" y1="3.0" x2="511.5" y2="286.8" stroke="#777" stroke-width="1" />
<line x1="360.5" y1="3.0" x2="360.5" y2="286.8" stroke="#4a4a4a" stroke-width="1" />
<line x1="358.5" y1="3.0" x2="512.0" y2="3.0" stroke="#333" stroke-width="1.6" />
<line x1="358.5" y1="286.8" x2="512.0" y2="286.8" stroke="#222" stroke-width="1.8" />
<line x1="357.5" y1="286.8" x2="360.5" y2="286.8" stroke="#333" stroke-width="1.2" />
<text x="356.2" y="291.7" font-size="13" font-weight="bold" text-anchor="end" fill="#000" textLength="6.5" lengthAdjust="spacingAndGlyphs">0</text>
<line x1="357.5" y1="215.85000000000002" x2="360.5" y2="215.85000000000002" stroke="#333" stroke-width="1.2" />
<text x="356.2" y="220.75000000000003" font-size="13" font-weight="bold" text-anchor="end" fill="#000" textLength="19.6" lengthAdjust="spacingAndGlyphs">200</text>
<line x1="357.5" y1="144.9" x2="360.5" y2="144.9" stroke="#333" stroke-width="1.2" />
<text x="356.2" y="149.8" font-size="13" font-weight="bold" text-anchor="end" fill="#000" textLength="19.6" lengthAdjust="spacingAndGlyphs">400</text>
<line x1="357.5" y1="73.95000000000002" x2="360.5" y2="73.95000000000002" stroke="#333" stroke-width="1.2" />
<text x="356.2" y="78.85000000000002" font-size="13" font-weight="bold" text-anchor="end" fill="#000" textLength="19.6" lengthAdjust="spacingAndGlyphs">600</text>
<line x1="357.5" y1="3.0" x2="360.5" y2="3.0" stroke="#333" stroke-width="1.2" />
<text x="356.2" y="10.4" font-size="13" font-weight="bold" text-anchor="end" fill="#000" textLength="19.6" lengthAdjust="spacingAndGlyphs">800</text>
<line x1="414.4" y1="33.4" x2="414.4" y2="59.8" stroke="#b0b0b0" stroke-width="1" />
<rect x="392.3" y="59.8" width="43.5" height="227.0" fill="#000" stroke="none" stroke-width="1" />
<line x1="457.5" y1="162.8" x2="457.5" y2="177.0" stroke="#b0b0b0" stroke-width="1" />
<rect x="435.8" y="177.0" width="43.2" height="109.80000000000001" fill="#b2b2b2" stroke="none" stroke-width="1" />
<line x1="435.8" y1="177.5" x2="479.0" y2="177.5" stroke="#222" stroke-width="1.4" />
<line x1="478.8" y1="177.0" x2="478.8" y2="286.8" stroke="#666" stroke-width="1" />
<text x="413.8" y="77.9" font-size="14.5" font-weight="normal" text-anchor="middle" fill="#fff" >n=23</text>
<text x="457.2" y="192.8" font-size="14.5" font-weight="normal" text-anchor="middle" fill="#fff" >n=76</text>
<text x="438.6" y="142.8" font-size="14.3" fill="#000" stroke="#000" stroke-width="0.2"><tspan font-style="italic">P</tspan><tspan dx="-0.6"> &lt;</tspan><tspan dx="-1.2"> .001</tspan></text>
<text x="457.8" y="163.6" font-size="17" font-weight="bold" text-anchor="middle" fill="#111" >*</text>
<text transform="translate(326.6 116.6) rotate(-90)" font-size="14.1" font-weight="bold" text-anchor="middle" fill="#000" >EPC/ml blood</text>
<text transform="translate(423.6 300.5) rotate(-30)" font-size="14.2" font-weight="bold" text-anchor="end" fill="#000" >control</text>
<text transform="translate(464.1 300.5) rotate(-30)" font-size="14.2" font-weight="bold" text-anchor="end" fill="#000" >SLE</text>
</g>
<g id="panelC">
<text x="3.6" y="338.2" font-size="24.4" font-weight="bold" text-anchor="start" fill="#000" >C</text>
<rect x="52.7" y="345.3" width="213.5" height="184.3" fill="none" stroke="#3a3a3a" stroke-width="1.1" />
<line x1="49.7" y1="529.8000000000001" x2="266.8" y2="529.8000000000001" stroke="#333" stroke-width="1.4" />
<line x1="49.7" y1="529.6" x2="52.7" y2="529.6" stroke="#333" stroke-width="1.2" />
<text x="47.9" y="532.2" font-size="13" font-weight="bold" text-anchor="end" fill="#000" textLength="6.7" lengthAdjust="spacingAndGlyphs">0</text>
<line x1="49.7" y1="468.1666666666667" x2="52.7" y2="468.1666666666667" stroke="#333" stroke-width="1.2" />
<text x="47.9" y="472.2" font-size="13" font-weight="bold" text-anchor="end" fill="#000" textLength="20.0" lengthAdjust="spacingAndGlyphs">500</text>
<line x1="49.7" y1="406.73333333333335" x2="52.7" y2="406.73333333333335" stroke="#333" stroke-width="1.2" />
<text x="47.9" y="412.3" font-size="13" font-weight="bold" text-anchor="end" fill="#000" textLength="26.6" lengthAdjust="spacingAndGlyphs">1000</text>
<line x1="49.7" y1="345.3" x2="52.7" y2="345.3" stroke="#333" stroke-width="1.2" />
<text x="47.9" y="352.7" font-size="13" font-weight="bold" text-anchor="end" fill="#000" textLength="26.6" lengthAdjust="spacingAndGlyphs">1500</text>
<circle cx="70.3" cy="364.4" r="1.3" fill="#0a0a0a"/>
<circle cx="70.3" cy="387.0" r="1.3" fill="#0a0a0a"/>
<circle cx="70.3" cy="412.0" r="1.3" fill="#0a0a0a"/>
<circle cx="70.3" cy="414.6" r="1.3" fill="#0a0a0a"/>
<circle cx="70.3" cy="423.1" r="1.3" fill="#0a0a0a"/>
<circle cx="70.3" cy="425.8" r="1.3" fill="#0a0a0a"/>
<circle cx="70.3" cy="443.8" r="1.3" fill="#0a0a0a"/>
<circle cx="70.3" cy="453.5" r="1.3" fill="#0a0a0a"/>
<circle cx="70.3" cy="460.8" r="1.3" fill="#0a0a0a"/>
<circle cx="70.3" cy="464.6" r="1.3" fill="#0a0a0a"/>
<circle cx="70.3" cy="467.7" r="1.3" fill="#0a0a0a"/>
<circle cx="70.3" cy="484.2" r="1.3" fill="#0a0a0a"/>
<circle cx="70.3" cy="485.9" r="1.3" fill="#0a0a0a"/>
<circle cx="70.3" cy="498.8" r="1.3" fill="#0a0a0a"/>
<circle cx="70.3" cy="503.5" r="1.3" fill="#0a0a0a"/>
<circle cx="70.3" cy="508.5" r="1.3" fill="#0a0a0a"/>
<circle cx="70.3" cy="513.2" r="1.3" fill="#0a0a0a"/>
<circle cx="70.3" cy="515.6" r="1.3" fill="#0a0a0a"/>
<line x1="55.7" y1="460.7" x2="84.0" y2="460.7" stroke="#0a0a0a" stroke-width="2.8" stroke-dasharray="2.9 3.4"/>
<rect x="86.9" y="368.09999999999997" width="2.2" height="2.2" fill="none" stroke="#b0b0b0" stroke-width="0.75" />
<rect x="86.9" y="409.4" width="2.2" height="2.2" fill="none" stroke="#b0b0b0" stroke-width="0.75" />
<rect x="86.9" y="411.59999999999997" width="2.2" height="2.2" fill="none" stroke="#b0b0b0" stroke-width="0.75" />
<rect x="86.9" y="437.09999999999997" width="2.2" height="2.2" fill="none" stroke="#b0b0b0" stroke-width="0.75" />
<rect x="86.9" y="475.4" width="2.2" height="2.2" fill="none" stroke="#b0b0b0" stroke-width="0.75" />
<rect x="86.9" y="477.5" width="2.2" height="2.2" fill="none" stroke="#b0b0b0" stroke-width="0.75" />
<rect x="86.9" y="480.5" width="2.2" height="2.2" fill="none" stroke="#b0b0b0" stroke-width="0.75" />
<rect x="86.9" y="482.7" width="2.2" height="2.2" fill="none" stroke="#b0b0b0" stroke-width="0.75" />
<rect x="86.9" y="485.09999999999997" width="2.2" height="2.2" fill="none" stroke="#b0b0b0" stroke-width="0.75" />
<rect x="86.9" y="492.79999999999995" width="2.2" height="2.2" fill="none" stroke="#b0b0b0" stroke-width="0.75" />
<rect x="86.9" y="494.79999999999995" width="2.2" height="2.2" fill="none" stroke="#b0b0b0" stroke-width="0.75" />
<rect x="86.9" y="497.0" width="2.2" height="2.2" fill="none" stroke="#b0b0b0" stroke-width="0.75" />
<rect x="86.9" y="499.59999999999997" width="2.2" height="2.2" fill="none" stroke="#b0b0b0" stroke-width="0.75" />
<rect x="86.9" y="502.09999999999997" width="2.2" height="2.2" fill="none" stroke="#b0b0b0" stroke-width="0.75" />
<rect x="86.9" y="504.29999999999995" width="2.2" height="2.2" fill="none" stroke="#b0b0b0" stroke-width="0.75" />
<rect x="86.9" y="510.09999999999997" width="2.2" height="2.2" fill="none" stroke="#b0b0b0" stroke-width="0.75" />
<rect x="86.9" y="512.8" width="2.2" height="2.2" fill="none" stroke="#b0b0b0" stroke-width="0.75" />
<rect x="86.9" y="520.1" width="2.2" height="2.2" fill="none" stroke="#b0b0b0" stroke-width="0.75" />
<rect x="86.9" y="522.1999999999999" width="2.2" height="2.2" fill="none" stroke="#b0b0b0" stroke-width="0.75" />
<rect x="86.9" y="524.3" width="2.2" height="2.2" fill="none" stroke="#b0b0b0" stroke-width="0.75" />
<rect x="104.80000000000001" y="405.9" width="2.2" height="2.2" fill="none" stroke="#b0b0b0" stroke-width="0.75" />
<rect x="104.80000000000001" y="449.29999999999995" width="2.2" height="2.2" fill="none" stroke="#b0b0b0" stroke-width="0.75" />
<rect x="104.80000000000001" y="481.09999999999997" width="2.2" height="2.2" fill="none" stroke="#b0b0b0" stroke-width="0.75" />
<rect x="104.80000000000001" y="483.2" width="2.2" height="2.2" fill="none" stroke="#b0b0b0" stroke-width="0.75" />
<rect x="104.80000000000001" y="500.09999999999997" width="2.2" height="2.2" fill="none" stroke="#b0b0b0" stroke-width="0.75" />
<rect x="104.80000000000001" y="510.09999999999997" width="2.2" height="2.2" fill="none" stroke="#b0b0b0" stroke-width="0.75" />
<rect x="104.80000000000001" y="519.6" width="2.2" height="2.2" fill="none" stroke="#b0b0b0" stroke-width="0.75" />
<rect x="104.80000000000001" y="522.4" width="2.2" height="2.2" fill="none" stroke="#b0b0b0" stroke-width="0.75" />
<rect x="104.80000000000001" y="524.6999999999999" width="2.2" height="2.2" fill="none" stroke="#b0b0b0" stroke-width="0.75" />
<rect x="104.80000000000001" y="526.8" width="2.2" height="2.2" fill="none" stroke="#b0b0b0" stroke-width="0.75" />
<rect x="113.75" y="495.4" width="2.2" height="2.2" fill="none" stroke="#b0b0b0" stroke-width="0.75" />
<rect x="113.75" y="500.4" width="2.2" height="2.2" fill="none" stroke="#b0b0b0" stroke-width="0.75" />
<rect x="122.7" y="428.2" width="2.2" height="2.2" fill="none" stroke="#b0b0b0" stroke-width="0.75" />
<rect x="122.7" y="460.29999999999995" width="2.2" height="2.2" fill="none" stroke="#b0b0b0" stroke-width="0.75" />
<rect x="122.7" y="488.5" width="2.2" height="2.2" fill="none" stroke="#b0b0b0" stroke-width="0.75" />
<rect x="122.7" y="490.5" width="2.2" height="2.2" fill="none" stroke="#b0b0b0" stroke-width="0.75" />
<rect x="122.7" y="492.5" width="2.2" height="2.2" fill="none" stroke="#b0b0b0" stroke-width="0.75" />
<rect x="122.7" y="513.1" width="2.2" height="2.2" fill="none" stroke="#b0b0b0" stroke-width="0.75" />
<rect x="122.7" y="514.9" width="2.2" height="2.2" fill="none" stroke="#b0b0b0" stroke-width="0.75" />
<rect x="122.7" y="521.1" width="2.2" height="2.2" fill="none" stroke="#b0b0b0" stroke-width="0.75" />
<rect x="122.7" y="523.1999999999999" width="2.2" height="2.2" fill="none" stroke="#b0b0b0" stroke-width="0.75" />
<rect x="122.7" y="525.4" width="2.2" height="2.2" fill="none" stroke="#b0b0b0" stroke-width="0.75" />
<rect x="140.6" y="505.4" width="2.2" height="2.2" fill="none" stroke="#b0b0b0" stroke-width="0.75" />
<rect x="140.6" y="525.6" width="2.2" height="2.2" fill="none" stroke="#b0b0b0" stroke-width="0.75" />
<rect x="149.54999999999998" y="523.1999999999999" width="2.2" height="2.2" fill="none" stroke="#b0b0b0" stroke-width="0.75" />
<rect x="158.5" y="492.79999999999995" width="2.2" height="2.2" fill="none" stroke="#b0b0b0" stroke-width="0.75" />
<rect x="176.4" y="505.59999999999997" width="2.2" height="2.2" fill="none" stroke="#b0b0b0" stroke-width="0.75" />
<rect x="176.4" y="523.1" width="2.2" height="2.2" fill="none" stroke="#b0b0b0" stroke-width="0.75" />
<rect x="176.4" y="526.4" width="2.2" height="2.2" fill="none" stroke="#b0b0b0" stroke-width="0.75" />
<rect x="194.29999999999998" y="461.9" width="2.2" height="2.2" fill="none" stroke="#b0b0b0" stroke-width="0.75" />
<rect x="230.1" y="527.5" width="2.2" height="2.2" fill="none" stroke="#b0b0b0" stroke-width="0.75" />
<rect x="256.94999999999993" y="527.5" width="2.2" height="2.2" fill="none" stroke="#b0b0b0" stroke-width="0.75" />
<line x1="87.6" y1="484.4" x2="228.6" y2="529.4" stroke="#222" stroke-width="1.3" />
<text x="88.4" y="544.0" font-size="12.8" font-weight="bold" text-anchor="middle" fill="#000" >0</text>
<text x="124.2" y="544.0" font-size="12.8" font-weight="bold" text-anchor="middle" fill="#000" >4</text>
<text x="160.0" y="544.0" font-size="12.8" font-weight="bold" text-anchor="middle" fill="#000" >8</text>
<text x="195.99999999999997" y="544.0" font-size="12.8" font-weight="bold" text-anchor="middle" fill="#000" >12</text>
<text x="231.79999999999998" y="544.0" font-size="12.8" font-weight="bold" text-anchor="middle" fill="#000" >16</text>
<text x="265.4" y="544.0" font-size="12.8" font-weight="bold" text-anchor="middle" fill="#000" >20</text>
<line x1="83.8" y1="550.0" x2="271.2" y2="550.0" stroke="#2a2a2a" stroke-width="1.5" />
<text x="168.0" y="568.0" font-size="14.5" font-weight="bold" text-anchor="middle" fill="#000" >SLEDAI</text>
<text transform="translate(72.8 558.6) rotate(-90)" font-size="13.6" font-weight="bold" text-anchor="middle" fill="#000" textLength="47.6" lengthAdjust="spacingAndGlyphs">control</text>
<text transform="translate(16.2 437.8) rotate(-90)" font-size="13.7" font-weight="bold" text-anchor="middle" fill="#000" textLength="91.4" lengthAdjust="spacingAndGlyphs">EPC/mL blood</text>
<text x="185.0" y="374.2" font-size="14.3" fill="#000" stroke="#000" stroke-width="0.2"><tspan font-style="italic">r</tspan>=-0.3453</text>
<text x="185.0" y="394.3" font-size="14.3" fill="#000" stroke="#000" stroke-width="0.2"><tspan font-style="italic">P</tspan> = .011</text>
</g>
<g id="panelD">
<text x="287.6" y="338.0" font-size="24.6" font-weight="bold" text-anchor="start" fill="#000" >D</text>
<line x1="342.8" y1="518.2" x2="516.4" y2="518.2" stroke="#d2d2d2" stroke-width="1" />
<line x1="342.8" y1="464.20000000000005" x2="516.4" y2="464.20000000000005" stroke="#d2d2d2" stroke-width="1" />
<line x1="342.8" y1="410.2" x2="516.4" y2="410.2" stroke="#d2d2d2" stroke-width="1" />
<line x1="342.8" y1="356.2" x2="516.4" y2="356.2" stroke="#d2d2d2" stroke-width="1" />
<line x1="518.4" y1="346.3" x2="518.4" y2="528.3" stroke="#777" stroke-width="1" />
<line x1="342.8" y1="346.3" x2="342.8" y2="528.3" stroke="#606060" stroke-width="1.1" />
<line x1="342.3" y1="346.3" x2="518.9" y2="346.3" stroke="#2a2a2a" stroke-width="1.5" />
<line x1="342.3" y1="528.3" x2="518.9" y2="528.3" stroke="#2a2a2a" stroke-width="1.6" />
<line x1="340.3" y1="518.2" x2="342.8" y2="518.2" stroke="#444" stroke-width="1.1" />
<text x="335.6" y="523.0" font-size="13" font-weight="bold" text-anchor="end" fill="#000" textLength="6.7" lengthAdjust="spacingAndGlyphs">0</text>
<line x1="340.3" y1="464.20000000000005" x2="342.8" y2="464.20000000000005" stroke="#444" stroke-width="1.1" />
<text x="335.6" y="469.7" font-size="13" font-weight="bold" text-anchor="end" fill="#000" textLength="20.1" lengthAdjust="spacingAndGlyphs">500</text>
<line x1="340.3" y1="410.2" x2="342.8" y2="410.2" stroke="#444" stroke-width="1.1" />
<text x="335.6" y="416.0" font-size="13" font-weight="bold" text-anchor="end" fill="#000" textLength="26.8" lengthAdjust="spacingAndGlyphs">1000</text>
<line x1="340.3" y1="356.2" x2="342.8" y2="356.2" stroke="#444" stroke-width="1.1" />
<text x="335.6" y="362.5" font-size="13" font-weight="bold" text-anchor="end" fill="#000" textLength="26.8" lengthAdjust="spacingAndGlyphs">1500</text>
<line x1="381.9" y1="437.2" x2="381.9" y2="518.3" stroke="#777" stroke-width="1" />
<line x1="365.8" y1="437.2" x2="398.4" y2="437.2" stroke="#666" stroke-width="1.1" />
<line x1="365.8" y1="518.3" x2="398.4" y2="518.3" stroke="#666" stroke-width="1.1" />
<rect x="357.4" y="477.6" width="48.7" height="33.6" fill="#4a4a4a" stroke="none" stroke-width="1" />
<line x1="357.4" y1="494.3" x2="406.1" y2="494.3" stroke="#d4d4d4" stroke-width="2.0" />
<ellipse cx="382.2" cy="377.3" rx="2.3" ry="3.1" fill="#484848"/>
<ellipse cx="382.2" cy="409.4" rx="2.3" ry="3.1" fill="#484848"/>
<ellipse cx="382.2" cy="413.9" rx="2.3" ry="3.1" fill="#484848"/>
<ellipse cx="382.2" cy="428.5" rx="2.3" ry="3.1" fill="#484848"/>
<line x1="479.4" y1="447.8" x2="479.4" y2="518.3" stroke="#777" stroke-width="1" />
<line x1="463.4" y1="447.8" x2="495.2" y2="447.8" stroke="#666" stroke-width="1.1" />
<line x1="463.4" y1="518.3" x2="495.2" y2="518.3" stroke="#666" stroke-width="1.1" />
<rect x="455.3" y="458.3" width="48.3" height="42.9" fill="#4a4a4a" stroke="none" stroke-width="1" />
<line x1="455.3" y1="495.4" x2="503.6" y2="495.4" stroke="#d4d4d4" stroke-width="2.0" />
<text x="380.6" y="544.0" font-size="14.2" font-weight="bold" text-anchor="middle" fill="#000" >&lt;10</text>
<text x="475.4" y="544.0" font-size="14.2" font-weight="bold" text-anchor="middle" fill="#000" ><tspan font-size="16.4">&#8805;</tspan>10</text>
<text x="426.2" y="561.3" font-size="14.5" font-weight="bold" text-anchor="middle" fill="#000" >Prednisone, mg/day</text>
<text transform="translate(302.2 437.8) rotate(-90)" font-size="13.7" font-weight="bold" text-anchor="middle" fill="#000" textLength="91.4" lengthAdjust="spacingAndGlyphs">EPC/mL blood</text>
</g>
</svg>
</body>
</html>
